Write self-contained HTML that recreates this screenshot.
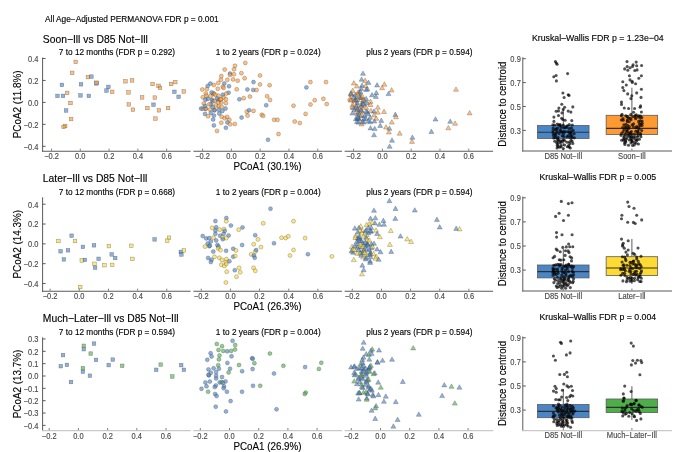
<!DOCTYPE html>
<html><head><meta charset="utf-8"><style>
html,body{margin:0;padding:0;background:#fff;}
svg{display:block;font-family:"Liberation Sans", sans-serif;will-change:transform;}
</style></head><body>
<svg width="685" height="452" viewBox="0 0 685 452">
<rect width="685" height="452" fill="#fff"/>
<text transform="translate(45.00,22.00)" font-size="8.300" text-anchor="start" fill="#000" stroke="#000" stroke-width="0.22" stroke-opacity="0.6">All Age−Adjusted PERMANOVA FDR p = 0.001</text>
<text transform="translate(42.80,43.20)" font-size="10.330" text-anchor="start" fill="#000" stroke="#000" stroke-width="0.22" stroke-opacity="0.6">Soon−Ill vs D85 Not−Ill</text>
<text transform="translate(116.95,55.00)" font-size="8.250" text-anchor="middle" fill="#000" stroke="#000" stroke-width="0.22" stroke-opacity="0.6">7 to 12 months (FDR p = 0.292)</text>
<text transform="translate(268.25,55.00)" font-size="8.250" text-anchor="middle" fill="#000" stroke="#000" stroke-width="0.22" stroke-opacity="0.6">1 to 2 years (FDR p = 0.024)</text>
<text transform="translate(419.45,55.00)" font-size="8.250" text-anchor="middle" fill="#000" stroke="#000" stroke-width="0.22" stroke-opacity="0.6">plus 2 years (FDR p = 0.594)</text>
<line x1="42.60" y1="57.50" x2="42.60" y2="151.70" stroke="#5a5a5a" stroke-width="1.0"/>
<line x1="42.60" y1="58.50" x2="45.60" y2="58.50" stroke="#5a5a5a" stroke-width="1.0"/>
<text transform="translate(38.40,61.90) scale(0.8696,1)" font-size="8.625" text-anchor="end" fill="#464646" stroke="#464646" stroke-width="0.22" stroke-opacity="0.6">0.4</text>
<line x1="42.60" y1="80.45" x2="45.60" y2="80.45" stroke="#5a5a5a" stroke-width="1.0"/>
<text transform="translate(38.40,83.85) scale(0.8696,1)" font-size="8.625" text-anchor="end" fill="#464646" stroke="#464646" stroke-width="0.22" stroke-opacity="0.6">0.2</text>
<line x1="42.60" y1="102.40" x2="45.60" y2="102.40" stroke="#5a5a5a" stroke-width="1.0"/>
<text transform="translate(38.40,105.80) scale(0.8696,1)" font-size="8.625" text-anchor="end" fill="#464646" stroke="#464646" stroke-width="0.22" stroke-opacity="0.6">0.0</text>
<line x1="42.60" y1="124.35" x2="45.60" y2="124.35" stroke="#5a5a5a" stroke-width="1.0"/>
<text transform="translate(38.40,127.75) scale(0.8696,1)" font-size="8.625" text-anchor="end" fill="#464646" stroke="#464646" stroke-width="0.22" stroke-opacity="0.6">−0.2</text>
<line x1="42.60" y1="146.30" x2="45.60" y2="146.30" stroke="#5a5a5a" stroke-width="1.0"/>
<text transform="translate(38.40,149.70) scale(0.8696,1)" font-size="8.625" text-anchor="end" fill="#464646" stroke="#464646" stroke-width="0.22" stroke-opacity="0.6">−0.4</text>
<line x1="42.10" y1="151.20" x2="190.60" y2="151.20" stroke="#5a5a5a" stroke-width="1.1"/>
<line x1="51.52" y1="150.70" x2="51.52" y2="148.70" stroke="#5a5a5a" stroke-width="0.8"/>
<text transform="translate(51.52,159.20) scale(0.8696,1)" font-size="8.625" text-anchor="middle" fill="#464646" stroke="#464646" stroke-width="0.22" stroke-opacity="0.6">−0.2</text>
<line x1="80.30" y1="150.70" x2="80.30" y2="148.70" stroke="#5a5a5a" stroke-width="0.8"/>
<text transform="translate(80.30,159.20) scale(0.8696,1)" font-size="8.625" text-anchor="middle" fill="#464646" stroke="#464646" stroke-width="0.22" stroke-opacity="0.6">0.0</text>
<line x1="109.08" y1="150.70" x2="109.08" y2="148.70" stroke="#5a5a5a" stroke-width="0.8"/>
<text transform="translate(109.08,159.20) scale(0.8696,1)" font-size="8.625" text-anchor="middle" fill="#464646" stroke="#464646" stroke-width="0.22" stroke-opacity="0.6">0.2</text>
<line x1="137.86" y1="150.70" x2="137.86" y2="148.70" stroke="#5a5a5a" stroke-width="0.8"/>
<text transform="translate(137.86,159.20) scale(0.8696,1)" font-size="8.625" text-anchor="middle" fill="#464646" stroke="#464646" stroke-width="0.22" stroke-opacity="0.6">0.4</text>
<line x1="166.64" y1="150.70" x2="166.64" y2="148.70" stroke="#5a5a5a" stroke-width="0.8"/>
<text transform="translate(166.64,159.20) scale(0.8696,1)" font-size="8.625" text-anchor="middle" fill="#464646" stroke="#464646" stroke-width="0.22" stroke-opacity="0.6">0.6</text>
<line x1="193.40" y1="151.20" x2="341.90" y2="151.20" stroke="#5a5a5a" stroke-width="1.1"/>
<line x1="202.62" y1="150.70" x2="202.62" y2="148.70" stroke="#5a5a5a" stroke-width="0.8"/>
<text transform="translate(202.62,159.20) scale(0.8696,1)" font-size="8.625" text-anchor="middle" fill="#464646" stroke="#464646" stroke-width="0.22" stroke-opacity="0.6">−0.2</text>
<line x1="231.40" y1="150.70" x2="231.40" y2="148.70" stroke="#5a5a5a" stroke-width="0.8"/>
<text transform="translate(231.40,159.20) scale(0.8696,1)" font-size="8.625" text-anchor="middle" fill="#464646" stroke="#464646" stroke-width="0.22" stroke-opacity="0.6">0.0</text>
<line x1="260.18" y1="150.70" x2="260.18" y2="148.70" stroke="#5a5a5a" stroke-width="0.8"/>
<text transform="translate(260.18,159.20) scale(0.8696,1)" font-size="8.625" text-anchor="middle" fill="#464646" stroke="#464646" stroke-width="0.22" stroke-opacity="0.6">0.2</text>
<line x1="288.96" y1="150.70" x2="288.96" y2="148.70" stroke="#5a5a5a" stroke-width="0.8"/>
<text transform="translate(288.96,159.20) scale(0.8696,1)" font-size="8.625" text-anchor="middle" fill="#464646" stroke="#464646" stroke-width="0.22" stroke-opacity="0.6">0.4</text>
<line x1="317.74" y1="150.70" x2="317.74" y2="148.70" stroke="#5a5a5a" stroke-width="0.8"/>
<text transform="translate(317.74,159.20) scale(0.8696,1)" font-size="8.625" text-anchor="middle" fill="#464646" stroke="#464646" stroke-width="0.22" stroke-opacity="0.6">0.6</text>
<line x1="344.60" y1="151.20" x2="493.10" y2="151.20" stroke="#5a5a5a" stroke-width="1.1"/>
<line x1="353.62" y1="150.70" x2="353.62" y2="148.70" stroke="#5a5a5a" stroke-width="0.8"/>
<text transform="translate(353.62,159.20) scale(0.8696,1)" font-size="8.625" text-anchor="middle" fill="#464646" stroke="#464646" stroke-width="0.22" stroke-opacity="0.6">−0.2</text>
<line x1="382.40" y1="150.70" x2="382.40" y2="148.70" stroke="#5a5a5a" stroke-width="0.8"/>
<text transform="translate(382.40,159.20) scale(0.8696,1)" font-size="8.625" text-anchor="middle" fill="#464646" stroke="#464646" stroke-width="0.22" stroke-opacity="0.6">0.0</text>
<line x1="411.18" y1="150.70" x2="411.18" y2="148.70" stroke="#5a5a5a" stroke-width="0.8"/>
<text transform="translate(411.18,159.20) scale(0.8696,1)" font-size="8.625" text-anchor="middle" fill="#464646" stroke="#464646" stroke-width="0.22" stroke-opacity="0.6">0.2</text>
<line x1="439.96" y1="150.70" x2="439.96" y2="148.70" stroke="#5a5a5a" stroke-width="0.8"/>
<text transform="translate(439.96,159.20) scale(0.8696,1)" font-size="8.625" text-anchor="middle" fill="#464646" stroke="#464646" stroke-width="0.22" stroke-opacity="0.6">0.4</text>
<line x1="468.74" y1="150.70" x2="468.74" y2="148.70" stroke="#5a5a5a" stroke-width="0.8"/>
<text transform="translate(468.74,159.20) scale(0.8696,1)" font-size="8.625" text-anchor="middle" fill="#464646" stroke="#464646" stroke-width="0.22" stroke-opacity="0.6">0.6</text>
<text transform="translate(267.50,170.40) scale(0.9091,1)" font-size="10.780" text-anchor="middle" fill="#000" stroke="#000" stroke-width="0.22" stroke-opacity="0.6">PCoA1 (30.1%)</text>
<text transform="translate(21.20,104.35) rotate(-90) scale(0.9091,1)" font-size="10.890" text-anchor="middle" fill="#000" stroke="#000" stroke-width="0.22" stroke-opacity="0.6">PCoA2 (11.8%)</text>
<rect x="73.90" y="60.10" width="3.6" height="3.6" fill="#ff9933" fill-opacity="0.62" stroke="#3a3a3a" stroke-width="0.5" stroke-opacity="0.55"/>
<rect x="70.40" y="71.10" width="3.6" height="3.6" fill="#ff9933" fill-opacity="0.62" stroke="#3a3a3a" stroke-width="0.5" stroke-opacity="0.55"/>
<rect x="86.10" y="75.30" width="3.6" height="3.6" fill="#ff9933" fill-opacity="0.62" stroke="#3a3a3a" stroke-width="0.5" stroke-opacity="0.55"/>
<rect x="89.60" y="74.80" width="3.6" height="3.6" fill="#4a83c4" fill-opacity="0.62" stroke="#3a3a3a" stroke-width="0.5" stroke-opacity="0.55"/>
<rect x="94.70" y="81.60" width="3.6" height="3.6" fill="#4a83c4" fill-opacity="0.62" stroke="#3a3a3a" stroke-width="0.5" stroke-opacity="0.55"/>
<rect x="94.70" y="80.90" width="3.6" height="3.6" fill="#ff9933" fill-opacity="0.62" stroke="#3a3a3a" stroke-width="0.5" stroke-opacity="0.55"/>
<rect x="60.10" y="83.10" width="3.6" height="3.6" fill="#4a83c4" fill-opacity="0.62" stroke="#3a3a3a" stroke-width="0.5" stroke-opacity="0.55"/>
<rect x="79.20" y="82.50" width="3.6" height="3.6" fill="#4a83c4" fill-opacity="0.62" stroke="#3a3a3a" stroke-width="0.5" stroke-opacity="0.55"/>
<rect x="106.60" y="85.10" width="3.6" height="3.6" fill="#4a83c4" fill-opacity="0.62" stroke="#3a3a3a" stroke-width="0.5" stroke-opacity="0.55"/>
<rect x="104.70" y="88.80" width="3.6" height="3.6" fill="#4a83c4" fill-opacity="0.62" stroke="#3a3a3a" stroke-width="0.5" stroke-opacity="0.55"/>
<rect x="110.40" y="90.00" width="3.6" height="3.6" fill="#ff9933" fill-opacity="0.62" stroke="#3a3a3a" stroke-width="0.5" stroke-opacity="0.55"/>
<rect x="65.40" y="91.10" width="3.6" height="3.6" fill="#ff9933" fill-opacity="0.62" stroke="#3a3a3a" stroke-width="0.5" stroke-opacity="0.55"/>
<rect x="55.70" y="94.10" width="3.6" height="3.6" fill="#4a83c4" fill-opacity="0.62" stroke="#3a3a3a" stroke-width="0.5" stroke-opacity="0.55"/>
<rect x="61.20" y="94.10" width="3.6" height="3.6" fill="#4a83c4" fill-opacity="0.62" stroke="#3a3a3a" stroke-width="0.5" stroke-opacity="0.55"/>
<rect x="78.70" y="93.60" width="3.6" height="3.6" fill="#4a83c4" fill-opacity="0.62" stroke="#3a3a3a" stroke-width="0.5" stroke-opacity="0.55"/>
<rect x="87.00" y="94.10" width="3.6" height="3.6" fill="#4a83c4" fill-opacity="0.62" stroke="#3a3a3a" stroke-width="0.5" stroke-opacity="0.55"/>
<rect x="68.70" y="101.20" width="3.6" height="3.6" fill="#ff9933" fill-opacity="0.62" stroke="#3a3a3a" stroke-width="0.5" stroke-opacity="0.55"/>
<rect x="64.30" y="108.70" width="3.6" height="3.6" fill="#4a83c4" fill-opacity="0.62" stroke="#3a3a3a" stroke-width="0.5" stroke-opacity="0.55"/>
<rect x="69.30" y="117.20" width="3.6" height="3.6" fill="#ff9933" fill-opacity="0.62" stroke="#3a3a3a" stroke-width="0.5" stroke-opacity="0.55"/>
<rect x="63.40" y="124.20" width="3.6" height="3.6" fill="#ff9933" fill-opacity="0.62" stroke="#3a3a3a" stroke-width="0.5" stroke-opacity="0.55"/>
<rect x="61.80" y="125.10" width="3.6" height="3.6" fill="#ff9933" fill-opacity="0.62" stroke="#3a3a3a" stroke-width="0.5" stroke-opacity="0.55"/>
<rect x="123.70" y="79.50" width="3.6" height="3.6" fill="#ff9933" fill-opacity="0.62" stroke="#3a3a3a" stroke-width="0.5" stroke-opacity="0.55"/>
<rect x="130.30" y="78.60" width="3.6" height="3.6" fill="#ff9933" fill-opacity="0.62" stroke="#3a3a3a" stroke-width="0.5" stroke-opacity="0.55"/>
<rect x="150.80" y="82.20" width="3.6" height="3.6" fill="#ff9933" fill-opacity="0.62" stroke="#3a3a3a" stroke-width="0.5" stroke-opacity="0.55"/>
<rect x="156.70" y="84.00" width="3.6" height="3.6" fill="#ff9933" fill-opacity="0.62" stroke="#3a3a3a" stroke-width="0.5" stroke-opacity="0.55"/>
<rect x="158.20" y="86.10" width="3.6" height="3.6" fill="#ff9933" fill-opacity="0.62" stroke="#3a3a3a" stroke-width="0.5" stroke-opacity="0.55"/>
<rect x="169.30" y="82.20" width="3.6" height="3.6" fill="#ff9933" fill-opacity="0.62" stroke="#3a3a3a" stroke-width="0.5" stroke-opacity="0.55"/>
<rect x="173.50" y="80.30" width="3.6" height="3.6" fill="#ff9933" fill-opacity="0.62" stroke="#3a3a3a" stroke-width="0.5" stroke-opacity="0.55"/>
<rect x="182.00" y="89.70" width="3.6" height="3.6" fill="#ff9933" fill-opacity="0.62" stroke="#3a3a3a" stroke-width="0.5" stroke-opacity="0.55"/>
<rect x="172.60" y="90.00" width="3.6" height="3.6" fill="#4a83c4" fill-opacity="0.62" stroke="#3a3a3a" stroke-width="0.5" stroke-opacity="0.55"/>
<rect x="176.80" y="95.00" width="3.6" height="3.6" fill="#4a83c4" fill-opacity="0.62" stroke="#3a3a3a" stroke-width="0.5" stroke-opacity="0.55"/>
<rect x="126.70" y="90.60" width="3.6" height="3.6" fill="#ff9933" fill-opacity="0.62" stroke="#3a3a3a" stroke-width="0.5" stroke-opacity="0.55"/>
<rect x="140.30" y="95.60" width="3.6" height="3.6" fill="#ff9933" fill-opacity="0.62" stroke="#3a3a3a" stroke-width="0.5" stroke-opacity="0.55"/>
<rect x="153.00" y="95.80" width="3.6" height="3.6" fill="#ff9933" fill-opacity="0.62" stroke="#3a3a3a" stroke-width="0.5" stroke-opacity="0.55"/>
<rect x="127.00" y="102.60" width="3.6" height="3.6" fill="#ff9933" fill-opacity="0.62" stroke="#3a3a3a" stroke-width="0.5" stroke-opacity="0.55"/>
<rect x="151.70" y="102.90" width="3.6" height="3.6" fill="#4a83c4" fill-opacity="0.62" stroke="#3a3a3a" stroke-width="0.5" stroke-opacity="0.55"/>
<rect x="131.10" y="107.90" width="3.6" height="3.6" fill="#ff9933" fill-opacity="0.62" stroke="#3a3a3a" stroke-width="0.5" stroke-opacity="0.55"/>
<rect x="145.60" y="106.20" width="3.6" height="3.6" fill="#ff9933" fill-opacity="0.62" stroke="#3a3a3a" stroke-width="0.5" stroke-opacity="0.55"/>
<rect x="157.10" y="108.50" width="3.6" height="3.6" fill="#ff9933" fill-opacity="0.62" stroke="#3a3a3a" stroke-width="0.5" stroke-opacity="0.55"/>
<rect x="166.30" y="106.20" width="3.6" height="3.6" fill="#ff9933" fill-opacity="0.62" stroke="#3a3a3a" stroke-width="0.5" stroke-opacity="0.55"/>
<rect x="153.60" y="116.80" width="3.6" height="3.6" fill="#ff9933" fill-opacity="0.62" stroke="#3a3a3a" stroke-width="0.5" stroke-opacity="0.55"/>
<circle cx="212.03" cy="99.70" r="2.0" fill="#4a83c4" fill-opacity="0.62" stroke="#3a3a3a" stroke-width="0.5" stroke-opacity="0.55"/>
<circle cx="213.50" cy="94.05" r="2.0" fill="#ff9933" fill-opacity="0.62" stroke="#3a3a3a" stroke-width="0.5" stroke-opacity="0.55"/>
<circle cx="221.39" cy="102.35" r="2.0" fill="#ff9933" fill-opacity="0.62" stroke="#3a3a3a" stroke-width="0.5" stroke-opacity="0.55"/>
<circle cx="214.66" cy="110.08" r="2.0" fill="#ff9933" fill-opacity="0.62" stroke="#3a3a3a" stroke-width="0.5" stroke-opacity="0.55"/>
<circle cx="210.91" cy="104.39" r="2.0" fill="#4a83c4" fill-opacity="0.62" stroke="#3a3a3a" stroke-width="0.5" stroke-opacity="0.55"/>
<circle cx="205.48" cy="109.04" r="2.0" fill="#4a83c4" fill-opacity="0.62" stroke="#3a3a3a" stroke-width="0.5" stroke-opacity="0.55"/>
<circle cx="218.65" cy="100.23" r="2.0" fill="#4a83c4" fill-opacity="0.62" stroke="#3a3a3a" stroke-width="0.5" stroke-opacity="0.55"/>
<circle cx="220.50" cy="99.39" r="2.0" fill="#ff9933" fill-opacity="0.62" stroke="#3a3a3a" stroke-width="0.5" stroke-opacity="0.55"/>
<circle cx="202.82" cy="97.21" r="2.0" fill="#ff9933" fill-opacity="0.62" stroke="#3a3a3a" stroke-width="0.5" stroke-opacity="0.55"/>
<circle cx="218.65" cy="106.17" r="2.0" fill="#ff9933" fill-opacity="0.62" stroke="#3a3a3a" stroke-width="0.5" stroke-opacity="0.55"/>
<circle cx="202.56" cy="108.75" r="2.0" fill="#ff9933" fill-opacity="0.62" stroke="#3a3a3a" stroke-width="0.5" stroke-opacity="0.55"/>
<circle cx="205.00" cy="113.98" r="2.0" fill="#4a83c4" fill-opacity="0.62" stroke="#3a3a3a" stroke-width="0.5" stroke-opacity="0.55"/>
<circle cx="205.87" cy="108.40" r="2.0" fill="#ff9933" fill-opacity="0.62" stroke="#3a3a3a" stroke-width="0.5" stroke-opacity="0.55"/>
<circle cx="213.63" cy="93.23" r="2.0" fill="#ff9933" fill-opacity="0.62" stroke="#3a3a3a" stroke-width="0.5" stroke-opacity="0.55"/>
<circle cx="235.00" cy="65.80" r="2.0" fill="#ff9933" fill-opacity="0.62" stroke="#3a3a3a" stroke-width="0.5" stroke-opacity="0.55"/>
<circle cx="234.00" cy="69.30" r="2.0" fill="#ff9933" fill-opacity="0.62" stroke="#3a3a3a" stroke-width="0.5" stroke-opacity="0.55"/>
<circle cx="224.70" cy="69.60" r="2.0" fill="#ff9933" fill-opacity="0.62" stroke="#3a3a3a" stroke-width="0.5" stroke-opacity="0.55"/>
<circle cx="241.40" cy="73.20" r="2.0" fill="#ff9933" fill-opacity="0.62" stroke="#3a3a3a" stroke-width="0.5" stroke-opacity="0.55"/>
<circle cx="230.00" cy="73.60" r="2.0" fill="#4a83c4" fill-opacity="0.62" stroke="#3a3a3a" stroke-width="0.5" stroke-opacity="0.55"/>
<circle cx="230.00" cy="75.00" r="2.0" fill="#ff9933" fill-opacity="0.62" stroke="#3a3a3a" stroke-width="0.5" stroke-opacity="0.55"/>
<circle cx="233.90" cy="74.30" r="2.0" fill="#ff9933" fill-opacity="0.62" stroke="#3a3a3a" stroke-width="0.5" stroke-opacity="0.55"/>
<circle cx="221.30" cy="76.10" r="2.0" fill="#ff9933" fill-opacity="0.62" stroke="#3a3a3a" stroke-width="0.5" stroke-opacity="0.55"/>
<circle cx="227.40" cy="79.80" r="2.0" fill="#ff9933" fill-opacity="0.62" stroke="#3a3a3a" stroke-width="0.5" stroke-opacity="0.55"/>
<circle cx="233.10" cy="79.40" r="2.0" fill="#ff9933" fill-opacity="0.62" stroke="#3a3a3a" stroke-width="0.5" stroke-opacity="0.55"/>
<circle cx="237.70" cy="80.70" r="2.0" fill="#ff9933" fill-opacity="0.62" stroke="#3a3a3a" stroke-width="0.5" stroke-opacity="0.55"/>
<circle cx="220.90" cy="79.80" r="2.0" fill="#ff9933" fill-opacity="0.62" stroke="#3a3a3a" stroke-width="0.5" stroke-opacity="0.55"/>
<circle cx="218.20" cy="82.90" r="2.0" fill="#ff9933" fill-opacity="0.62" stroke="#3a3a3a" stroke-width="0.5" stroke-opacity="0.55"/>
<circle cx="224.30" cy="83.50" r="2.0" fill="#4a83c4" fill-opacity="0.62" stroke="#3a3a3a" stroke-width="0.5" stroke-opacity="0.55"/>
<circle cx="229.00" cy="86.30" r="2.0" fill="#4a83c4" fill-opacity="0.62" stroke="#3a3a3a" stroke-width="0.5" stroke-opacity="0.55"/>
<circle cx="213.90" cy="85.00" r="2.0" fill="#ff9933" fill-opacity="0.62" stroke="#3a3a3a" stroke-width="0.5" stroke-opacity="0.55"/>
<circle cx="210.40" cy="83.60" r="2.0" fill="#4a83c4" fill-opacity="0.62" stroke="#3a3a3a" stroke-width="0.5" stroke-opacity="0.55"/>
<circle cx="207.70" cy="86.00" r="2.0" fill="#4a83c4" fill-opacity="0.62" stroke="#3a3a3a" stroke-width="0.5" stroke-opacity="0.55"/>
<circle cx="222.80" cy="86.70" r="2.0" fill="#ff9933" fill-opacity="0.62" stroke="#3a3a3a" stroke-width="0.5" stroke-opacity="0.55"/>
<circle cx="223.60" cy="87.90" r="2.0" fill="#ff9933" fill-opacity="0.62" stroke="#3a3a3a" stroke-width="0.5" stroke-opacity="0.55"/>
<circle cx="217.80" cy="88.70" r="2.0" fill="#ff9933" fill-opacity="0.62" stroke="#3a3a3a" stroke-width="0.5" stroke-opacity="0.55"/>
<circle cx="206.90" cy="89.10" r="2.0" fill="#ff9933" fill-opacity="0.62" stroke="#3a3a3a" stroke-width="0.5" stroke-opacity="0.55"/>
<circle cx="202.30" cy="89.50" r="2.0" fill="#ff9933" fill-opacity="0.62" stroke="#3a3a3a" stroke-width="0.5" stroke-opacity="0.55"/>
<circle cx="236.70" cy="89.30" r="2.0" fill="#ff9933" fill-opacity="0.62" stroke="#3a3a3a" stroke-width="0.5" stroke-opacity="0.55"/>
<circle cx="211.60" cy="92.40" r="2.0" fill="#4a83c4" fill-opacity="0.62" stroke="#3a3a3a" stroke-width="0.5" stroke-opacity="0.55"/>
<circle cx="205.80" cy="93.50" r="2.0" fill="#ff9933" fill-opacity="0.62" stroke="#3a3a3a" stroke-width="0.5" stroke-opacity="0.55"/>
<circle cx="215.40" cy="94.70" r="2.0" fill="#ff9933" fill-opacity="0.62" stroke="#3a3a3a" stroke-width="0.5" stroke-opacity="0.55"/>
<circle cx="222.80" cy="94.70" r="2.0" fill="#4a83c4" fill-opacity="0.62" stroke="#3a3a3a" stroke-width="0.5" stroke-opacity="0.55"/>
<circle cx="228.60" cy="92.70" r="2.0" fill="#4a83c4" fill-opacity="0.62" stroke="#3a3a3a" stroke-width="0.5" stroke-opacity="0.55"/>
<circle cx="226.30" cy="93.50" r="2.0" fill="#ff9933" fill-opacity="0.62" stroke="#3a3a3a" stroke-width="0.5" stroke-opacity="0.55"/>
<circle cx="206.50" cy="95.80" r="2.0" fill="#ff9933" fill-opacity="0.62" stroke="#3a3a3a" stroke-width="0.5" stroke-opacity="0.55"/>
<circle cx="210.40" cy="96.20" r="2.0" fill="#ff9933" fill-opacity="0.62" stroke="#3a3a3a" stroke-width="0.5" stroke-opacity="0.55"/>
<circle cx="218.50" cy="95.80" r="2.0" fill="#ff9933" fill-opacity="0.62" stroke="#3a3a3a" stroke-width="0.5" stroke-opacity="0.55"/>
<circle cx="223.60" cy="97.40" r="2.0" fill="#ff9933" fill-opacity="0.62" stroke="#3a3a3a" stroke-width="0.5" stroke-opacity="0.55"/>
<circle cx="207.70" cy="98.90" r="2.0" fill="#4a83c4" fill-opacity="0.62" stroke="#3a3a3a" stroke-width="0.5" stroke-opacity="0.55"/>
<circle cx="205.40" cy="99.70" r="2.0" fill="#4a83c4" fill-opacity="0.62" stroke="#3a3a3a" stroke-width="0.5" stroke-opacity="0.55"/>
<circle cx="217.00" cy="98.50" r="2.0" fill="#4a83c4" fill-opacity="0.62" stroke="#3a3a3a" stroke-width="0.5" stroke-opacity="0.55"/>
<circle cx="220.90" cy="99.30" r="2.0" fill="#ff9933" fill-opacity="0.62" stroke="#3a3a3a" stroke-width="0.5" stroke-opacity="0.55"/>
<circle cx="225.90" cy="99.30" r="2.0" fill="#ff9933" fill-opacity="0.62" stroke="#3a3a3a" stroke-width="0.5" stroke-opacity="0.55"/>
<circle cx="239.40" cy="99.30" r="2.0" fill="#4a83c4" fill-opacity="0.62" stroke="#3a3a3a" stroke-width="0.5" stroke-opacity="0.55"/>
<circle cx="212.70" cy="101.30" r="2.0" fill="#4a83c4" fill-opacity="0.62" stroke="#3a3a3a" stroke-width="0.5" stroke-opacity="0.55"/>
<circle cx="214.70" cy="100.90" r="2.0" fill="#ff9933" fill-opacity="0.62" stroke="#3a3a3a" stroke-width="0.5" stroke-opacity="0.55"/>
<circle cx="218.20" cy="102.40" r="2.0" fill="#ff9933" fill-opacity="0.62" stroke="#3a3a3a" stroke-width="0.5" stroke-opacity="0.55"/>
<circle cx="203.80" cy="103.60" r="2.0" fill="#ff9933" fill-opacity="0.62" stroke="#3a3a3a" stroke-width="0.5" stroke-opacity="0.55"/>
<circle cx="209.30" cy="104.30" r="2.0" fill="#ff9933" fill-opacity="0.62" stroke="#3a3a3a" stroke-width="0.5" stroke-opacity="0.55"/>
<circle cx="225.90" cy="103.20" r="2.0" fill="#ff9933" fill-opacity="0.62" stroke="#3a3a3a" stroke-width="0.5" stroke-opacity="0.55"/>
<circle cx="205.00" cy="105.90" r="2.0" fill="#4a83c4" fill-opacity="0.62" stroke="#3a3a3a" stroke-width="0.5" stroke-opacity="0.55"/>
<circle cx="215.80" cy="105.50" r="2.0" fill="#ff9933" fill-opacity="0.62" stroke="#3a3a3a" stroke-width="0.5" stroke-opacity="0.55"/>
<circle cx="221.60" cy="106.70" r="2.0" fill="#ff9933" fill-opacity="0.62" stroke="#3a3a3a" stroke-width="0.5" stroke-opacity="0.55"/>
<circle cx="212.70" cy="107.10" r="2.0" fill="#4a83c4" fill-opacity="0.62" stroke="#3a3a3a" stroke-width="0.5" stroke-opacity="0.55"/>
<circle cx="201.10" cy="108.60" r="2.0" fill="#4a83c4" fill-opacity="0.62" stroke="#3a3a3a" stroke-width="0.5" stroke-opacity="0.55"/>
<circle cx="210.00" cy="109.40" r="2.0" fill="#ff9933" fill-opacity="0.62" stroke="#3a3a3a" stroke-width="0.5" stroke-opacity="0.55"/>
<circle cx="214.30" cy="110.20" r="2.0" fill="#4a83c4" fill-opacity="0.62" stroke="#3a3a3a" stroke-width="0.5" stroke-opacity="0.55"/>
<circle cx="218.90" cy="109.80" r="2.0" fill="#4a83c4" fill-opacity="0.62" stroke="#3a3a3a" stroke-width="0.5" stroke-opacity="0.55"/>
<circle cx="225.50" cy="108.60" r="2.0" fill="#4a83c4" fill-opacity="0.62" stroke="#3a3a3a" stroke-width="0.5" stroke-opacity="0.55"/>
<circle cx="222.40" cy="110.90" r="2.0" fill="#4a83c4" fill-opacity="0.62" stroke="#3a3a3a" stroke-width="0.5" stroke-opacity="0.55"/>
<circle cx="210.80" cy="112.90" r="2.0" fill="#4a83c4" fill-opacity="0.62" stroke="#3a3a3a" stroke-width="0.5" stroke-opacity="0.55"/>
<circle cx="219.30" cy="113.60" r="2.0" fill="#4a83c4" fill-opacity="0.62" stroke="#3a3a3a" stroke-width="0.5" stroke-opacity="0.55"/>
<circle cx="208.10" cy="116.30" r="2.0" fill="#ff9933" fill-opacity="0.62" stroke="#3a3a3a" stroke-width="0.5" stroke-opacity="0.55"/>
<circle cx="213.90" cy="115.60" r="2.0" fill="#4a83c4" fill-opacity="0.62" stroke="#3a3a3a" stroke-width="0.5" stroke-opacity="0.55"/>
<circle cx="221.60" cy="116.70" r="2.0" fill="#ff9933" fill-opacity="0.62" stroke="#3a3a3a" stroke-width="0.5" stroke-opacity="0.55"/>
<circle cx="224.70" cy="118.30" r="2.0" fill="#ff9933" fill-opacity="0.62" stroke="#3a3a3a" stroke-width="0.5" stroke-opacity="0.55"/>
<circle cx="227.10" cy="116.90" r="2.0" fill="#ff9933" fill-opacity="0.62" stroke="#3a3a3a" stroke-width="0.5" stroke-opacity="0.55"/>
<circle cx="213.10" cy="119.50" r="2.0" fill="#4a83c4" fill-opacity="0.62" stroke="#3a3a3a" stroke-width="0.5" stroke-opacity="0.55"/>
<circle cx="241.60" cy="117.60" r="2.0" fill="#4a83c4" fill-opacity="0.62" stroke="#3a3a3a" stroke-width="0.5" stroke-opacity="0.55"/>
<circle cx="229.40" cy="119.80" r="2.0" fill="#ff9933" fill-opacity="0.62" stroke="#3a3a3a" stroke-width="0.5" stroke-opacity="0.55"/>
<circle cx="221.30" cy="122.70" r="2.0" fill="#ff9933" fill-opacity="0.62" stroke="#3a3a3a" stroke-width="0.5" stroke-opacity="0.55"/>
<circle cx="227.40" cy="122.40" r="2.0" fill="#4a83c4" fill-opacity="0.62" stroke="#3a3a3a" stroke-width="0.5" stroke-opacity="0.55"/>
<circle cx="230.20" cy="124.30" r="2.0" fill="#ff9933" fill-opacity="0.62" stroke="#3a3a3a" stroke-width="0.5" stroke-opacity="0.55"/>
<circle cx="234.80" cy="123.90" r="2.0" fill="#ff9933" fill-opacity="0.62" stroke="#3a3a3a" stroke-width="0.5" stroke-opacity="0.55"/>
<circle cx="213.90" cy="125.40" r="2.0" fill="#4a83c4" fill-opacity="0.62" stroke="#3a3a3a" stroke-width="0.5" stroke-opacity="0.55"/>
<circle cx="225.90" cy="127.80" r="2.0" fill="#4a83c4" fill-opacity="0.62" stroke="#3a3a3a" stroke-width="0.5" stroke-opacity="0.55"/>
<circle cx="217.00" cy="130.90" r="2.0" fill="#ff9933" fill-opacity="0.62" stroke="#3a3a3a" stroke-width="0.5" stroke-opacity="0.55"/>
<circle cx="245.30" cy="62.90" r="2.0" fill="#ff9933" fill-opacity="0.62" stroke="#3a3a3a" stroke-width="0.5" stroke-opacity="0.55"/>
<circle cx="244.60" cy="78.20" r="2.0" fill="#ff9933" fill-opacity="0.62" stroke="#3a3a3a" stroke-width="0.5" stroke-opacity="0.55"/>
<circle cx="260.00" cy="75.50" r="2.0" fill="#ff9933" fill-opacity="0.62" stroke="#3a3a3a" stroke-width="0.5" stroke-opacity="0.55"/>
<circle cx="253.50" cy="82.10" r="2.0" fill="#4a83c4" fill-opacity="0.62" stroke="#3a3a3a" stroke-width="0.5" stroke-opacity="0.55"/>
<circle cx="260.00" cy="84.40" r="2.0" fill="#ff9933" fill-opacity="0.62" stroke="#3a3a3a" stroke-width="0.5" stroke-opacity="0.55"/>
<circle cx="269.60" cy="85.20" r="2.0" fill="#ff9933" fill-opacity="0.62" stroke="#3a3a3a" stroke-width="0.5" stroke-opacity="0.55"/>
<circle cx="247.40" cy="89.40" r="2.0" fill="#4a83c4" fill-opacity="0.62" stroke="#3a3a3a" stroke-width="0.5" stroke-opacity="0.55"/>
<circle cx="253.20" cy="89.90" r="2.0" fill="#4a83c4" fill-opacity="0.62" stroke="#3a3a3a" stroke-width="0.5" stroke-opacity="0.55"/>
<circle cx="256.60" cy="90.00" r="2.0" fill="#ff9933" fill-opacity="0.62" stroke="#3a3a3a" stroke-width="0.5" stroke-opacity="0.55"/>
<circle cx="243.70" cy="98.20" r="2.0" fill="#ff9933" fill-opacity="0.62" stroke="#3a3a3a" stroke-width="0.5" stroke-opacity="0.55"/>
<circle cx="249.90" cy="96.60" r="2.0" fill="#ff9933" fill-opacity="0.62" stroke="#3a3a3a" stroke-width="0.5" stroke-opacity="0.55"/>
<circle cx="267.10" cy="96.20" r="2.0" fill="#ff9933" fill-opacity="0.62" stroke="#3a3a3a" stroke-width="0.5" stroke-opacity="0.55"/>
<circle cx="270.00" cy="99.90" r="2.0" fill="#ff9933" fill-opacity="0.62" stroke="#3a3a3a" stroke-width="0.5" stroke-opacity="0.55"/>
<circle cx="266.20" cy="105.30" r="2.0" fill="#4a83c4" fill-opacity="0.62" stroke="#3a3a3a" stroke-width="0.5" stroke-opacity="0.55"/>
<circle cx="246.80" cy="111.70" r="2.0" fill="#ff9933" fill-opacity="0.62" stroke="#3a3a3a" stroke-width="0.5" stroke-opacity="0.55"/>
<circle cx="249.10" cy="110.20" r="2.0" fill="#4a83c4" fill-opacity="0.62" stroke="#3a3a3a" stroke-width="0.5" stroke-opacity="0.55"/>
<circle cx="253.50" cy="110.90" r="2.0" fill="#ff9933" fill-opacity="0.62" stroke="#3a3a3a" stroke-width="0.5" stroke-opacity="0.55"/>
<circle cx="247.60" cy="115.60" r="2.0" fill="#ff9933" fill-opacity="0.62" stroke="#3a3a3a" stroke-width="0.5" stroke-opacity="0.55"/>
<circle cx="261.70" cy="114.80" r="2.0" fill="#ff9933" fill-opacity="0.62" stroke="#3a3a3a" stroke-width="0.5" stroke-opacity="0.55"/>
<circle cx="263.20" cy="115.80" r="2.0" fill="#ff9933" fill-opacity="0.62" stroke="#3a3a3a" stroke-width="0.5" stroke-opacity="0.55"/>
<circle cx="274.10" cy="119.80" r="2.0" fill="#ff9933" fill-opacity="0.62" stroke="#3a3a3a" stroke-width="0.5" stroke-opacity="0.55"/>
<circle cx="277.50" cy="119.80" r="2.0" fill="#ff9933" fill-opacity="0.62" stroke="#3a3a3a" stroke-width="0.5" stroke-opacity="0.55"/>
<circle cx="278.50" cy="134.00" r="2.0" fill="#ff9933" fill-opacity="0.62" stroke="#3a3a3a" stroke-width="0.5" stroke-opacity="0.55"/>
<circle cx="268.00" cy="139.80" r="2.0" fill="#4a83c4" fill-opacity="0.62" stroke="#3a3a3a" stroke-width="0.5" stroke-opacity="0.55"/>
<circle cx="310.40" cy="82.10" r="2.0" fill="#ff9933" fill-opacity="0.62" stroke="#3a3a3a" stroke-width="0.5" stroke-opacity="0.55"/>
<circle cx="326.00" cy="82.10" r="2.0" fill="#ff9933" fill-opacity="0.62" stroke="#3a3a3a" stroke-width="0.5" stroke-opacity="0.55"/>
<circle cx="306.40" cy="87.40" r="2.0" fill="#4a83c4" fill-opacity="0.62" stroke="#3a3a3a" stroke-width="0.5" stroke-opacity="0.55"/>
<circle cx="314.70" cy="100.20" r="2.0" fill="#ff9933" fill-opacity="0.62" stroke="#3a3a3a" stroke-width="0.5" stroke-opacity="0.55"/>
<circle cx="323.40" cy="98.80" r="2.0" fill="#ff9933" fill-opacity="0.62" stroke="#3a3a3a" stroke-width="0.5" stroke-opacity="0.55"/>
<circle cx="293.50" cy="105.70" r="2.0" fill="#ff9933" fill-opacity="0.62" stroke="#3a3a3a" stroke-width="0.5" stroke-opacity="0.55"/>
<circle cx="310.50" cy="104.50" r="2.0" fill="#ff9933" fill-opacity="0.62" stroke="#3a3a3a" stroke-width="0.5" stroke-opacity="0.55"/>
<circle cx="326.70" cy="104.10" r="2.0" fill="#ff9933" fill-opacity="0.62" stroke="#3a3a3a" stroke-width="0.5" stroke-opacity="0.55"/>
<circle cx="305.60" cy="113.90" r="2.0" fill="#ff9933" fill-opacity="0.62" stroke="#3a3a3a" stroke-width="0.5" stroke-opacity="0.55"/>
<circle cx="294.70" cy="121.50" r="2.0" fill="#ff9933" fill-opacity="0.62" stroke="#3a3a3a" stroke-width="0.5" stroke-opacity="0.55"/>
<circle cx="299.80" cy="123.00" r="2.0" fill="#ff9933" fill-opacity="0.62" stroke="#3a3a3a" stroke-width="0.5" stroke-opacity="0.55"/>
<path d="M357.51 111.26L360.01 115.66L355.01 115.66Z" fill="#4a83c4" fill-opacity="0.62" stroke="#3a3a3a" stroke-width="0.5" stroke-opacity="0.55"/>
<path d="M360.94 95.01L363.44 99.41L358.44 99.41Z" fill="#4a83c4" fill-opacity="0.62" stroke="#3a3a3a" stroke-width="0.5" stroke-opacity="0.55"/>
<path d="M358.56 109.90L361.06 114.30L356.06 114.30Z" fill="#4a83c4" fill-opacity="0.62" stroke="#3a3a3a" stroke-width="0.5" stroke-opacity="0.55"/>
<path d="M352.36 110.66L354.86 115.06L349.86 115.06Z" fill="#4a83c4" fill-opacity="0.62" stroke="#3a3a3a" stroke-width="0.5" stroke-opacity="0.55"/>
<path d="M350.97 97.41L353.47 101.81L348.47 101.81Z" fill="#ff9933" fill-opacity="0.62" stroke="#3a3a3a" stroke-width="0.5" stroke-opacity="0.55"/>
<path d="M357.16 102.13L359.66 106.53L354.66 106.53Z" fill="#ff9933" fill-opacity="0.62" stroke="#3a3a3a" stroke-width="0.5" stroke-opacity="0.55"/>
<path d="M351.49 91.93L353.99 96.33L348.99 96.33Z" fill="#ff9933" fill-opacity="0.62" stroke="#3a3a3a" stroke-width="0.5" stroke-opacity="0.55"/>
<path d="M355.46 96.75L357.96 101.15L352.96 101.15Z" fill="#4a83c4" fill-opacity="0.62" stroke="#3a3a3a" stroke-width="0.5" stroke-opacity="0.55"/>
<path d="M355.84 116.23L358.34 120.63L353.34 120.63Z" fill="#4a83c4" fill-opacity="0.62" stroke="#3a3a3a" stroke-width="0.5" stroke-opacity="0.55"/>
<path d="M361.58 102.22L364.08 106.62L359.08 106.62Z" fill="#4a83c4" fill-opacity="0.62" stroke="#3a3a3a" stroke-width="0.5" stroke-opacity="0.55"/>
<path d="M358.76 116.20L361.26 120.60L356.26 120.60Z" fill="#ff9933" fill-opacity="0.62" stroke="#3a3a3a" stroke-width="0.5" stroke-opacity="0.55"/>
<path d="M355.69 96.70L358.19 101.10L353.19 101.10Z" fill="#4a83c4" fill-opacity="0.62" stroke="#3a3a3a" stroke-width="0.5" stroke-opacity="0.55"/>
<path d="M365.58 115.96L368.08 120.36L363.08 120.36Z" fill="#4a83c4" fill-opacity="0.62" stroke="#3a3a3a" stroke-width="0.5" stroke-opacity="0.55"/>
<path d="M358.13 115.91L360.63 120.31L355.63 120.31Z" fill="#4a83c4" fill-opacity="0.62" stroke="#3a3a3a" stroke-width="0.5" stroke-opacity="0.55"/>
<path d="M353.32 105.27L355.82 109.67L350.82 109.67Z" fill="#4a83c4" fill-opacity="0.62" stroke="#3a3a3a" stroke-width="0.5" stroke-opacity="0.55"/>
<path d="M361.05 95.17L363.55 99.57L358.55 99.57Z" fill="#ff9933" fill-opacity="0.62" stroke="#3a3a3a" stroke-width="0.5" stroke-opacity="0.55"/>
<path d="M355.46 92.21L357.96 96.61L352.96 96.61Z" fill="#4a83c4" fill-opacity="0.62" stroke="#3a3a3a" stroke-width="0.5" stroke-opacity="0.55"/>
<path d="M361.42 107.86L363.92 112.26L358.92 112.26Z" fill="#ff9933" fill-opacity="0.62" stroke="#3a3a3a" stroke-width="0.5" stroke-opacity="0.55"/>
<path d="M367.37 109.67L369.87 114.07L364.87 114.07Z" fill="#4a83c4" fill-opacity="0.62" stroke="#3a3a3a" stroke-width="0.5" stroke-opacity="0.55"/>
<path d="M361.70 108.72L364.20 113.12L359.20 113.12Z" fill="#ff9933" fill-opacity="0.62" stroke="#3a3a3a" stroke-width="0.5" stroke-opacity="0.55"/>
<path d="M351.14 90.51L353.64 94.91L348.64 94.91Z" fill="#ff9933" fill-opacity="0.62" stroke="#3a3a3a" stroke-width="0.5" stroke-opacity="0.55"/>
<path d="M360.79 113.52L363.29 117.92L358.29 117.92Z" fill="#4a83c4" fill-opacity="0.62" stroke="#3a3a3a" stroke-width="0.5" stroke-opacity="0.55"/>
<path d="M357.93 115.52L360.43 119.92L355.43 119.92Z" fill="#4a83c4" fill-opacity="0.62" stroke="#3a3a3a" stroke-width="0.5" stroke-opacity="0.55"/>
<path d="M354.21 98.52L356.71 102.92L351.71 102.92Z" fill="#ff9933" fill-opacity="0.62" stroke="#3a3a3a" stroke-width="0.5" stroke-opacity="0.55"/>
<path d="M361.92 103.58L364.42 107.98L359.42 107.98Z" fill="#4a83c4" fill-opacity="0.62" stroke="#3a3a3a" stroke-width="0.5" stroke-opacity="0.55"/>
<path d="M357.32 106.49L359.82 110.89L354.82 110.89Z" fill="#4a83c4" fill-opacity="0.62" stroke="#3a3a3a" stroke-width="0.5" stroke-opacity="0.55"/>
<path d="M362.74 99.17L365.24 103.57L360.24 103.57Z" fill="#4a83c4" fill-opacity="0.62" stroke="#3a3a3a" stroke-width="0.5" stroke-opacity="0.55"/>
<path d="M359.23 90.32L361.73 94.72L356.73 94.72Z" fill="#4a83c4" fill-opacity="0.62" stroke="#3a3a3a" stroke-width="0.5" stroke-opacity="0.55"/>
<path d="M363.79 101.81L366.29 106.21L361.29 106.21Z" fill="#ff9933" fill-opacity="0.62" stroke="#3a3a3a" stroke-width="0.5" stroke-opacity="0.55"/>
<path d="M356.96 119.10L359.46 123.50L354.46 123.50Z" fill="#4a83c4" fill-opacity="0.62" stroke="#3a3a3a" stroke-width="0.5" stroke-opacity="0.55"/>
<path d="M350.01 95.90L352.51 100.30L347.51 100.30Z" fill="#ff9933" fill-opacity="0.62" stroke="#3a3a3a" stroke-width="0.5" stroke-opacity="0.55"/>
<path d="M358.46 119.79L360.96 124.19L355.96 124.19Z" fill="#4a83c4" fill-opacity="0.62" stroke="#3a3a3a" stroke-width="0.5" stroke-opacity="0.55"/>
<path d="M357.56 106.95L360.06 111.35L355.06 111.35Z" fill="#4a83c4" fill-opacity="0.62" stroke="#3a3a3a" stroke-width="0.5" stroke-opacity="0.55"/>
<path d="M364.01 97.76L366.51 102.16L361.51 102.16Z" fill="#4a83c4" fill-opacity="0.62" stroke="#3a3a3a" stroke-width="0.5" stroke-opacity="0.55"/>
<path d="M363.00 70.90L365.50 75.30L360.50 75.30Z" fill="#4a83c4" fill-opacity="0.62" stroke="#3a3a3a" stroke-width="0.5" stroke-opacity="0.55"/>
<path d="M361.60 76.90L364.10 81.30L359.10 81.30Z" fill="#4a83c4" fill-opacity="0.62" stroke="#3a3a3a" stroke-width="0.5" stroke-opacity="0.55"/>
<path d="M365.10 78.10L367.60 82.50L362.60 82.50Z" fill="#ff9933" fill-opacity="0.62" stroke="#3a3a3a" stroke-width="0.5" stroke-opacity="0.55"/>
<path d="M368.50 80.00L371.00 84.40L366.00 84.40Z" fill="#4a83c4" fill-opacity="0.62" stroke="#3a3a3a" stroke-width="0.5" stroke-opacity="0.55"/>
<path d="M353.80 80.60L356.30 85.00L351.30 85.00Z" fill="#ff9933" fill-opacity="0.62" stroke="#3a3a3a" stroke-width="0.5" stroke-opacity="0.55"/>
<path d="M356.90 83.70L359.40 88.10L354.40 88.10Z" fill="#ff9933" fill-opacity="0.62" stroke="#3a3a3a" stroke-width="0.5" stroke-opacity="0.55"/>
<path d="M362.00 82.90L364.50 87.30L359.50 87.30Z" fill="#4a83c4" fill-opacity="0.62" stroke="#3a3a3a" stroke-width="0.5" stroke-opacity="0.55"/>
<path d="M365.60 83.30L368.10 87.70L363.10 87.70Z" fill="#ff9933" fill-opacity="0.62" stroke="#3a3a3a" stroke-width="0.5" stroke-opacity="0.55"/>
<path d="M377.10 82.60L379.60 87.00L374.60 87.00Z" fill="#4a83c4" fill-opacity="0.62" stroke="#3a3a3a" stroke-width="0.5" stroke-opacity="0.55"/>
<path d="M384.40 81.80L386.90 86.20L381.90 86.20Z" fill="#ff9933" fill-opacity="0.62" stroke="#3a3a3a" stroke-width="0.5" stroke-opacity="0.55"/>
<path d="M382.10 85.30L384.60 89.70L379.60 89.70Z" fill="#ff9933" fill-opacity="0.62" stroke="#3a3a3a" stroke-width="0.5" stroke-opacity="0.55"/>
<path d="M367.40 86.40L369.90 90.80L364.90 90.80Z" fill="#4a83c4" fill-opacity="0.62" stroke="#3a3a3a" stroke-width="0.5" stroke-opacity="0.55"/>
<path d="M366.20 87.20L368.70 91.60L363.70 91.60Z" fill="#4a83c4" fill-opacity="0.62" stroke="#3a3a3a" stroke-width="0.5" stroke-opacity="0.55"/>
<path d="M361.20 86.00L363.70 90.40L358.70 90.40Z" fill="#4a83c4" fill-opacity="0.62" stroke="#3a3a3a" stroke-width="0.5" stroke-opacity="0.55"/>
<path d="M391.60 87.60L394.10 92.00L389.10 92.00Z" fill="#ff9933" fill-opacity="0.62" stroke="#3a3a3a" stroke-width="0.5" stroke-opacity="0.55"/>
<path d="M352.70 88.00L355.20 92.40L350.20 92.40Z" fill="#ff9933" fill-opacity="0.62" stroke="#3a3a3a" stroke-width="0.5" stroke-opacity="0.55"/>
<path d="M358.10 89.90L360.60 94.30L355.60 94.30Z" fill="#ff9933" fill-opacity="0.62" stroke="#3a3a3a" stroke-width="0.5" stroke-opacity="0.55"/>
<path d="M360.40 89.10L362.90 93.50L357.90 93.50Z" fill="#4a83c4" fill-opacity="0.62" stroke="#3a3a3a" stroke-width="0.5" stroke-opacity="0.55"/>
<path d="M376.30 90.30L378.80 94.70L373.80 94.70Z" fill="#4a83c4" fill-opacity="0.62" stroke="#3a3a3a" stroke-width="0.5" stroke-opacity="0.55"/>
<path d="M388.50 91.20L391.00 95.60L386.00 95.60Z" fill="#4a83c4" fill-opacity="0.62" stroke="#3a3a3a" stroke-width="0.5" stroke-opacity="0.55"/>
<path d="M350.70 91.40L353.20 95.80L348.20 95.80Z" fill="#4a83c4" fill-opacity="0.62" stroke="#3a3a3a" stroke-width="0.5" stroke-opacity="0.55"/>
<path d="M372.00 92.40L374.50 96.80L369.50 96.80Z" fill="#4a83c4" fill-opacity="0.62" stroke="#3a3a3a" stroke-width="0.5" stroke-opacity="0.55"/>
<path d="M375.90 94.00L378.40 98.40L373.40 98.40Z" fill="#4a83c4" fill-opacity="0.62" stroke="#3a3a3a" stroke-width="0.5" stroke-opacity="0.55"/>
<path d="M357.70 91.70L360.20 96.10L355.20 96.10Z" fill="#ff9933" fill-opacity="0.62" stroke="#3a3a3a" stroke-width="0.5" stroke-opacity="0.55"/>
<path d="M353.80 94.80L356.30 99.20L351.30 99.20Z" fill="#4a83c4" fill-opacity="0.62" stroke="#3a3a3a" stroke-width="0.5" stroke-opacity="0.55"/>
<path d="M362.30 93.60L364.80 98.00L359.80 98.00Z" fill="#ff9933" fill-opacity="0.62" stroke="#3a3a3a" stroke-width="0.5" stroke-opacity="0.55"/>
<path d="M359.30 94.80L361.80 99.20L356.80 99.20Z" fill="#4a83c4" fill-opacity="0.62" stroke="#3a3a3a" stroke-width="0.5" stroke-opacity="0.55"/>
<path d="M350.70 97.50L353.20 101.90L348.20 101.90Z" fill="#ff9933" fill-opacity="0.62" stroke="#3a3a3a" stroke-width="0.5" stroke-opacity="0.55"/>
<path d="M356.20 97.50L358.70 101.90L353.70 101.90Z" fill="#4a83c4" fill-opacity="0.62" stroke="#3a3a3a" stroke-width="0.5" stroke-opacity="0.55"/>
<path d="M357.70 97.10L360.20 101.50L355.20 101.50Z" fill="#ff9933" fill-opacity="0.62" stroke="#3a3a3a" stroke-width="0.5" stroke-opacity="0.55"/>
<path d="M366.20 96.30L368.70 100.70L363.70 100.70Z" fill="#4a83c4" fill-opacity="0.62" stroke="#3a3a3a" stroke-width="0.5" stroke-opacity="0.55"/>
<path d="M363.10 97.50L365.60 101.90L360.60 101.90Z" fill="#ff9933" fill-opacity="0.62" stroke="#3a3a3a" stroke-width="0.5" stroke-opacity="0.55"/>
<path d="M370.50 99.00L373.00 103.40L368.00 103.40Z" fill="#ff9933" fill-opacity="0.62" stroke="#3a3a3a" stroke-width="0.5" stroke-opacity="0.55"/>
<path d="M357.30 100.20L359.80 104.60L354.80 104.60Z" fill="#4a83c4" fill-opacity="0.62" stroke="#3a3a3a" stroke-width="0.5" stroke-opacity="0.55"/>
<path d="M352.70 102.10L355.20 106.50L350.20 106.50Z" fill="#ff9933" fill-opacity="0.62" stroke="#3a3a3a" stroke-width="0.5" stroke-opacity="0.55"/>
<path d="M363.10 101.30L365.60 105.70L360.60 105.70Z" fill="#4a83c4" fill-opacity="0.62" stroke="#3a3a3a" stroke-width="0.5" stroke-opacity="0.55"/>
<path d="M367.00 100.60L369.50 105.00L364.50 105.00Z" fill="#4a83c4" fill-opacity="0.62" stroke="#3a3a3a" stroke-width="0.5" stroke-opacity="0.55"/>
<path d="M370.50 102.10L373.00 106.50L368.00 106.50Z" fill="#ff9933" fill-opacity="0.62" stroke="#3a3a3a" stroke-width="0.5" stroke-opacity="0.55"/>
<path d="M352.30 104.40L354.80 108.80L349.80 108.80Z" fill="#ff9933" fill-opacity="0.62" stroke="#3a3a3a" stroke-width="0.5" stroke-opacity="0.55"/>
<path d="M356.50 103.70L359.00 108.10L354.00 108.10Z" fill="#4a83c4" fill-opacity="0.62" stroke="#3a3a3a" stroke-width="0.5" stroke-opacity="0.55"/>
<path d="M360.80 104.80L363.30 109.20L358.30 109.20Z" fill="#ff9933" fill-opacity="0.62" stroke="#3a3a3a" stroke-width="0.5" stroke-opacity="0.55"/>
<path d="M366.20 105.20L368.70 109.60L363.70 109.60Z" fill="#ff9933" fill-opacity="0.62" stroke="#3a3a3a" stroke-width="0.5" stroke-opacity="0.55"/>
<path d="M377.80 104.80L380.30 109.20L375.30 109.20Z" fill="#ff9933" fill-opacity="0.62" stroke="#3a3a3a" stroke-width="0.5" stroke-opacity="0.55"/>
<path d="M354.60 107.10L357.10 111.50L352.10 111.50Z" fill="#4a83c4" fill-opacity="0.62" stroke="#3a3a3a" stroke-width="0.5" stroke-opacity="0.55"/>
<path d="M356.50 109.10L359.00 113.50L354.00 113.50Z" fill="#ff9933" fill-opacity="0.62" stroke="#3a3a3a" stroke-width="0.5" stroke-opacity="0.55"/>
<path d="M360.80 107.50L363.30 111.90L358.30 111.90Z" fill="#4a83c4" fill-opacity="0.62" stroke="#3a3a3a" stroke-width="0.5" stroke-opacity="0.55"/>
<path d="M366.20 108.70L368.70 113.10L363.70 113.10Z" fill="#4a83c4" fill-opacity="0.62" stroke="#3a3a3a" stroke-width="0.5" stroke-opacity="0.55"/>
<path d="M370.90 108.30L373.40 112.70L368.40 112.70Z" fill="#ff9933" fill-opacity="0.62" stroke="#3a3a3a" stroke-width="0.5" stroke-opacity="0.55"/>
<path d="M374.00 108.70L376.50 113.10L371.50 113.10Z" fill="#4a83c4" fill-opacity="0.62" stroke="#3a3a3a" stroke-width="0.5" stroke-opacity="0.55"/>
<path d="M377.80 109.80L380.30 114.20L375.30 114.20Z" fill="#ff9933" fill-opacity="0.62" stroke="#3a3a3a" stroke-width="0.5" stroke-opacity="0.55"/>
<path d="M384.00 109.10L386.50 113.50L381.50 113.50Z" fill="#ff9933" fill-opacity="0.62" stroke="#3a3a3a" stroke-width="0.5" stroke-opacity="0.55"/>
<path d="M361.60 112.20L364.10 116.60L359.10 116.60Z" fill="#ff9933" fill-opacity="0.62" stroke="#3a3a3a" stroke-width="0.5" stroke-opacity="0.55"/>
<path d="M364.70 112.90L367.20 117.30L362.20 117.30Z" fill="#4a83c4" fill-opacity="0.62" stroke="#3a3a3a" stroke-width="0.5" stroke-opacity="0.55"/>
<path d="M368.20 111.40L370.70 115.80L365.70 115.80Z" fill="#4a83c4" fill-opacity="0.62" stroke="#3a3a3a" stroke-width="0.5" stroke-opacity="0.55"/>
<path d="M374.00 112.60L376.50 117.00L371.50 117.00Z" fill="#ff9933" fill-opacity="0.62" stroke="#3a3a3a" stroke-width="0.5" stroke-opacity="0.55"/>
<path d="M357.70 114.50L360.20 118.90L355.20 118.90Z" fill="#4a83c4" fill-opacity="0.62" stroke="#3a3a3a" stroke-width="0.5" stroke-opacity="0.55"/>
<path d="M370.10 114.90L372.60 119.30L367.60 119.30Z" fill="#4a83c4" fill-opacity="0.62" stroke="#3a3a3a" stroke-width="0.5" stroke-opacity="0.55"/>
<path d="M376.30 115.90L378.80 120.30L373.80 120.30Z" fill="#ff9933" fill-opacity="0.62" stroke="#3a3a3a" stroke-width="0.5" stroke-opacity="0.55"/>
<path d="M363.90 116.40L366.40 120.80L361.40 120.80Z" fill="#4a83c4" fill-opacity="0.62" stroke="#3a3a3a" stroke-width="0.5" stroke-opacity="0.55"/>
<path d="M381.30 118.00L383.80 122.40L378.80 122.40Z" fill="#4a83c4" fill-opacity="0.62" stroke="#3a3a3a" stroke-width="0.5" stroke-opacity="0.55"/>
<path d="M362.30 119.10L364.80 123.50L359.80 123.50Z" fill="#4a83c4" fill-opacity="0.62" stroke="#3a3a3a" stroke-width="0.5" stroke-opacity="0.55"/>
<path d="M368.50 118.40L371.00 122.80L366.00 122.80Z" fill="#4a83c4" fill-opacity="0.62" stroke="#3a3a3a" stroke-width="0.5" stroke-opacity="0.55"/>
<path d="M374.30 118.60L376.80 123.00L371.80 123.00Z" fill="#4a83c4" fill-opacity="0.62" stroke="#3a3a3a" stroke-width="0.5" stroke-opacity="0.55"/>
<path d="M361.60 121.50L364.10 125.90L359.10 125.90Z" fill="#ff9933" fill-opacity="0.62" stroke="#3a3a3a" stroke-width="0.5" stroke-opacity="0.55"/>
<path d="M391.80 119.70L394.30 124.10L389.30 124.10Z" fill="#ff9933" fill-opacity="0.62" stroke="#3a3a3a" stroke-width="0.5" stroke-opacity="0.55"/>
<path d="M363.90 119.70L366.40 124.10L361.40 124.10Z" fill="#4a83c4" fill-opacity="0.62" stroke="#3a3a3a" stroke-width="0.5" stroke-opacity="0.55"/>
<path d="M370.10 119.30L372.60 123.70L367.60 123.70Z" fill="#4a83c4" fill-opacity="0.62" stroke="#3a3a3a" stroke-width="0.5" stroke-opacity="0.55"/>
<path d="M380.20 123.10L382.70 127.50L377.70 127.50Z" fill="#4a83c4" fill-opacity="0.62" stroke="#3a3a3a" stroke-width="0.5" stroke-opacity="0.55"/>
<path d="M370.50 125.50L373.00 129.90L368.00 129.90Z" fill="#4a83c4" fill-opacity="0.62" stroke="#3a3a3a" stroke-width="0.5" stroke-opacity="0.55"/>
<path d="M374.70 126.20L377.20 130.60L372.20 130.60Z" fill="#4a83c4" fill-opacity="0.62" stroke="#3a3a3a" stroke-width="0.5" stroke-opacity="0.55"/>
<path d="M386.00 124.70L388.50 129.10L383.50 129.10Z" fill="#ff9933" fill-opacity="0.62" stroke="#3a3a3a" stroke-width="0.5" stroke-opacity="0.55"/>
<path d="M389.40 125.90L391.90 130.30L386.90 130.30Z" fill="#4a83c4" fill-opacity="0.62" stroke="#3a3a3a" stroke-width="0.5" stroke-opacity="0.55"/>
<path d="M388.90 129.60L391.40 134.00L386.40 134.00Z" fill="#ff9933" fill-opacity="0.62" stroke="#3a3a3a" stroke-width="0.5" stroke-opacity="0.55"/>
<path d="M374.00 132.40L376.50 136.80L371.50 136.80Z" fill="#4a83c4" fill-opacity="0.62" stroke="#3a3a3a" stroke-width="0.5" stroke-opacity="0.55"/>
<path d="M392.00 137.80L394.50 142.20L389.50 142.20Z" fill="#4a83c4" fill-opacity="0.62" stroke="#3a3a3a" stroke-width="0.5" stroke-opacity="0.55"/>
<path d="M389.60 143.90L392.10 148.30L387.10 148.30Z" fill="#4a83c4" fill-opacity="0.62" stroke="#3a3a3a" stroke-width="0.5" stroke-opacity="0.55"/>
<path d="M395.30 112.10L397.80 116.50L392.80 116.50Z" fill="#4a83c4" fill-opacity="0.62" stroke="#3a3a3a" stroke-width="0.5" stroke-opacity="0.55"/>
<path d="M396.00 114.40L398.50 118.80L393.50 118.80Z" fill="#ff9933" fill-opacity="0.62" stroke="#3a3a3a" stroke-width="0.5" stroke-opacity="0.55"/>
<path d="M399.70 130.80L402.20 135.20L397.20 135.20Z" fill="#ff9933" fill-opacity="0.62" stroke="#3a3a3a" stroke-width="0.5" stroke-opacity="0.55"/>
<path d="M412.40 134.90L414.90 139.30L409.90 139.30Z" fill="#4a83c4" fill-opacity="0.62" stroke="#3a3a3a" stroke-width="0.5" stroke-opacity="0.55"/>
<path d="M412.00 139.00L414.50 143.40L409.50 143.40Z" fill="#ff9933" fill-opacity="0.62" stroke="#3a3a3a" stroke-width="0.5" stroke-opacity="0.55"/>
<path d="M435.50 116.70L438.00 121.10L433.00 121.10Z" fill="#4a83c4" fill-opacity="0.62" stroke="#3a3a3a" stroke-width="0.5" stroke-opacity="0.55"/>
<path d="M431.40 129.10L433.90 133.50L428.90 133.50Z" fill="#4a83c4" fill-opacity="0.62" stroke="#3a3a3a" stroke-width="0.5" stroke-opacity="0.55"/>
<path d="M456.00 86.90L458.50 91.30L453.50 91.30Z" fill="#ff9933" fill-opacity="0.62" stroke="#3a3a3a" stroke-width="0.5" stroke-opacity="0.55"/>
<path d="M469.60 110.50L472.10 114.90L467.10 114.90Z" fill="#ff9933" fill-opacity="0.62" stroke="#3a3a3a" stroke-width="0.5" stroke-opacity="0.55"/>
<path d="M450.20 118.90L452.70 123.30L447.70 123.30Z" fill="#4a83c4" fill-opacity="0.62" stroke="#3a3a3a" stroke-width="0.5" stroke-opacity="0.55"/>
<path d="M455.10 120.90L457.60 125.30L452.60 125.30Z" fill="#ff9933" fill-opacity="0.62" stroke="#3a3a3a" stroke-width="0.5" stroke-opacity="0.55"/>
<path d="M448.30 125.40L450.80 129.80L445.80 129.80Z" fill="#ff9933" fill-opacity="0.62" stroke="#3a3a3a" stroke-width="0.5" stroke-opacity="0.55"/>
<text transform="translate(597.80,41.20)" font-size="8.770" text-anchor="middle" fill="#000" stroke="#000" stroke-width="0.22" stroke-opacity="0.6">Kruskal–Wallis FDR p = 1.23e−04</text>
<line x1="522.80" y1="57.20" x2="522.80" y2="151.50" stroke="#5a5a5a" stroke-width="1.0"/>
<line x1="522.30" y1="151.00" x2="672.00" y2="151.00" stroke="#5a5a5a" stroke-width="1.1"/>
<line x1="522.80" y1="58.70" x2="525.80" y2="58.70" stroke="#5a5a5a" stroke-width="1.0"/>
<text transform="translate(520.80,62.00) scale(0.8696,1)" font-size="8.625" text-anchor="end" fill="#464646" stroke="#464646" stroke-width="0.22" stroke-opacity="0.6">0.9</text>
<line x1="522.80" y1="82.60" x2="525.80" y2="82.60" stroke="#5a5a5a" stroke-width="1.0"/>
<text transform="translate(520.80,85.90) scale(0.8696,1)" font-size="8.625" text-anchor="end" fill="#464646" stroke="#464646" stroke-width="0.22" stroke-opacity="0.6">0.7</text>
<line x1="522.80" y1="106.50" x2="525.80" y2="106.50" stroke="#5a5a5a" stroke-width="1.0"/>
<text transform="translate(520.80,109.80) scale(0.8696,1)" font-size="8.625" text-anchor="end" fill="#464646" stroke="#464646" stroke-width="0.22" stroke-opacity="0.6">0.5</text>
<line x1="522.80" y1="130.40" x2="525.80" y2="130.40" stroke="#5a5a5a" stroke-width="1.0"/>
<text transform="translate(520.80,133.70) scale(0.8696,1)" font-size="8.625" text-anchor="end" fill="#464646" stroke="#464646" stroke-width="0.22" stroke-opacity="0.6">0.3</text>
<line x1="563.30" y1="150.50" x2="563.30" y2="148.50" stroke="#5a5a5a" stroke-width="0.8"/>
<line x1="631.90" y1="150.50" x2="631.90" y2="148.50" stroke="#5a5a5a" stroke-width="0.8"/>
<text transform="translate(563.30,158.80) scale(0.9091,1)" font-size="8.360" text-anchor="middle" fill="#464646" stroke="#464646" stroke-width="0.22" stroke-opacity="0.6">D85 Not−Ill</text>
<text transform="translate(631.90,158.80) scale(0.9091,1)" font-size="8.360" text-anchor="middle" fill="#464646" stroke="#464646" stroke-width="0.22" stroke-opacity="0.6">Soon−Ill</text>
<text transform="translate(506.10,104.10) rotate(-90) scale(0.9091,1)" font-size="10.615" text-anchor="middle" fill="#000" stroke="#000" stroke-width="0.22" stroke-opacity="0.6">Distance to centroid</text>
<line x1="563.30" y1="109.20" x2="563.30" y2="125.50" stroke="#333" stroke-width="0.8"/>
<line x1="563.30" y1="138.50" x2="563.30" y2="146.00" stroke="#333" stroke-width="0.8"/>
<rect x="537.55" y="125.50" width="51.5" height="13.00" fill="#4a86c6" stroke="#5a5a5a" stroke-width="0.8"/>
<line x1="537.55" y1="132.20" x2="589.05" y2="132.20" stroke="#303030" stroke-width="1.15"/>
<line x1="631.90" y1="87.70" x2="631.90" y2="115.30" stroke="#333" stroke-width="0.8"/>
<line x1="631.90" y1="134.50" x2="631.90" y2="143.00" stroke="#333" stroke-width="0.8"/>
<rect x="606.15" y="115.30" width="51.5" height="19.20" fill="#ff9a33" stroke="#5a5a5a" stroke-width="0.8"/>
<line x1="606.15" y1="128.30" x2="657.65" y2="128.30" stroke="#303030" stroke-width="1.15"/>
<circle cx="555.40" cy="61.60" r="1.55" fill="#000" fill-opacity="0.68"/>
<circle cx="556.30" cy="63.00" r="1.55" fill="#000" fill-opacity="0.68"/>
<circle cx="557.10" cy="64.30" r="1.55" fill="#000" fill-opacity="0.68"/>
<circle cx="567.60" cy="73.60" r="1.55" fill="#000" fill-opacity="0.68"/>
<circle cx="556.10" cy="75.50" r="1.55" fill="#000" fill-opacity="0.68"/>
<circle cx="553.80" cy="76.80" r="1.55" fill="#000" fill-opacity="0.68"/>
<circle cx="556.40" cy="80.90" r="1.55" fill="#000" fill-opacity="0.68"/>
<circle cx="562.90" cy="93.00" r="1.55" fill="#000" fill-opacity="0.68"/>
<circle cx="568.20" cy="94.80" r="1.55" fill="#000" fill-opacity="0.68"/>
<circle cx="569.00" cy="95.40" r="1.55" fill="#000" fill-opacity="0.68"/>
<circle cx="564.10" cy="97.50" r="1.55" fill="#000" fill-opacity="0.68"/>
<circle cx="561.80" cy="104.30" r="1.55" fill="#000" fill-opacity="0.68"/>
<circle cx="564.60" cy="107.20" r="1.55" fill="#000" fill-opacity="0.68"/>
<circle cx="572.80" cy="106.90" r="1.55" fill="#000" fill-opacity="0.68"/>
<circle cx="558.90" cy="108.00" r="1.55" fill="#000" fill-opacity="0.68"/>
<circle cx="563.20" cy="109.40" r="1.55" fill="#000" fill-opacity="0.68"/>
<circle cx="556.20" cy="111.30" r="1.55" fill="#000" fill-opacity="0.68"/>
<circle cx="558.50" cy="110.90" r="1.55" fill="#000" fill-opacity="0.68"/>
<circle cx="568.20" cy="111.10" r="1.55" fill="#000" fill-opacity="0.68"/>
<circle cx="570.90" cy="112.10" r="1.55" fill="#000" fill-opacity="0.68"/>
<circle cx="562.00" cy="112.90" r="1.55" fill="#000" fill-opacity="0.68"/>
<circle cx="558.50" cy="115.60" r="1.55" fill="#000" fill-opacity="0.68"/>
<circle cx="553.90" cy="117.10" r="1.55" fill="#000" fill-opacity="0.68"/>
<circle cx="561.60" cy="118.30" r="1.55" fill="#000" fill-opacity="0.68"/>
<circle cx="562.80" cy="119.50" r="1.55" fill="#000" fill-opacity="0.68"/>
<circle cx="565.10" cy="120.20" r="1.55" fill="#000" fill-opacity="0.68"/>
<circle cx="571.80" cy="120.60" r="1.55" fill="#000" fill-opacity="0.68"/>
<circle cx="553.90" cy="121.40" r="1.55" fill="#000" fill-opacity="0.68"/>
<circle cx="557.30" cy="124.10" r="1.55" fill="#000" fill-opacity="0.68"/>
<circle cx="560.10" cy="124.50" r="1.55" fill="#000" fill-opacity="0.68"/>
<circle cx="627.00" cy="61.60" r="1.55" fill="#000" fill-opacity="0.68"/>
<circle cx="636.20" cy="62.10" r="1.55" fill="#000" fill-opacity="0.68"/>
<circle cx="633.10" cy="64.70" r="1.55" fill="#000" fill-opacity="0.68"/>
<circle cx="636.70" cy="65.70" r="1.55" fill="#000" fill-opacity="0.68"/>
<circle cx="641.60" cy="65.50" r="1.55" fill="#000" fill-opacity="0.68"/>
<circle cx="627.20" cy="66.60" r="1.55" fill="#000" fill-opacity="0.68"/>
<circle cx="630.00" cy="67.80" r="1.55" fill="#000" fill-opacity="0.68"/>
<circle cx="632.50" cy="66.50" r="1.55" fill="#000" fill-opacity="0.68"/>
<circle cx="624.70" cy="68.90" r="1.55" fill="#000" fill-opacity="0.68"/>
<circle cx="627.80" cy="70.30" r="1.55" fill="#000" fill-opacity="0.68"/>
<circle cx="634.80" cy="70.50" r="1.55" fill="#000" fill-opacity="0.68"/>
<circle cx="637.10" cy="69.90" r="1.55" fill="#000" fill-opacity="0.68"/>
<circle cx="629.40" cy="75.80" r="1.55" fill="#000" fill-opacity="0.68"/>
<circle cx="641.40" cy="75.80" r="1.55" fill="#000" fill-opacity="0.68"/>
<circle cx="638.80" cy="78.20" r="1.55" fill="#000" fill-opacity="0.68"/>
<circle cx="630.00" cy="79.90" r="1.55" fill="#000" fill-opacity="0.68"/>
<circle cx="632.10" cy="81.20" r="1.55" fill="#000" fill-opacity="0.68"/>
<circle cx="632.30" cy="82.50" r="1.55" fill="#000" fill-opacity="0.68"/>
<circle cx="622.80" cy="81.70" r="1.55" fill="#000" fill-opacity="0.68"/>
<circle cx="635.60" cy="83.70" r="1.55" fill="#000" fill-opacity="0.68"/>
<circle cx="626.30" cy="85.00" r="1.55" fill="#000" fill-opacity="0.68"/>
<circle cx="622.80" cy="87.60" r="1.55" fill="#000" fill-opacity="0.68"/>
<circle cx="641.40" cy="89.20" r="1.55" fill="#000" fill-opacity="0.68"/>
<circle cx="623.90" cy="90.60" r="1.55" fill="#000" fill-opacity="0.68"/>
<circle cx="636.70" cy="92.90" r="1.55" fill="#000" fill-opacity="0.68"/>
<circle cx="627.70" cy="93.90" r="1.55" fill="#000" fill-opacity="0.68"/>
<circle cx="631.80" cy="95.80" r="1.55" fill="#000" fill-opacity="0.68"/>
<circle cx="630.90" cy="98.60" r="1.55" fill="#000" fill-opacity="0.68"/>
<circle cx="641.00" cy="97.40" r="1.55" fill="#000" fill-opacity="0.68"/>
<circle cx="621.50" cy="102.00" r="1.55" fill="#000" fill-opacity="0.68"/>
<circle cx="621.50" cy="104.40" r="1.55" fill="#000" fill-opacity="0.68"/>
<circle cx="640.60" cy="105.90" r="1.55" fill="#000" fill-opacity="0.68"/>
<circle cx="640.10" cy="107.30" r="1.55" fill="#000" fill-opacity="0.68"/>
<circle cx="624.30" cy="108.00" r="1.55" fill="#000" fill-opacity="0.68"/>
<circle cx="628.60" cy="108.50" r="1.55" fill="#000" fill-opacity="0.68"/>
<circle cx="634.60" cy="108.50" r="1.55" fill="#000" fill-opacity="0.68"/>
<circle cx="633.60" cy="112.30" r="1.55" fill="#000" fill-opacity="0.68"/>
<circle cx="641.40" cy="112.00" r="1.55" fill="#000" fill-opacity="0.68"/>
<circle cx="622.00" cy="114.30" r="1.55" fill="#000" fill-opacity="0.68"/>
<circle cx="630.90" cy="114.40" r="1.55" fill="#000" fill-opacity="0.68"/>
<circle cx="636.30" cy="114.80" r="1.55" fill="#000" fill-opacity="0.68"/>
<circle cx="635.20" cy="115.60" r="1.55" fill="#000" fill-opacity="0.68"/>
<circle cx="555.46" cy="137.64" r="1.55" fill="#000" fill-opacity="0.68"/>
<circle cx="569.30" cy="128.45" r="1.55" fill="#000" fill-opacity="0.68"/>
<circle cx="563.40" cy="131.47" r="1.55" fill="#000" fill-opacity="0.68"/>
<circle cx="566.84" cy="136.73" r="1.55" fill="#000" fill-opacity="0.68"/>
<circle cx="554.56" cy="124.94" r="1.55" fill="#000" fill-opacity="0.68"/>
<circle cx="570.89" cy="131.21" r="1.55" fill="#000" fill-opacity="0.68"/>
<circle cx="569.27" cy="124.53" r="1.55" fill="#000" fill-opacity="0.68"/>
<circle cx="562.30" cy="135.68" r="1.55" fill="#000" fill-opacity="0.68"/>
<circle cx="557.53" cy="139.15" r="1.55" fill="#000" fill-opacity="0.68"/>
<circle cx="572.33" cy="124.97" r="1.55" fill="#000" fill-opacity="0.68"/>
<circle cx="553.06" cy="132.89" r="1.55" fill="#000" fill-opacity="0.68"/>
<circle cx="573.16" cy="130.41" r="1.55" fill="#000" fill-opacity="0.68"/>
<circle cx="557.27" cy="131.04" r="1.55" fill="#000" fill-opacity="0.68"/>
<circle cx="553.14" cy="127.94" r="1.55" fill="#000" fill-opacity="0.68"/>
<circle cx="562.13" cy="132.19" r="1.55" fill="#000" fill-opacity="0.68"/>
<circle cx="557.63" cy="128.08" r="1.55" fill="#000" fill-opacity="0.68"/>
<circle cx="558.88" cy="124.83" r="1.55" fill="#000" fill-opacity="0.68"/>
<circle cx="570.93" cy="133.13" r="1.55" fill="#000" fill-opacity="0.68"/>
<circle cx="566.63" cy="127.38" r="1.55" fill="#000" fill-opacity="0.68"/>
<circle cx="574.34" cy="137.83" r="1.55" fill="#000" fill-opacity="0.68"/>
<circle cx="555.16" cy="129.66" r="1.55" fill="#000" fill-opacity="0.68"/>
<circle cx="568.37" cy="135.52" r="1.55" fill="#000" fill-opacity="0.68"/>
<circle cx="570.76" cy="134.89" r="1.55" fill="#000" fill-opacity="0.68"/>
<circle cx="559.17" cy="133.61" r="1.55" fill="#000" fill-opacity="0.68"/>
<circle cx="571.91" cy="137.62" r="1.55" fill="#000" fill-opacity="0.68"/>
<circle cx="563.62" cy="133.63" r="1.55" fill="#000" fill-opacity="0.68"/>
<circle cx="556.31" cy="133.01" r="1.55" fill="#000" fill-opacity="0.68"/>
<circle cx="560.74" cy="131.30" r="1.55" fill="#000" fill-opacity="0.68"/>
<circle cx="563.69" cy="136.57" r="1.55" fill="#000" fill-opacity="0.68"/>
<circle cx="563.27" cy="124.96" r="1.55" fill="#000" fill-opacity="0.68"/>
<circle cx="553.46" cy="135.40" r="1.55" fill="#000" fill-opacity="0.68"/>
<circle cx="574.13" cy="133.69" r="1.55" fill="#000" fill-opacity="0.68"/>
<circle cx="561.16" cy="127.14" r="1.55" fill="#000" fill-opacity="0.68"/>
<circle cx="563.55" cy="139.72" r="1.55" fill="#000" fill-opacity="0.68"/>
<circle cx="569.45" cy="132.86" r="1.55" fill="#000" fill-opacity="0.68"/>
<circle cx="571.43" cy="128.10" r="1.55" fill="#000" fill-opacity="0.68"/>
<circle cx="565.21" cy="131.62" r="1.55" fill="#000" fill-opacity="0.68"/>
<circle cx="569.74" cy="137.22" r="1.55" fill="#000" fill-opacity="0.68"/>
<circle cx="572.00" cy="135.98" r="1.55" fill="#000" fill-opacity="0.68"/>
<circle cx="553.73" cy="137.99" r="1.55" fill="#000" fill-opacity="0.68"/>
<circle cx="565.04" cy="127.60" r="1.55" fill="#000" fill-opacity="0.68"/>
<circle cx="560.35" cy="129.86" r="1.55" fill="#000" fill-opacity="0.68"/>
<circle cx="558.12" cy="137.55" r="1.55" fill="#000" fill-opacity="0.68"/>
<circle cx="567.31" cy="125.79" r="1.55" fill="#000" fill-opacity="0.68"/>
<circle cx="552.87" cy="124.73" r="1.55" fill="#000" fill-opacity="0.68"/>
<circle cx="554.91" cy="134.18" r="1.55" fill="#000" fill-opacity="0.68"/>
<circle cx="560.08" cy="125.58" r="1.55" fill="#000" fill-opacity="0.68"/>
<circle cx="556.20" cy="128.73" r="1.55" fill="#000" fill-opacity="0.68"/>
<circle cx="568.15" cy="131.55" r="1.55" fill="#000" fill-opacity="0.68"/>
<circle cx="553.02" cy="130.49" r="1.55" fill="#000" fill-opacity="0.68"/>
<circle cx="563.72" cy="127.74" r="1.55" fill="#000" fill-opacity="0.68"/>
<circle cx="555.72" cy="135.64" r="1.55" fill="#000" fill-opacity="0.68"/>
<circle cx="556.70" cy="142.82" r="1.55" fill="#000" fill-opacity="0.68"/>
<circle cx="567.06" cy="142.18" r="1.55" fill="#000" fill-opacity="0.68"/>
<circle cx="557.91" cy="143.90" r="1.55" fill="#000" fill-opacity="0.68"/>
<circle cx="569.46" cy="142.07" r="1.55" fill="#000" fill-opacity="0.68"/>
<circle cx="561.40" cy="142.30" r="1.55" fill="#000" fill-opacity="0.68"/>
<circle cx="559.92" cy="142.52" r="1.55" fill="#000" fill-opacity="0.68"/>
<circle cx="554.68" cy="141.19" r="1.55" fill="#000" fill-opacity="0.68"/>
<circle cx="572.86" cy="143.50" r="1.55" fill="#000" fill-opacity="0.68"/>
<circle cx="558.55" cy="140.03" r="1.55" fill="#000" fill-opacity="0.68"/>
<circle cx="571.07" cy="140.15" r="1.55" fill="#000" fill-opacity="0.68"/>
<circle cx="569.89" cy="143.85" r="1.55" fill="#000" fill-opacity="0.68"/>
<circle cx="564.91" cy="140.69" r="1.55" fill="#000" fill-opacity="0.68"/>
<circle cx="562.16" cy="140.78" r="1.55" fill="#000" fill-opacity="0.68"/>
<circle cx="557.52" cy="141.31" r="1.55" fill="#000" fill-opacity="0.68"/>
<circle cx="560.28" cy="140.85" r="1.55" fill="#000" fill-opacity="0.68"/>
<circle cx="572.14" cy="141.38" r="1.55" fill="#000" fill-opacity="0.68"/>
<circle cx="569.24" cy="147.09" r="1.55" fill="#000" fill-opacity="0.68"/>
<circle cx="563.27" cy="148.43" r="1.55" fill="#000" fill-opacity="0.68"/>
<circle cx="559.52" cy="147.26" r="1.55" fill="#000" fill-opacity="0.68"/>
<circle cx="567.39" cy="146.70" r="1.55" fill="#000" fill-opacity="0.68"/>
<circle cx="568.62" cy="145.66" r="1.55" fill="#000" fill-opacity="0.68"/>
<circle cx="561.10" cy="145.31" r="1.55" fill="#000" fill-opacity="0.68"/>
<circle cx="570.31" cy="147.99" r="1.55" fill="#000" fill-opacity="0.68"/>
<circle cx="558.03" cy="146.48" r="1.55" fill="#000" fill-opacity="0.68"/>
<circle cx="557.10" cy="147.90" r="1.55" fill="#000" fill-opacity="0.68"/>
<circle cx="561.11" cy="146.77" r="1.55" fill="#000" fill-opacity="0.68"/>
<circle cx="564.56" cy="145.01" r="1.55" fill="#000" fill-opacity="0.68"/>
<circle cx="557.23" cy="145.20" r="1.55" fill="#000" fill-opacity="0.68"/>
<circle cx="640.10" cy="125.94" r="1.55" fill="#000" fill-opacity="0.68"/>
<circle cx="640.85" cy="123.97" r="1.55" fill="#000" fill-opacity="0.68"/>
<circle cx="626.60" cy="130.06" r="1.55" fill="#000" fill-opacity="0.68"/>
<circle cx="638.71" cy="115.73" r="1.55" fill="#000" fill-opacity="0.68"/>
<circle cx="635.25" cy="117.20" r="1.55" fill="#000" fill-opacity="0.68"/>
<circle cx="623.03" cy="131.87" r="1.55" fill="#000" fill-opacity="0.68"/>
<circle cx="621.38" cy="119.93" r="1.55" fill="#000" fill-opacity="0.68"/>
<circle cx="642.24" cy="123.29" r="1.55" fill="#000" fill-opacity="0.68"/>
<circle cx="623.04" cy="118.60" r="1.55" fill="#000" fill-opacity="0.68"/>
<circle cx="628.82" cy="133.45" r="1.55" fill="#000" fill-opacity="0.68"/>
<circle cx="640.50" cy="120.94" r="1.55" fill="#000" fill-opacity="0.68"/>
<circle cx="626.08" cy="124.32" r="1.55" fill="#000" fill-opacity="0.68"/>
<circle cx="622.70" cy="127.56" r="1.55" fill="#000" fill-opacity="0.68"/>
<circle cx="621.37" cy="115.69" r="1.55" fill="#000" fill-opacity="0.68"/>
<circle cx="642.12" cy="120.97" r="1.55" fill="#000" fill-opacity="0.68"/>
<circle cx="633.62" cy="123.82" r="1.55" fill="#000" fill-opacity="0.68"/>
<circle cx="627.39" cy="116.66" r="1.55" fill="#000" fill-opacity="0.68"/>
<circle cx="640.59" cy="133.44" r="1.55" fill="#000" fill-opacity="0.68"/>
<circle cx="641.84" cy="117.56" r="1.55" fill="#000" fill-opacity="0.68"/>
<circle cx="625.23" cy="126.93" r="1.55" fill="#000" fill-opacity="0.68"/>
<circle cx="642.06" cy="125.54" r="1.55" fill="#000" fill-opacity="0.68"/>
<circle cx="635.64" cy="127.74" r="1.55" fill="#000" fill-opacity="0.68"/>
<circle cx="627.26" cy="120.06" r="1.55" fill="#000" fill-opacity="0.68"/>
<circle cx="627.25" cy="121.55" r="1.55" fill="#000" fill-opacity="0.68"/>
<circle cx="627.47" cy="131.17" r="1.55" fill="#000" fill-opacity="0.68"/>
<circle cx="627.86" cy="125.57" r="1.55" fill="#000" fill-opacity="0.68"/>
<circle cx="633.24" cy="126.53" r="1.55" fill="#000" fill-opacity="0.68"/>
<circle cx="625.89" cy="115.88" r="1.55" fill="#000" fill-opacity="0.68"/>
<circle cx="632.63" cy="116.81" r="1.55" fill="#000" fill-opacity="0.68"/>
<circle cx="631.35" cy="131.46" r="1.55" fill="#000" fill-opacity="0.68"/>
<circle cx="623.89" cy="124.78" r="1.55" fill="#000" fill-opacity="0.68"/>
<circle cx="637.99" cy="116.93" r="1.55" fill="#000" fill-opacity="0.68"/>
<circle cx="637.58" cy="133.72" r="1.55" fill="#000" fill-opacity="0.68"/>
<circle cx="638.57" cy="121.42" r="1.55" fill="#000" fill-opacity="0.68"/>
<circle cx="640.16" cy="118.12" r="1.55" fill="#000" fill-opacity="0.68"/>
<circle cx="640.53" cy="116.09" r="1.55" fill="#000" fill-opacity="0.68"/>
<circle cx="638.18" cy="132.28" r="1.55" fill="#000" fill-opacity="0.68"/>
<circle cx="639.00" cy="129.30" r="1.55" fill="#000" fill-opacity="0.68"/>
<circle cx="635.67" cy="118.80" r="1.55" fill="#000" fill-opacity="0.68"/>
<circle cx="630.02" cy="118.42" r="1.55" fill="#000" fill-opacity="0.68"/>
<circle cx="641.69" cy="130.45" r="1.55" fill="#000" fill-opacity="0.68"/>
<circle cx="639.23" cy="123.89" r="1.55" fill="#000" fill-opacity="0.68"/>
<circle cx="629.21" cy="121.77" r="1.55" fill="#000" fill-opacity="0.68"/>
<circle cx="628.31" cy="118.06" r="1.55" fill="#000" fill-opacity="0.68"/>
<circle cx="623.25" cy="120.29" r="1.55" fill="#000" fill-opacity="0.68"/>
<circle cx="629.32" cy="126.83" r="1.55" fill="#000" fill-opacity="0.68"/>
<circle cx="632.13" cy="124.77" r="1.55" fill="#000" fill-opacity="0.68"/>
<circle cx="631.03" cy="119.66" r="1.55" fill="#000" fill-opacity="0.68"/>
<circle cx="626.55" cy="127.46" r="1.55" fill="#000" fill-opacity="0.68"/>
<circle cx="624.01" cy="129.67" r="1.55" fill="#000" fill-opacity="0.68"/>
<circle cx="635.74" cy="131.21" r="1.55" fill="#000" fill-opacity="0.68"/>
<circle cx="628.68" cy="128.47" r="1.55" fill="#000" fill-opacity="0.68"/>
<circle cx="636.70" cy="126.50" r="1.55" fill="#000" fill-opacity="0.68"/>
<circle cx="621.40" cy="133.65" r="1.55" fill="#000" fill-opacity="0.68"/>
<circle cx="638.27" cy="127.13" r="1.55" fill="#000" fill-opacity="0.68"/>
<circle cx="626.39" cy="132.39" r="1.55" fill="#000" fill-opacity="0.68"/>
<circle cx="637.57" cy="131.08" r="1.55" fill="#000" fill-opacity="0.68"/>
<circle cx="630.29" cy="132.60" r="1.55" fill="#000" fill-opacity="0.68"/>
<circle cx="640.91" cy="136.68" r="1.55" fill="#000" fill-opacity="0.68"/>
<circle cx="637.46" cy="137.03" r="1.55" fill="#000" fill-opacity="0.68"/>
<circle cx="624.38" cy="136.28" r="1.55" fill="#000" fill-opacity="0.68"/>
<circle cx="623.59" cy="140.36" r="1.55" fill="#000" fill-opacity="0.68"/>
<circle cx="640.67" cy="134.83" r="1.55" fill="#000" fill-opacity="0.68"/>
<circle cx="633.31" cy="136.86" r="1.55" fill="#000" fill-opacity="0.68"/>
<circle cx="626.09" cy="139.25" r="1.55" fill="#000" fill-opacity="0.68"/>
<circle cx="621.08" cy="135.33" r="1.55" fill="#000" fill-opacity="0.68"/>
<circle cx="629.99" cy="134.15" r="1.55" fill="#000" fill-opacity="0.68"/>
<circle cx="633.86" cy="138.24" r="1.55" fill="#000" fill-opacity="0.68"/>
<circle cx="638.12" cy="135.45" r="1.55" fill="#000" fill-opacity="0.68"/>
<circle cx="626.84" cy="137.80" r="1.55" fill="#000" fill-opacity="0.68"/>
<circle cx="637.22" cy="139.66" r="1.55" fill="#000" fill-opacity="0.68"/>
<circle cx="631.06" cy="139.99" r="1.55" fill="#000" fill-opacity="0.68"/>
<circle cx="628.86" cy="135.99" r="1.55" fill="#000" fill-opacity="0.68"/>
<circle cx="632.18" cy="140.75" r="1.55" fill="#000" fill-opacity="0.68"/>
<circle cx="636.60" cy="140.81" r="1.55" fill="#000" fill-opacity="0.68"/>
<circle cx="623.80" cy="137.50" r="1.55" fill="#000" fill-opacity="0.68"/>
<circle cx="631.31" cy="136.50" r="1.55" fill="#000" fill-opacity="0.68"/>
<circle cx="631.83" cy="134.01" r="1.55" fill="#000" fill-opacity="0.68"/>
<circle cx="630.07" cy="137.15" r="1.55" fill="#000" fill-opacity="0.68"/>
<circle cx="631.09" cy="138.53" r="1.55" fill="#000" fill-opacity="0.68"/>
<circle cx="627.26" cy="135.19" r="1.55" fill="#000" fill-opacity="0.68"/>
<circle cx="629.31" cy="140.03" r="1.55" fill="#000" fill-opacity="0.68"/>
<circle cx="639.41" cy="139.24" r="1.55" fill="#000" fill-opacity="0.68"/>
<circle cx="634.47" cy="134.14" r="1.55" fill="#000" fill-opacity="0.68"/>
<circle cx="635.15" cy="136.81" r="1.55" fill="#000" fill-opacity="0.68"/>
<circle cx="635.63" cy="139.71" r="1.55" fill="#000" fill-opacity="0.68"/>
<circle cx="625.56" cy="140.75" r="1.55" fill="#000" fill-opacity="0.68"/>
<circle cx="621.63" cy="140.30" r="1.55" fill="#000" fill-opacity="0.68"/>
<circle cx="623.83" cy="139.01" r="1.55" fill="#000" fill-opacity="0.68"/>
<circle cx="624.83" cy="134.39" r="1.55" fill="#000" fill-opacity="0.68"/>
<circle cx="632.56" cy="145.44" r="1.55" fill="#000" fill-opacity="0.68"/>
<circle cx="634.26" cy="145.07" r="1.55" fill="#000" fill-opacity="0.68"/>
<circle cx="638.43" cy="144.07" r="1.55" fill="#000" fill-opacity="0.68"/>
<circle cx="628.48" cy="145.19" r="1.55" fill="#000" fill-opacity="0.68"/>
<circle cx="624.89" cy="144.46" r="1.55" fill="#000" fill-opacity="0.68"/>
<circle cx="624.52" cy="143.00" r="1.55" fill="#000" fill-opacity="0.68"/>
<circle cx="630.92" cy="142.89" r="1.55" fill="#000" fill-opacity="0.68"/>
<circle cx="625.70" cy="142.16" r="1.55" fill="#000" fill-opacity="0.68"/>
<circle cx="636.12" cy="143.31" r="1.55" fill="#000" fill-opacity="0.68"/>
<circle cx="632.28" cy="142.06" r="1.55" fill="#000" fill-opacity="0.68"/>
<circle cx="634.44" cy="142.65" r="1.55" fill="#000" fill-opacity="0.68"/>
<text transform="translate(42.80,182.20)" font-size="10.330" text-anchor="start" fill="#000" stroke="#000" stroke-width="0.22" stroke-opacity="0.6">Later−Ill vs D85 Not−Ill</text>
<text transform="translate(116.95,194.80)" font-size="8.250" text-anchor="middle" fill="#000" stroke="#000" stroke-width="0.22" stroke-opacity="0.6">7 to 12 months (FDR p = 0.668)</text>
<text transform="translate(268.25,194.80)" font-size="8.250" text-anchor="middle" fill="#000" stroke="#000" stroke-width="0.22" stroke-opacity="0.6">1 to 2 years (FDR p = 0.004)</text>
<text transform="translate(419.45,194.80)" font-size="8.250" text-anchor="middle" fill="#000" stroke="#000" stroke-width="0.22" stroke-opacity="0.6">plus 2 years (FDR p = 0.594)</text>
<line x1="42.60" y1="197.30" x2="42.60" y2="291.70" stroke="#5a5a5a" stroke-width="1.0"/>
<line x1="42.60" y1="204.21" x2="45.60" y2="204.21" stroke="#5a5a5a" stroke-width="1.0"/>
<text transform="translate(38.40,207.61) scale(0.8696,1)" font-size="8.625" text-anchor="end" fill="#464646" stroke="#464646" stroke-width="0.22" stroke-opacity="0.6">0.4</text>
<line x1="42.60" y1="224.03" x2="45.60" y2="224.03" stroke="#5a5a5a" stroke-width="1.0"/>
<text transform="translate(38.40,227.43) scale(0.8696,1)" font-size="8.625" text-anchor="end" fill="#464646" stroke="#464646" stroke-width="0.22" stroke-opacity="0.6">0.2</text>
<line x1="42.60" y1="243.85" x2="45.60" y2="243.85" stroke="#5a5a5a" stroke-width="1.0"/>
<text transform="translate(38.40,247.25) scale(0.8696,1)" font-size="8.625" text-anchor="end" fill="#464646" stroke="#464646" stroke-width="0.22" stroke-opacity="0.6">0.0</text>
<line x1="42.60" y1="263.67" x2="45.60" y2="263.67" stroke="#5a5a5a" stroke-width="1.0"/>
<text transform="translate(38.40,267.07) scale(0.8696,1)" font-size="8.625" text-anchor="end" fill="#464646" stroke="#464646" stroke-width="0.22" stroke-opacity="0.6">−0.2</text>
<line x1="42.60" y1="283.49" x2="45.60" y2="283.49" stroke="#5a5a5a" stroke-width="1.0"/>
<text transform="translate(38.40,286.89) scale(0.8696,1)" font-size="8.625" text-anchor="end" fill="#464646" stroke="#464646" stroke-width="0.22" stroke-opacity="0.6">−0.4</text>
<line x1="42.10" y1="291.20" x2="190.60" y2="291.20" stroke="#5a5a5a" stroke-width="1.1"/>
<line x1="50.14" y1="290.70" x2="50.14" y2="288.70" stroke="#5a5a5a" stroke-width="0.8"/>
<text transform="translate(50.14,299.20) scale(0.8696,1)" font-size="8.625" text-anchor="middle" fill="#464646" stroke="#464646" stroke-width="0.22" stroke-opacity="0.6">−0.2</text>
<line x1="79.30" y1="290.70" x2="79.30" y2="288.70" stroke="#5a5a5a" stroke-width="0.8"/>
<text transform="translate(79.30,299.20) scale(0.8696,1)" font-size="8.625" text-anchor="middle" fill="#464646" stroke="#464646" stroke-width="0.22" stroke-opacity="0.6">0.0</text>
<line x1="108.46" y1="290.70" x2="108.46" y2="288.70" stroke="#5a5a5a" stroke-width="0.8"/>
<text transform="translate(108.46,299.20) scale(0.8696,1)" font-size="8.625" text-anchor="middle" fill="#464646" stroke="#464646" stroke-width="0.22" stroke-opacity="0.6">0.2</text>
<line x1="137.62" y1="290.70" x2="137.62" y2="288.70" stroke="#5a5a5a" stroke-width="0.8"/>
<text transform="translate(137.62,299.20) scale(0.8696,1)" font-size="8.625" text-anchor="middle" fill="#464646" stroke="#464646" stroke-width="0.22" stroke-opacity="0.6">0.4</text>
<line x1="166.78" y1="290.70" x2="166.78" y2="288.70" stroke="#5a5a5a" stroke-width="0.8"/>
<text transform="translate(166.78,299.20) scale(0.8696,1)" font-size="8.625" text-anchor="middle" fill="#464646" stroke="#464646" stroke-width="0.22" stroke-opacity="0.6">0.6</text>
<line x1="193.40" y1="291.20" x2="341.90" y2="291.20" stroke="#5a5a5a" stroke-width="1.1"/>
<line x1="201.24" y1="290.70" x2="201.24" y2="288.70" stroke="#5a5a5a" stroke-width="0.8"/>
<text transform="translate(201.24,299.20) scale(0.8696,1)" font-size="8.625" text-anchor="middle" fill="#464646" stroke="#464646" stroke-width="0.22" stroke-opacity="0.6">−0.2</text>
<line x1="230.40" y1="290.70" x2="230.40" y2="288.70" stroke="#5a5a5a" stroke-width="0.8"/>
<text transform="translate(230.40,299.20) scale(0.8696,1)" font-size="8.625" text-anchor="middle" fill="#464646" stroke="#464646" stroke-width="0.22" stroke-opacity="0.6">0.0</text>
<line x1="259.56" y1="290.70" x2="259.56" y2="288.70" stroke="#5a5a5a" stroke-width="0.8"/>
<text transform="translate(259.56,299.20) scale(0.8696,1)" font-size="8.625" text-anchor="middle" fill="#464646" stroke="#464646" stroke-width="0.22" stroke-opacity="0.6">0.2</text>
<line x1="288.72" y1="290.70" x2="288.72" y2="288.70" stroke="#5a5a5a" stroke-width="0.8"/>
<text transform="translate(288.72,299.20) scale(0.8696,1)" font-size="8.625" text-anchor="middle" fill="#464646" stroke="#464646" stroke-width="0.22" stroke-opacity="0.6">0.4</text>
<line x1="317.88" y1="290.70" x2="317.88" y2="288.70" stroke="#5a5a5a" stroke-width="0.8"/>
<text transform="translate(317.88,299.20) scale(0.8696,1)" font-size="8.625" text-anchor="middle" fill="#464646" stroke="#464646" stroke-width="0.22" stroke-opacity="0.6">0.6</text>
<line x1="344.60" y1="291.20" x2="493.10" y2="291.20" stroke="#5a5a5a" stroke-width="1.1"/>
<line x1="352.24" y1="290.70" x2="352.24" y2="288.70" stroke="#5a5a5a" stroke-width="0.8"/>
<text transform="translate(352.24,299.20) scale(0.8696,1)" font-size="8.625" text-anchor="middle" fill="#464646" stroke="#464646" stroke-width="0.22" stroke-opacity="0.6">−0.2</text>
<line x1="381.40" y1="290.70" x2="381.40" y2="288.70" stroke="#5a5a5a" stroke-width="0.8"/>
<text transform="translate(381.40,299.20) scale(0.8696,1)" font-size="8.625" text-anchor="middle" fill="#464646" stroke="#464646" stroke-width="0.22" stroke-opacity="0.6">0.0</text>
<line x1="410.56" y1="290.70" x2="410.56" y2="288.70" stroke="#5a5a5a" stroke-width="0.8"/>
<text transform="translate(410.56,299.20) scale(0.8696,1)" font-size="8.625" text-anchor="middle" fill="#464646" stroke="#464646" stroke-width="0.22" stroke-opacity="0.6">0.2</text>
<line x1="439.72" y1="290.70" x2="439.72" y2="288.70" stroke="#5a5a5a" stroke-width="0.8"/>
<text transform="translate(439.72,299.20) scale(0.8696,1)" font-size="8.625" text-anchor="middle" fill="#464646" stroke="#464646" stroke-width="0.22" stroke-opacity="0.6">0.4</text>
<line x1="468.88" y1="290.70" x2="468.88" y2="288.70" stroke="#5a5a5a" stroke-width="0.8"/>
<text transform="translate(468.88,299.20) scale(0.8696,1)" font-size="8.625" text-anchor="middle" fill="#464646" stroke="#464646" stroke-width="0.22" stroke-opacity="0.6">0.6</text>
<text transform="translate(267.50,310.40) scale(0.9091,1)" font-size="10.780" text-anchor="middle" fill="#000" stroke="#000" stroke-width="0.22" stroke-opacity="0.6">PCoA1 (26.3%)</text>
<text transform="translate(21.20,244.25) rotate(-90) scale(0.9091,1)" font-size="10.890" text-anchor="middle" fill="#000" stroke="#000" stroke-width="0.22" stroke-opacity="0.6">PCoA2 (14.3%)</text>
<rect x="69.80" y="233.90" width="3.6" height="3.6" fill="#4a83c4" fill-opacity="0.62" stroke="#3a3a3a" stroke-width="0.5" stroke-opacity="0.55"/>
<rect x="56.60" y="239.20" width="3.6" height="3.6" fill="#ffd92f" fill-opacity="0.62" stroke="#3a3a3a" stroke-width="0.5" stroke-opacity="0.55"/>
<rect x="73.20" y="239.20" width="3.6" height="3.6" fill="#ffd92f" fill-opacity="0.62" stroke="#3a3a3a" stroke-width="0.5" stroke-opacity="0.55"/>
<rect x="81.10" y="245.10" width="3.6" height="3.6" fill="#4a83c4" fill-opacity="0.62" stroke="#3a3a3a" stroke-width="0.5" stroke-opacity="0.55"/>
<rect x="92.20" y="243.50" width="3.6" height="3.6" fill="#4a83c4" fill-opacity="0.62" stroke="#3a3a3a" stroke-width="0.5" stroke-opacity="0.55"/>
<rect x="107.10" y="244.30" width="3.6" height="3.6" fill="#ffd92f" fill-opacity="0.62" stroke="#3a3a3a" stroke-width="0.5" stroke-opacity="0.55"/>
<rect x="58.80" y="249.50" width="3.6" height="3.6" fill="#4a83c4" fill-opacity="0.62" stroke="#3a3a3a" stroke-width="0.5" stroke-opacity="0.55"/>
<rect x="66.20" y="248.50" width="3.6" height="3.6" fill="#4a83c4" fill-opacity="0.62" stroke="#3a3a3a" stroke-width="0.5" stroke-opacity="0.55"/>
<rect x="109.90" y="252.60" width="3.6" height="3.6" fill="#4a83c4" fill-opacity="0.62" stroke="#3a3a3a" stroke-width="0.5" stroke-opacity="0.55"/>
<rect x="113.40" y="256.20" width="3.6" height="3.6" fill="#4a83c4" fill-opacity="0.62" stroke="#3a3a3a" stroke-width="0.5" stroke-opacity="0.55"/>
<rect x="62.10" y="257.60" width="3.6" height="3.6" fill="#4a83c4" fill-opacity="0.62" stroke="#3a3a3a" stroke-width="0.5" stroke-opacity="0.55"/>
<rect x="80.00" y="258.70" width="3.6" height="3.6" fill="#ffd92f" fill-opacity="0.62" stroke="#3a3a3a" stroke-width="0.5" stroke-opacity="0.55"/>
<rect x="83.10" y="258.10" width="3.6" height="3.6" fill="#4a83c4" fill-opacity="0.62" stroke="#3a3a3a" stroke-width="0.5" stroke-opacity="0.55"/>
<rect x="96.80" y="257.00" width="3.6" height="3.6" fill="#4a83c4" fill-opacity="0.62" stroke="#3a3a3a" stroke-width="0.5" stroke-opacity="0.55"/>
<rect x="92.70" y="262.00" width="3.6" height="3.6" fill="#ffd92f" fill-opacity="0.62" stroke="#3a3a3a" stroke-width="0.5" stroke-opacity="0.55"/>
<rect x="93.30" y="265.90" width="3.6" height="3.6" fill="#4a83c4" fill-opacity="0.62" stroke="#3a3a3a" stroke-width="0.5" stroke-opacity="0.55"/>
<rect x="102.70" y="263.40" width="3.6" height="3.6" fill="#ffd92f" fill-opacity="0.62" stroke="#3a3a3a" stroke-width="0.5" stroke-opacity="0.55"/>
<rect x="110.40" y="263.10" width="3.6" height="3.6" fill="#ffd92f" fill-opacity="0.62" stroke="#3a3a3a" stroke-width="0.5" stroke-opacity="0.55"/>
<rect x="78.40" y="285.20" width="3.6" height="3.6" fill="#ffd92f" fill-opacity="0.62" stroke="#3a3a3a" stroke-width="0.5" stroke-opacity="0.55"/>
<rect x="129.50" y="244.00" width="3.6" height="3.6" fill="#ffd92f" fill-opacity="0.62" stroke="#3a3a3a" stroke-width="0.5" stroke-opacity="0.55"/>
<rect x="152.80" y="237.60" width="3.6" height="3.6" fill="#4a83c4" fill-opacity="0.62" stroke="#3a3a3a" stroke-width="0.5" stroke-opacity="0.55"/>
<rect x="167.20" y="235.90" width="3.6" height="3.6" fill="#ffd92f" fill-opacity="0.62" stroke="#3a3a3a" stroke-width="0.5" stroke-opacity="0.55"/>
<rect x="165.40" y="238.90" width="3.6" height="3.6" fill="#ffd92f" fill-opacity="0.62" stroke="#3a3a3a" stroke-width="0.5" stroke-opacity="0.55"/>
<rect x="179.00" y="250.10" width="3.6" height="3.6" fill="#4a83c4" fill-opacity="0.62" stroke="#3a3a3a" stroke-width="0.5" stroke-opacity="0.55"/>
<rect x="179.60" y="252.70" width="3.6" height="3.6" fill="#4a83c4" fill-opacity="0.62" stroke="#3a3a3a" stroke-width="0.5" stroke-opacity="0.55"/>
<rect x="182.10" y="248.60" width="3.6" height="3.6" fill="#ffd92f" fill-opacity="0.62" stroke="#3a3a3a" stroke-width="0.5" stroke-opacity="0.55"/>
<rect x="130.60" y="257.10" width="3.6" height="3.6" fill="#ffd92f" fill-opacity="0.62" stroke="#3a3a3a" stroke-width="0.5" stroke-opacity="0.55"/>
<circle cx="226.40" cy="218.00" r="2.0" fill="#4a83c4" fill-opacity="0.62" stroke="#3a3a3a" stroke-width="0.5" stroke-opacity="0.55"/>
<circle cx="226.30" cy="221.20" r="2.0" fill="#ffd92f" fill-opacity="0.62" stroke="#3a3a3a" stroke-width="0.5" stroke-opacity="0.55"/>
<circle cx="215.40" cy="221.10" r="2.0" fill="#4a83c4" fill-opacity="0.62" stroke="#3a3a3a" stroke-width="0.5" stroke-opacity="0.55"/>
<circle cx="230.90" cy="225.50" r="2.0" fill="#4a83c4" fill-opacity="0.62" stroke="#3a3a3a" stroke-width="0.5" stroke-opacity="0.55"/>
<circle cx="212.20" cy="227.80" r="2.0" fill="#ffd92f" fill-opacity="0.62" stroke="#3a3a3a" stroke-width="0.5" stroke-opacity="0.55"/>
<circle cx="216.20" cy="227.30" r="2.0" fill="#4a83c4" fill-opacity="0.62" stroke="#3a3a3a" stroke-width="0.5" stroke-opacity="0.55"/>
<circle cx="219.70" cy="229.70" r="2.0" fill="#ffd92f" fill-opacity="0.62" stroke="#3a3a3a" stroke-width="0.5" stroke-opacity="0.55"/>
<circle cx="224.00" cy="229.00" r="2.0" fill="#ffd92f" fill-opacity="0.62" stroke="#3a3a3a" stroke-width="0.5" stroke-opacity="0.55"/>
<circle cx="215.40" cy="230.50" r="2.0" fill="#4a83c4" fill-opacity="0.62" stroke="#3a3a3a" stroke-width="0.5" stroke-opacity="0.55"/>
<circle cx="224.70" cy="230.90" r="2.0" fill="#4a83c4" fill-opacity="0.62" stroke="#3a3a3a" stroke-width="0.5" stroke-opacity="0.55"/>
<circle cx="238.70" cy="229.70" r="2.0" fill="#ffd92f" fill-opacity="0.62" stroke="#3a3a3a" stroke-width="0.5" stroke-opacity="0.55"/>
<circle cx="242.50" cy="227.40" r="2.0" fill="#4a83c4" fill-opacity="0.62" stroke="#3a3a3a" stroke-width="0.5" stroke-opacity="0.55"/>
<circle cx="215.40" cy="233.80" r="2.0" fill="#4a83c4" fill-opacity="0.62" stroke="#3a3a3a" stroke-width="0.5" stroke-opacity="0.55"/>
<circle cx="220.10" cy="235.70" r="2.0" fill="#4a83c4" fill-opacity="0.62" stroke="#3a3a3a" stroke-width="0.5" stroke-opacity="0.55"/>
<circle cx="223.60" cy="233.80" r="2.0" fill="#4a83c4" fill-opacity="0.62" stroke="#3a3a3a" stroke-width="0.5" stroke-opacity="0.55"/>
<circle cx="228.60" cy="235.40" r="2.0" fill="#4a83c4" fill-opacity="0.62" stroke="#3a3a3a" stroke-width="0.5" stroke-opacity="0.55"/>
<circle cx="202.70" cy="236.10" r="2.0" fill="#4a83c4" fill-opacity="0.62" stroke="#3a3a3a" stroke-width="0.5" stroke-opacity="0.55"/>
<circle cx="206.20" cy="238.40" r="2.0" fill="#4a83c4" fill-opacity="0.62" stroke="#3a3a3a" stroke-width="0.5" stroke-opacity="0.55"/>
<circle cx="209.30" cy="238.10" r="2.0" fill="#4a83c4" fill-opacity="0.62" stroke="#3a3a3a" stroke-width="0.5" stroke-opacity="0.55"/>
<circle cx="213.50" cy="237.70" r="2.0" fill="#ffd92f" fill-opacity="0.62" stroke="#3a3a3a" stroke-width="0.5" stroke-opacity="0.55"/>
<circle cx="222.40" cy="237.30" r="2.0" fill="#ffd92f" fill-opacity="0.62" stroke="#3a3a3a" stroke-width="0.5" stroke-opacity="0.55"/>
<circle cx="226.30" cy="238.10" r="2.0" fill="#ffd92f" fill-opacity="0.62" stroke="#3a3a3a" stroke-width="0.5" stroke-opacity="0.55"/>
<circle cx="222.80" cy="239.20" r="2.0" fill="#4a83c4" fill-opacity="0.62" stroke="#3a3a3a" stroke-width="0.5" stroke-opacity="0.55"/>
<circle cx="216.20" cy="240.40" r="2.0" fill="#4a83c4" fill-opacity="0.62" stroke="#3a3a3a" stroke-width="0.5" stroke-opacity="0.55"/>
<circle cx="210.80" cy="241.50" r="2.0" fill="#4a83c4" fill-opacity="0.62" stroke="#3a3a3a" stroke-width="0.5" stroke-opacity="0.55"/>
<circle cx="207.70" cy="243.50" r="2.0" fill="#4a83c4" fill-opacity="0.62" stroke="#3a3a3a" stroke-width="0.5" stroke-opacity="0.55"/>
<circle cx="209.30" cy="246.20" r="2.0" fill="#4a83c4" fill-opacity="0.62" stroke="#3a3a3a" stroke-width="0.5" stroke-opacity="0.55"/>
<circle cx="209.80" cy="245.60" r="2.0" fill="#4a83c4" fill-opacity="0.62" stroke="#3a3a3a" stroke-width="0.5" stroke-opacity="0.55"/>
<circle cx="205.00" cy="246.60" r="2.0" fill="#ffd92f" fill-opacity="0.62" stroke="#3a3a3a" stroke-width="0.5" stroke-opacity="0.55"/>
<circle cx="217.40" cy="245.00" r="2.0" fill="#4a83c4" fill-opacity="0.62" stroke="#3a3a3a" stroke-width="0.5" stroke-opacity="0.55"/>
<circle cx="218.50" cy="246.60" r="2.0" fill="#4a83c4" fill-opacity="0.62" stroke="#3a3a3a" stroke-width="0.5" stroke-opacity="0.55"/>
<circle cx="218.20" cy="248.50" r="2.0" fill="#ffd92f" fill-opacity="0.62" stroke="#3a3a3a" stroke-width="0.5" stroke-opacity="0.55"/>
<circle cx="220.50" cy="250.10" r="2.0" fill="#ffd92f" fill-opacity="0.62" stroke="#3a3a3a" stroke-width="0.5" stroke-opacity="0.55"/>
<circle cx="242.10" cy="245.00" r="2.0" fill="#4a83c4" fill-opacity="0.62" stroke="#3a3a3a" stroke-width="0.5" stroke-opacity="0.55"/>
<circle cx="233.20" cy="248.70" r="2.0" fill="#4a83c4" fill-opacity="0.62" stroke="#3a3a3a" stroke-width="0.5" stroke-opacity="0.55"/>
<circle cx="236.00" cy="250.40" r="2.0" fill="#ffd92f" fill-opacity="0.62" stroke="#3a3a3a" stroke-width="0.5" stroke-opacity="0.55"/>
<circle cx="213.30" cy="251.60" r="2.0" fill="#4a83c4" fill-opacity="0.62" stroke="#3a3a3a" stroke-width="0.5" stroke-opacity="0.55"/>
<circle cx="226.10" cy="250.80" r="2.0" fill="#4a83c4" fill-opacity="0.62" stroke="#3a3a3a" stroke-width="0.5" stroke-opacity="0.55"/>
<circle cx="208.10" cy="258.00" r="2.0" fill="#4a83c4" fill-opacity="0.62" stroke="#3a3a3a" stroke-width="0.5" stroke-opacity="0.55"/>
<circle cx="214.50" cy="256.80" r="2.0" fill="#ffd92f" fill-opacity="0.62" stroke="#3a3a3a" stroke-width="0.5" stroke-opacity="0.55"/>
<circle cx="211.60" cy="259.70" r="2.0" fill="#4a83c4" fill-opacity="0.62" stroke="#3a3a3a" stroke-width="0.5" stroke-opacity="0.55"/>
<circle cx="210.80" cy="262.00" r="2.0" fill="#4a83c4" fill-opacity="0.62" stroke="#3a3a3a" stroke-width="0.5" stroke-opacity="0.55"/>
<circle cx="219.30" cy="257.80" r="2.0" fill="#ffd92f" fill-opacity="0.62" stroke="#3a3a3a" stroke-width="0.5" stroke-opacity="0.55"/>
<circle cx="222.00" cy="259.90" r="2.0" fill="#ffd92f" fill-opacity="0.62" stroke="#3a3a3a" stroke-width="0.5" stroke-opacity="0.55"/>
<circle cx="226.40" cy="259.10" r="2.0" fill="#ffd92f" fill-opacity="0.62" stroke="#3a3a3a" stroke-width="0.5" stroke-opacity="0.55"/>
<circle cx="229.40" cy="261.30" r="2.0" fill="#4a83c4" fill-opacity="0.62" stroke="#3a3a3a" stroke-width="0.5" stroke-opacity="0.55"/>
<circle cx="233.20" cy="256.80" r="2.0" fill="#4a83c4" fill-opacity="0.62" stroke="#3a3a3a" stroke-width="0.5" stroke-opacity="0.55"/>
<circle cx="235.20" cy="255.90" r="2.0" fill="#ffd92f" fill-opacity="0.62" stroke="#3a3a3a" stroke-width="0.5" stroke-opacity="0.55"/>
<circle cx="225.90" cy="262.10" r="2.0" fill="#ffd92f" fill-opacity="0.62" stroke="#3a3a3a" stroke-width="0.5" stroke-opacity="0.55"/>
<circle cx="221.30" cy="264.70" r="2.0" fill="#ffd92f" fill-opacity="0.62" stroke="#3a3a3a" stroke-width="0.5" stroke-opacity="0.55"/>
<circle cx="224.30" cy="265.90" r="2.0" fill="#ffd92f" fill-opacity="0.62" stroke="#3a3a3a" stroke-width="0.5" stroke-opacity="0.55"/>
<circle cx="226.30" cy="264.00" r="2.0" fill="#ffd92f" fill-opacity="0.62" stroke="#3a3a3a" stroke-width="0.5" stroke-opacity="0.55"/>
<circle cx="234.80" cy="270.20" r="2.0" fill="#4a83c4" fill-opacity="0.62" stroke="#3a3a3a" stroke-width="0.5" stroke-opacity="0.55"/>
<circle cx="239.10" cy="267.80" r="2.0" fill="#ffd92f" fill-opacity="0.62" stroke="#3a3a3a" stroke-width="0.5" stroke-opacity="0.55"/>
<circle cx="240.20" cy="272.30" r="2.0" fill="#ffd92f" fill-opacity="0.62" stroke="#3a3a3a" stroke-width="0.5" stroke-opacity="0.55"/>
<circle cx="226.70" cy="271.70" r="2.0" fill="#ffd92f" fill-opacity="0.62" stroke="#3a3a3a" stroke-width="0.5" stroke-opacity="0.55"/>
<circle cx="236.50" cy="276.70" r="2.0" fill="#ffd92f" fill-opacity="0.62" stroke="#3a3a3a" stroke-width="0.5" stroke-opacity="0.55"/>
<circle cx="225.90" cy="282.50" r="2.0" fill="#ffd92f" fill-opacity="0.62" stroke="#3a3a3a" stroke-width="0.5" stroke-opacity="0.55"/>
<circle cx="270.50" cy="208.70" r="2.0" fill="#4a83c4" fill-opacity="0.62" stroke="#3a3a3a" stroke-width="0.5" stroke-opacity="0.55"/>
<circle cx="263.20" cy="223.30" r="2.0" fill="#ffd92f" fill-opacity="0.62" stroke="#3a3a3a" stroke-width="0.5" stroke-opacity="0.55"/>
<circle cx="255.20" cy="235.20" r="2.0" fill="#4a83c4" fill-opacity="0.62" stroke="#3a3a3a" stroke-width="0.5" stroke-opacity="0.55"/>
<circle cx="258.00" cy="239.40" r="2.0" fill="#ffd92f" fill-opacity="0.62" stroke="#3a3a3a" stroke-width="0.5" stroke-opacity="0.55"/>
<circle cx="281.50" cy="237.70" r="2.0" fill="#ffd92f" fill-opacity="0.62" stroke="#3a3a3a" stroke-width="0.5" stroke-opacity="0.55"/>
<circle cx="285.60" cy="238.00" r="2.0" fill="#ffd92f" fill-opacity="0.62" stroke="#3a3a3a" stroke-width="0.5" stroke-opacity="0.55"/>
<circle cx="288.30" cy="236.30" r="2.0" fill="#ffd92f" fill-opacity="0.62" stroke="#3a3a3a" stroke-width="0.5" stroke-opacity="0.55"/>
<circle cx="253.70" cy="244.30" r="2.0" fill="#ffd92f" fill-opacity="0.62" stroke="#3a3a3a" stroke-width="0.5" stroke-opacity="0.55"/>
<circle cx="274.00" cy="243.30" r="2.0" fill="#4a83c4" fill-opacity="0.62" stroke="#3a3a3a" stroke-width="0.5" stroke-opacity="0.55"/>
<circle cx="261.00" cy="247.10" r="2.0" fill="#ffd92f" fill-opacity="0.62" stroke="#3a3a3a" stroke-width="0.5" stroke-opacity="0.55"/>
<circle cx="255.30" cy="251.50" r="2.0" fill="#ffd92f" fill-opacity="0.62" stroke="#3a3a3a" stroke-width="0.5" stroke-opacity="0.55"/>
<circle cx="256.20" cy="250.10" r="2.0" fill="#4a83c4" fill-opacity="0.62" stroke="#3a3a3a" stroke-width="0.5" stroke-opacity="0.55"/>
<circle cx="251.20" cy="254.40" r="2.0" fill="#ffd92f" fill-opacity="0.62" stroke="#3a3a3a" stroke-width="0.5" stroke-opacity="0.55"/>
<circle cx="253.90" cy="255.50" r="2.0" fill="#4a83c4" fill-opacity="0.62" stroke="#3a3a3a" stroke-width="0.5" stroke-opacity="0.55"/>
<circle cx="254.70" cy="257.80" r="2.0" fill="#4a83c4" fill-opacity="0.62" stroke="#3a3a3a" stroke-width="0.5" stroke-opacity="0.55"/>
<circle cx="253.50" cy="267.80" r="2.0" fill="#ffd92f" fill-opacity="0.62" stroke="#3a3a3a" stroke-width="0.5" stroke-opacity="0.55"/>
<circle cx="255.30" cy="270.80" r="2.0" fill="#ffd92f" fill-opacity="0.62" stroke="#3a3a3a" stroke-width="0.5" stroke-opacity="0.55"/>
<circle cx="293.50" cy="221.20" r="2.0" fill="#ffd92f" fill-opacity="0.62" stroke="#3a3a3a" stroke-width="0.5" stroke-opacity="0.55"/>
<circle cx="305.10" cy="238.10" r="2.0" fill="#ffd92f" fill-opacity="0.62" stroke="#3a3a3a" stroke-width="0.5" stroke-opacity="0.55"/>
<circle cx="293.50" cy="250.00" r="2.0" fill="#ffd92f" fill-opacity="0.62" stroke="#3a3a3a" stroke-width="0.5" stroke-opacity="0.55"/>
<circle cx="290.00" cy="255.50" r="2.0" fill="#ffd92f" fill-opacity="0.62" stroke="#3a3a3a" stroke-width="0.5" stroke-opacity="0.55"/>
<circle cx="307.90" cy="254.20" r="2.0" fill="#4a83c4" fill-opacity="0.62" stroke="#3a3a3a" stroke-width="0.5" stroke-opacity="0.55"/>
<circle cx="331.80" cy="256.40" r="2.0" fill="#ffd92f" fill-opacity="0.62" stroke="#3a3a3a" stroke-width="0.5" stroke-opacity="0.55"/>
<path d="M355.51 233.46L358.01 237.86L353.01 237.86Z" fill="#ffd92f" fill-opacity="0.62" stroke="#3a3a3a" stroke-width="0.5" stroke-opacity="0.55"/>
<path d="M360.18 250.29L362.68 254.69L357.68 254.69Z" fill="#4a83c4" fill-opacity="0.62" stroke="#3a3a3a" stroke-width="0.5" stroke-opacity="0.55"/>
<path d="M366.63 232.25L369.13 236.65L364.13 236.65Z" fill="#ffd92f" fill-opacity="0.62" stroke="#3a3a3a" stroke-width="0.5" stroke-opacity="0.55"/>
<path d="M366.58 251.93L369.08 256.33L364.08 256.33Z" fill="#ffd92f" fill-opacity="0.62" stroke="#3a3a3a" stroke-width="0.5" stroke-opacity="0.55"/>
<path d="M367.49 241.13L369.99 245.53L364.99 245.53Z" fill="#4a83c4" fill-opacity="0.62" stroke="#3a3a3a" stroke-width="0.5" stroke-opacity="0.55"/>
<path d="M357.23 244.90L359.73 249.30L354.73 249.30Z" fill="#4a83c4" fill-opacity="0.62" stroke="#3a3a3a" stroke-width="0.5" stroke-opacity="0.55"/>
<path d="M357.52 235.44L360.02 239.84L355.02 239.84Z" fill="#4a83c4" fill-opacity="0.62" stroke="#3a3a3a" stroke-width="0.5" stroke-opacity="0.55"/>
<path d="M366.48 246.72L368.98 251.12L363.98 251.12Z" fill="#4a83c4" fill-opacity="0.62" stroke="#3a3a3a" stroke-width="0.5" stroke-opacity="0.55"/>
<path d="M363.16 248.60L365.66 253.00L360.66 253.00Z" fill="#ffd92f" fill-opacity="0.62" stroke="#3a3a3a" stroke-width="0.5" stroke-opacity="0.55"/>
<path d="M366.92 241.85L369.42 246.25L364.42 246.25Z" fill="#4a83c4" fill-opacity="0.62" stroke="#3a3a3a" stroke-width="0.5" stroke-opacity="0.55"/>
<path d="M357.38 241.27L359.88 245.67L354.88 245.67Z" fill="#4a83c4" fill-opacity="0.62" stroke="#3a3a3a" stroke-width="0.5" stroke-opacity="0.55"/>
<path d="M354.85 225.73L357.35 230.13L352.35 230.13Z" fill="#4a83c4" fill-opacity="0.62" stroke="#3a3a3a" stroke-width="0.5" stroke-opacity="0.55"/>
<path d="M361.65 244.70L364.15 249.10L359.15 249.10Z" fill="#4a83c4" fill-opacity="0.62" stroke="#3a3a3a" stroke-width="0.5" stroke-opacity="0.55"/>
<path d="M365.81 243.44L368.31 247.84L363.31 247.84Z" fill="#4a83c4" fill-opacity="0.62" stroke="#3a3a3a" stroke-width="0.5" stroke-opacity="0.55"/>
<path d="M352.03 244.13L354.53 248.53L349.53 248.53Z" fill="#ffd92f" fill-opacity="0.62" stroke="#3a3a3a" stroke-width="0.5" stroke-opacity="0.55"/>
<path d="M359.35 235.59L361.85 239.99L356.85 239.99Z" fill="#4a83c4" fill-opacity="0.62" stroke="#3a3a3a" stroke-width="0.5" stroke-opacity="0.55"/>
<path d="M353.18 249.96L355.68 254.36L350.68 254.36Z" fill="#4a83c4" fill-opacity="0.62" stroke="#3a3a3a" stroke-width="0.5" stroke-opacity="0.55"/>
<path d="M362.27 249.98L364.77 254.38L359.77 254.38Z" fill="#4a83c4" fill-opacity="0.62" stroke="#3a3a3a" stroke-width="0.5" stroke-opacity="0.55"/>
<path d="M360.09 250.67L362.59 255.07L357.59 255.07Z" fill="#ffd92f" fill-opacity="0.62" stroke="#3a3a3a" stroke-width="0.5" stroke-opacity="0.55"/>
<path d="M370.38 249.99L372.88 254.39L367.88 254.39Z" fill="#4a83c4" fill-opacity="0.62" stroke="#3a3a3a" stroke-width="0.5" stroke-opacity="0.55"/>
<path d="M362.18 228.13L364.68 232.53L359.68 232.53Z" fill="#ffd92f" fill-opacity="0.62" stroke="#3a3a3a" stroke-width="0.5" stroke-opacity="0.55"/>
<path d="M370.93 228.78L373.43 233.18L368.43 233.18Z" fill="#4a83c4" fill-opacity="0.62" stroke="#3a3a3a" stroke-width="0.5" stroke-opacity="0.55"/>
<path d="M371.43 241.58L373.93 245.98L368.93 245.98Z" fill="#4a83c4" fill-opacity="0.62" stroke="#3a3a3a" stroke-width="0.5" stroke-opacity="0.55"/>
<path d="M363.16 254.68L365.66 259.08L360.66 259.08Z" fill="#ffd92f" fill-opacity="0.62" stroke="#3a3a3a" stroke-width="0.5" stroke-opacity="0.55"/>
<path d="M363.10 240.62L365.60 245.02L360.60 245.02Z" fill="#4a83c4" fill-opacity="0.62" stroke="#3a3a3a" stroke-width="0.5" stroke-opacity="0.55"/>
<path d="M360.01 237.97L362.51 242.37L357.51 242.37Z" fill="#4a83c4" fill-opacity="0.62" stroke="#3a3a3a" stroke-width="0.5" stroke-opacity="0.55"/>
<path d="M361.39 243.68L363.89 248.08L358.89 248.08Z" fill="#ffd92f" fill-opacity="0.62" stroke="#3a3a3a" stroke-width="0.5" stroke-opacity="0.55"/>
<path d="M352.61 247.19L355.11 251.59L350.11 251.59Z" fill="#ffd92f" fill-opacity="0.62" stroke="#3a3a3a" stroke-width="0.5" stroke-opacity="0.55"/>
<path d="M371.53 245.31L374.03 249.71L369.03 249.71Z" fill="#4a83c4" fill-opacity="0.62" stroke="#3a3a3a" stroke-width="0.5" stroke-opacity="0.55"/>
<path d="M370.82 251.38L373.32 255.78L368.32 255.78Z" fill="#4a83c4" fill-opacity="0.62" stroke="#3a3a3a" stroke-width="0.5" stroke-opacity="0.55"/>
<path d="M365.48 228.81L367.98 233.21L362.98 233.21Z" fill="#4a83c4" fill-opacity="0.62" stroke="#3a3a3a" stroke-width="0.5" stroke-opacity="0.55"/>
<path d="M358.70 236.54L361.20 240.94L356.20 240.94Z" fill="#4a83c4" fill-opacity="0.62" stroke="#3a3a3a" stroke-width="0.5" stroke-opacity="0.55"/>
<path d="M389.40 198.30L391.90 202.70L386.90 202.70Z" fill="#4a83c4" fill-opacity="0.62" stroke="#3a3a3a" stroke-width="0.5" stroke-opacity="0.55"/>
<path d="M374.00 207.90L376.50 212.30L371.50 212.30Z" fill="#4a83c4" fill-opacity="0.62" stroke="#3a3a3a" stroke-width="0.5" stroke-opacity="0.55"/>
<path d="M370.50 215.90L373.00 220.30L368.00 220.30Z" fill="#4a83c4" fill-opacity="0.62" stroke="#3a3a3a" stroke-width="0.5" stroke-opacity="0.55"/>
<path d="M375.40 215.40L377.90 219.80L372.90 219.80Z" fill="#4a83c4" fill-opacity="0.62" stroke="#3a3a3a" stroke-width="0.5" stroke-opacity="0.55"/>
<path d="M383.40 218.00L385.90 222.40L380.90 222.40Z" fill="#4a83c4" fill-opacity="0.62" stroke="#3a3a3a" stroke-width="0.5" stroke-opacity="0.55"/>
<path d="M379.40 221.90L381.90 226.30L376.90 226.30Z" fill="#4a83c4" fill-opacity="0.62" stroke="#3a3a3a" stroke-width="0.5" stroke-opacity="0.55"/>
<path d="M384.00 221.90L386.50 226.30L381.50 226.30Z" fill="#4a83c4" fill-opacity="0.62" stroke="#3a3a3a" stroke-width="0.5" stroke-opacity="0.55"/>
<path d="M374.90 220.60L377.40 225.00L372.40 225.00Z" fill="#4a83c4" fill-opacity="0.62" stroke="#3a3a3a" stroke-width="0.5" stroke-opacity="0.55"/>
<path d="M372.00 220.00L374.50 224.40L369.50 224.40Z" fill="#ffd92f" fill-opacity="0.62" stroke="#3a3a3a" stroke-width="0.5" stroke-opacity="0.55"/>
<path d="M369.30 221.30L371.80 225.70L366.80 225.70Z" fill="#ffd92f" fill-opacity="0.62" stroke="#3a3a3a" stroke-width="0.5" stroke-opacity="0.55"/>
<path d="M366.60 222.10L369.10 226.50L364.10 226.50Z" fill="#ffd92f" fill-opacity="0.62" stroke="#3a3a3a" stroke-width="0.5" stroke-opacity="0.55"/>
<path d="M360.80 223.70L363.30 228.10L358.30 228.10Z" fill="#ffd92f" fill-opacity="0.62" stroke="#3a3a3a" stroke-width="0.5" stroke-opacity="0.55"/>
<path d="M358.90 225.20L361.40 229.60L356.40 229.60Z" fill="#4a83c4" fill-opacity="0.62" stroke="#3a3a3a" stroke-width="0.5" stroke-opacity="0.55"/>
<path d="M368.50 225.20L371.00 229.60L366.00 229.60Z" fill="#4a83c4" fill-opacity="0.62" stroke="#3a3a3a" stroke-width="0.5" stroke-opacity="0.55"/>
<path d="M371.30 225.20L373.80 229.60L368.80 229.60Z" fill="#4a83c4" fill-opacity="0.62" stroke="#3a3a3a" stroke-width="0.5" stroke-opacity="0.55"/>
<path d="M360.00 228.00L362.50 232.40L357.50 232.40Z" fill="#ffd92f" fill-opacity="0.62" stroke="#3a3a3a" stroke-width="0.5" stroke-opacity="0.55"/>
<path d="M366.20 227.40L368.70 231.80L363.70 231.80Z" fill="#4a83c4" fill-opacity="0.62" stroke="#3a3a3a" stroke-width="0.5" stroke-opacity="0.55"/>
<path d="M376.00 227.80L378.50 232.20L373.50 232.20Z" fill="#ffd92f" fill-opacity="0.62" stroke="#3a3a3a" stroke-width="0.5" stroke-opacity="0.55"/>
<path d="M370.70 228.60L373.20 233.00L368.20 233.00Z" fill="#4a83c4" fill-opacity="0.62" stroke="#3a3a3a" stroke-width="0.5" stroke-opacity="0.55"/>
<path d="M390.80 228.20L393.30 232.60L388.30 232.60Z" fill="#ffd92f" fill-opacity="0.62" stroke="#3a3a3a" stroke-width="0.5" stroke-opacity="0.55"/>
<path d="M377.10 231.20L379.60 235.60L374.60 235.60Z" fill="#4a83c4" fill-opacity="0.62" stroke="#3a3a3a" stroke-width="0.5" stroke-opacity="0.55"/>
<path d="M379.80 234.30L382.30 238.70L377.30 238.70Z" fill="#ffd92f" fill-opacity="0.62" stroke="#3a3a3a" stroke-width="0.5" stroke-opacity="0.55"/>
<path d="M357.70 229.70L360.20 234.10L355.20 234.10Z" fill="#4a83c4" fill-opacity="0.62" stroke="#3a3a3a" stroke-width="0.5" stroke-opacity="0.55"/>
<path d="M362.00 230.80L364.50 235.20L359.50 235.20Z" fill="#ffd92f" fill-opacity="0.62" stroke="#3a3a3a" stroke-width="0.5" stroke-opacity="0.55"/>
<path d="M368.50 230.40L371.00 234.80L366.00 234.80Z" fill="#4a83c4" fill-opacity="0.62" stroke="#3a3a3a" stroke-width="0.5" stroke-opacity="0.55"/>
<path d="M355.40 235.10L357.90 239.50L352.90 239.50Z" fill="#ffd92f" fill-opacity="0.62" stroke="#3a3a3a" stroke-width="0.5" stroke-opacity="0.55"/>
<path d="M359.30 233.90L361.80 238.30L356.80 238.30Z" fill="#4a83c4" fill-opacity="0.62" stroke="#3a3a3a" stroke-width="0.5" stroke-opacity="0.55"/>
<path d="M363.50 233.90L366.00 238.30L361.00 238.30Z" fill="#ffd92f" fill-opacity="0.62" stroke="#3a3a3a" stroke-width="0.5" stroke-opacity="0.55"/>
<path d="M366.20 235.10L368.70 239.50L363.70 239.50Z" fill="#4a83c4" fill-opacity="0.62" stroke="#3a3a3a" stroke-width="0.5" stroke-opacity="0.55"/>
<path d="M367.00 237.00L369.50 241.40L364.50 241.40Z" fill="#ffd92f" fill-opacity="0.62" stroke="#3a3a3a" stroke-width="0.5" stroke-opacity="0.55"/>
<path d="M369.30 237.80L371.80 242.20L366.80 242.20Z" fill="#ffd92f" fill-opacity="0.62" stroke="#3a3a3a" stroke-width="0.5" stroke-opacity="0.55"/>
<path d="M356.90 238.90L359.40 243.30L354.40 243.30Z" fill="#4a83c4" fill-opacity="0.62" stroke="#3a3a3a" stroke-width="0.5" stroke-opacity="0.55"/>
<path d="M361.60 238.60L364.10 243.00L359.10 243.00Z" fill="#4a83c4" fill-opacity="0.62" stroke="#3a3a3a" stroke-width="0.5" stroke-opacity="0.55"/>
<path d="M365.40 240.10L367.90 244.50L362.90 244.50Z" fill="#4a83c4" fill-opacity="0.62" stroke="#3a3a3a" stroke-width="0.5" stroke-opacity="0.55"/>
<path d="M374.00 240.90L376.50 245.30L371.50 245.30Z" fill="#4a83c4" fill-opacity="0.62" stroke="#3a3a3a" stroke-width="0.5" stroke-opacity="0.55"/>
<path d="M354.60 243.20L357.10 247.60L352.10 247.60Z" fill="#4a83c4" fill-opacity="0.62" stroke="#3a3a3a" stroke-width="0.5" stroke-opacity="0.55"/>
<path d="M360.80 242.00L363.30 246.40L358.30 246.40Z" fill="#ffd92f" fill-opacity="0.62" stroke="#3a3a3a" stroke-width="0.5" stroke-opacity="0.55"/>
<path d="M362.70 244.40L365.20 248.80L360.20 248.80Z" fill="#ffd92f" fill-opacity="0.62" stroke="#3a3a3a" stroke-width="0.5" stroke-opacity="0.55"/>
<path d="M367.80 242.40L370.30 246.80L365.30 246.80Z" fill="#4a83c4" fill-opacity="0.62" stroke="#3a3a3a" stroke-width="0.5" stroke-opacity="0.55"/>
<path d="M372.40 244.00L374.90 248.40L369.90 248.40Z" fill="#ffd92f" fill-opacity="0.62" stroke="#3a3a3a" stroke-width="0.5" stroke-opacity="0.55"/>
<path d="M389.90 242.00L392.40 246.40L387.40 246.40Z" fill="#ffd92f" fill-opacity="0.62" stroke="#3a3a3a" stroke-width="0.5" stroke-opacity="0.55"/>
<path d="M351.50 248.60L354.00 253.00L349.00 253.00Z" fill="#4a83c4" fill-opacity="0.62" stroke="#3a3a3a" stroke-width="0.5" stroke-opacity="0.55"/>
<path d="M354.20 247.10L356.70 251.50L351.70 251.50Z" fill="#ffd92f" fill-opacity="0.62" stroke="#3a3a3a" stroke-width="0.5" stroke-opacity="0.55"/>
<path d="M358.50 247.10L361.00 251.50L356.00 251.50Z" fill="#4a83c4" fill-opacity="0.62" stroke="#3a3a3a" stroke-width="0.5" stroke-opacity="0.55"/>
<path d="M363.90 247.80L366.40 252.20L361.40 252.20Z" fill="#4a83c4" fill-opacity="0.62" stroke="#3a3a3a" stroke-width="0.5" stroke-opacity="0.55"/>
<path d="M369.30 247.10L371.80 251.50L366.80 251.50Z" fill="#4a83c4" fill-opacity="0.62" stroke="#3a3a3a" stroke-width="0.5" stroke-opacity="0.55"/>
<path d="M377.10 246.70L379.60 251.10L374.60 251.10Z" fill="#4a83c4" fill-opacity="0.62" stroke="#3a3a3a" stroke-width="0.5" stroke-opacity="0.55"/>
<path d="M380.50 249.40L383.00 253.80L378.00 253.80Z" fill="#4a83c4" fill-opacity="0.62" stroke="#3a3a3a" stroke-width="0.5" stroke-opacity="0.55"/>
<path d="M391.20 249.10L393.70 253.50L388.70 253.50Z" fill="#4a83c4" fill-opacity="0.62" stroke="#3a3a3a" stroke-width="0.5" stroke-opacity="0.55"/>
<path d="M357.30 250.90L359.80 255.30L354.80 255.30Z" fill="#ffd92f" fill-opacity="0.62" stroke="#3a3a3a" stroke-width="0.5" stroke-opacity="0.55"/>
<path d="M364.70 250.20L367.20 254.60L362.20 254.60Z" fill="#ffd92f" fill-opacity="0.62" stroke="#3a3a3a" stroke-width="0.5" stroke-opacity="0.55"/>
<path d="M361.20 252.90L363.70 257.30L358.70 257.30Z" fill="#4a83c4" fill-opacity="0.62" stroke="#3a3a3a" stroke-width="0.5" stroke-opacity="0.55"/>
<path d="M369.70 252.10L372.20 256.50L367.20 256.50Z" fill="#4a83c4" fill-opacity="0.62" stroke="#3a3a3a" stroke-width="0.5" stroke-opacity="0.55"/>
<path d="M373.60 251.30L376.10 255.70L371.10 255.70Z" fill="#ffd92f" fill-opacity="0.62" stroke="#3a3a3a" stroke-width="0.5" stroke-opacity="0.55"/>
<path d="M376.30 254.00L378.80 258.40L373.80 258.40Z" fill="#ffd92f" fill-opacity="0.62" stroke="#3a3a3a" stroke-width="0.5" stroke-opacity="0.55"/>
<path d="M366.20 255.20L368.70 259.60L363.70 259.60Z" fill="#4a83c4" fill-opacity="0.62" stroke="#3a3a3a" stroke-width="0.5" stroke-opacity="0.55"/>
<path d="M370.50 254.40L373.00 258.80L368.00 258.80Z" fill="#4a83c4" fill-opacity="0.62" stroke="#3a3a3a" stroke-width="0.5" stroke-opacity="0.55"/>
<path d="M353.80 257.20L356.30 261.60L351.30 261.60Z" fill="#ffd92f" fill-opacity="0.62" stroke="#3a3a3a" stroke-width="0.5" stroke-opacity="0.55"/>
<path d="M378.60 256.90L381.10 261.30L376.10 261.30Z" fill="#4a83c4" fill-opacity="0.62" stroke="#3a3a3a" stroke-width="0.5" stroke-opacity="0.55"/>
<path d="M370.10 258.70L372.60 263.10L367.60 263.10Z" fill="#4a83c4" fill-opacity="0.62" stroke="#3a3a3a" stroke-width="0.5" stroke-opacity="0.55"/>
<path d="M365.80 256.60L368.30 261.00L363.30 261.00Z" fill="#4a83c4" fill-opacity="0.62" stroke="#3a3a3a" stroke-width="0.5" stroke-opacity="0.55"/>
<path d="M375.50 255.80L378.00 260.20L373.00 260.20Z" fill="#ffd92f" fill-opacity="0.62" stroke="#3a3a3a" stroke-width="0.5" stroke-opacity="0.55"/>
<path d="M370.10 260.00L372.60 264.40L367.60 264.40Z" fill="#4a83c4" fill-opacity="0.62" stroke="#3a3a3a" stroke-width="0.5" stroke-opacity="0.55"/>
<path d="M362.30 262.80L364.80 267.20L359.80 267.20Z" fill="#4a83c4" fill-opacity="0.62" stroke="#3a3a3a" stroke-width="0.5" stroke-opacity="0.55"/>
<path d="M363.70 267.40L366.20 271.80L361.20 271.80Z" fill="#4a83c4" fill-opacity="0.62" stroke="#3a3a3a" stroke-width="0.5" stroke-opacity="0.55"/>
<path d="M362.00 271.50L364.50 275.90L359.50 275.90Z" fill="#ffd92f" fill-opacity="0.62" stroke="#3a3a3a" stroke-width="0.5" stroke-opacity="0.55"/>
<path d="M395.50 206.10L398.00 210.50L393.00 210.50Z" fill="#4a83c4" fill-opacity="0.62" stroke="#3a3a3a" stroke-width="0.5" stroke-opacity="0.55"/>
<path d="M414.80 207.70L417.30 212.10L412.30 212.10Z" fill="#4a83c4" fill-opacity="0.62" stroke="#3a3a3a" stroke-width="0.5" stroke-opacity="0.55"/>
<path d="M395.30 216.00L397.80 220.40L392.80 220.40Z" fill="#4a83c4" fill-opacity="0.62" stroke="#3a3a3a" stroke-width="0.5" stroke-opacity="0.55"/>
<path d="M436.90 217.00L439.40 221.40L434.40 221.40Z" fill="#4a83c4" fill-opacity="0.62" stroke="#3a3a3a" stroke-width="0.5" stroke-opacity="0.55"/>
<path d="M439.70 224.60L442.20 229.00L437.20 229.00Z" fill="#4a83c4" fill-opacity="0.62" stroke="#3a3a3a" stroke-width="0.5" stroke-opacity="0.55"/>
<path d="M400.50 233.70L403.00 238.10L398.00 238.10Z" fill="#4a83c4" fill-opacity="0.62" stroke="#3a3a3a" stroke-width="0.5" stroke-opacity="0.55"/>
<path d="M407.20 236.50L409.70 240.90L404.70 240.90Z" fill="#ffd92f" fill-opacity="0.62" stroke="#3a3a3a" stroke-width="0.5" stroke-opacity="0.55"/>
<path d="M411.10 239.10L413.60 243.50L408.60 243.50Z" fill="#ffd92f" fill-opacity="0.62" stroke="#3a3a3a" stroke-width="0.5" stroke-opacity="0.55"/>
<path d="M456.20 226.00L458.70 230.40L453.70 230.40Z" fill="#4a83c4" fill-opacity="0.62" stroke="#3a3a3a" stroke-width="0.5" stroke-opacity="0.55"/>
<path d="M459.50 226.50L462.00 230.90L457.00 230.90Z" fill="#ffd92f" fill-opacity="0.62" stroke="#3a3a3a" stroke-width="0.5" stroke-opacity="0.55"/>
<text transform="translate(597.80,180.20)" font-size="8.770" text-anchor="middle" fill="#000" stroke="#000" stroke-width="0.22" stroke-opacity="0.6">Kruskal–Wallis FDR p = 0.005</text>
<line x1="522.80" y1="196.50" x2="522.80" y2="291.50" stroke="#5a5a5a" stroke-width="1.0"/>
<line x1="522.30" y1="291.00" x2="672.00" y2="291.00" stroke="#5a5a5a" stroke-width="1.1"/>
<line x1="522.80" y1="197.80" x2="525.80" y2="197.80" stroke="#5a5a5a" stroke-width="1.0"/>
<text transform="translate(520.80,201.10) scale(0.8696,1)" font-size="8.625" text-anchor="end" fill="#464646" stroke="#464646" stroke-width="0.22" stroke-opacity="0.6">0.9</text>
<line x1="522.80" y1="221.90" x2="525.80" y2="221.90" stroke="#5a5a5a" stroke-width="1.0"/>
<text transform="translate(520.80,225.20) scale(0.8696,1)" font-size="8.625" text-anchor="end" fill="#464646" stroke="#464646" stroke-width="0.22" stroke-opacity="0.6">0.7</text>
<line x1="522.80" y1="246.00" x2="525.80" y2="246.00" stroke="#5a5a5a" stroke-width="1.0"/>
<text transform="translate(520.80,249.30) scale(0.8696,1)" font-size="8.625" text-anchor="end" fill="#464646" stroke="#464646" stroke-width="0.22" stroke-opacity="0.6">0.5</text>
<line x1="522.80" y1="270.10" x2="525.80" y2="270.10" stroke="#5a5a5a" stroke-width="1.0"/>
<text transform="translate(520.80,273.40) scale(0.8696,1)" font-size="8.625" text-anchor="end" fill="#464646" stroke="#464646" stroke-width="0.22" stroke-opacity="0.6">0.3</text>
<line x1="563.30" y1="290.50" x2="563.30" y2="288.50" stroke="#5a5a5a" stroke-width="0.8"/>
<line x1="631.90" y1="290.50" x2="631.90" y2="288.50" stroke="#5a5a5a" stroke-width="0.8"/>
<text transform="translate(563.30,298.80) scale(0.9091,1)" font-size="8.360" text-anchor="middle" fill="#464646" stroke="#464646" stroke-width="0.22" stroke-opacity="0.6">D85 Not−Ill</text>
<text transform="translate(631.90,298.80) scale(0.9091,1)" font-size="8.360" text-anchor="middle" fill="#464646" stroke="#464646" stroke-width="0.22" stroke-opacity="0.6">Later−Ill</text>
<text transform="translate(506.10,243.75) rotate(-90) scale(0.9091,1)" font-size="10.615" text-anchor="middle" fill="#000" stroke="#000" stroke-width="0.22" stroke-opacity="0.6">Distance to centroid</text>
<line x1="563.30" y1="249.00" x2="563.30" y2="265.00" stroke="#333" stroke-width="0.8"/>
<line x1="563.30" y1="277.90" x2="563.30" y2="286.00" stroke="#333" stroke-width="0.8"/>
<rect x="537.55" y="265.00" width="51.5" height="12.90" fill="#4a86c6" stroke="#5a5a5a" stroke-width="0.8"/>
<line x1="537.55" y1="271.60" x2="589.05" y2="271.60" stroke="#303030" stroke-width="1.15"/>
<line x1="631.90" y1="239.00" x2="631.90" y2="256.70" stroke="#333" stroke-width="0.8"/>
<line x1="631.90" y1="275.50" x2="631.90" y2="284.00" stroke="#333" stroke-width="0.8"/>
<rect x="606.15" y="256.70" width="51.5" height="18.80" fill="#ffda33" stroke="#5a5a5a" stroke-width="0.8"/>
<line x1="606.15" y1="268.00" x2="657.65" y2="268.00" stroke="#303030" stroke-width="1.15"/>
<circle cx="561.30" cy="201.40" r="1.55" fill="#000" fill-opacity="0.68"/>
<circle cx="568.40" cy="203.60" r="1.55" fill="#000" fill-opacity="0.68"/>
<circle cx="572.00" cy="202.80" r="1.55" fill="#000" fill-opacity="0.68"/>
<circle cx="559.10" cy="213.30" r="1.55" fill="#000" fill-opacity="0.68"/>
<circle cx="555.60" cy="216.40" r="1.55" fill="#000" fill-opacity="0.68"/>
<circle cx="568.40" cy="215.20" r="1.55" fill="#000" fill-opacity="0.68"/>
<circle cx="563.50" cy="220.50" r="1.55" fill="#000" fill-opacity="0.68"/>
<circle cx="556.50" cy="232.60" r="1.55" fill="#000" fill-opacity="0.68"/>
<circle cx="562.00" cy="234.80" r="1.55" fill="#000" fill-opacity="0.68"/>
<circle cx="572.10" cy="234.70" r="1.55" fill="#000" fill-opacity="0.68"/>
<circle cx="556.60" cy="237.10" r="1.55" fill="#000" fill-opacity="0.68"/>
<circle cx="568.60" cy="244.00" r="1.55" fill="#000" fill-opacity="0.68"/>
<circle cx="562.80" cy="247.40" r="1.55" fill="#000" fill-opacity="0.68"/>
<circle cx="566.30" cy="246.90" r="1.55" fill="#000" fill-opacity="0.68"/>
<circle cx="569.70" cy="246.70" r="1.55" fill="#000" fill-opacity="0.68"/>
<circle cx="572.80" cy="246.70" r="1.55" fill="#000" fill-opacity="0.68"/>
<circle cx="556.20" cy="249.00" r="1.55" fill="#000" fill-opacity="0.68"/>
<circle cx="557.30" cy="250.30" r="1.55" fill="#000" fill-opacity="0.68"/>
<circle cx="560.20" cy="251.70" r="1.55" fill="#000" fill-opacity="0.68"/>
<circle cx="565.50" cy="250.80" r="1.55" fill="#000" fill-opacity="0.68"/>
<circle cx="568.20" cy="250.90" r="1.55" fill="#000" fill-opacity="0.68"/>
<circle cx="569.00" cy="252.60" r="1.55" fill="#000" fill-opacity="0.68"/>
<circle cx="565.10" cy="255.40" r="1.55" fill="#000" fill-opacity="0.68"/>
<circle cx="554.60" cy="256.40" r="1.55" fill="#000" fill-opacity="0.68"/>
<circle cx="553.10" cy="257.80" r="1.55" fill="#000" fill-opacity="0.68"/>
<circle cx="570.10" cy="256.70" r="1.55" fill="#000" fill-opacity="0.68"/>
<circle cx="571.70" cy="257.90" r="1.55" fill="#000" fill-opacity="0.68"/>
<circle cx="559.30" cy="259.80" r="1.55" fill="#000" fill-opacity="0.68"/>
<circle cx="560.80" cy="260.10" r="1.55" fill="#000" fill-opacity="0.68"/>
<circle cx="563.80" cy="259.80" r="1.55" fill="#000" fill-opacity="0.68"/>
<circle cx="571.50" cy="260.90" r="1.55" fill="#000" fill-opacity="0.68"/>
<circle cx="559.30" cy="264.50" r="1.55" fill="#000" fill-opacity="0.68"/>
<circle cx="568.60" cy="264.10" r="1.55" fill="#000" fill-opacity="0.68"/>
<circle cx="627.70" cy="202.10" r="1.55" fill="#000" fill-opacity="0.68"/>
<circle cx="629.00" cy="206.50" r="1.55" fill="#000" fill-opacity="0.68"/>
<circle cx="634.00" cy="208.30" r="1.55" fill="#000" fill-opacity="0.68"/>
<circle cx="621.90" cy="215.20" r="1.55" fill="#000" fill-opacity="0.68"/>
<circle cx="621.50" cy="218.70" r="1.55" fill="#000" fill-opacity="0.68"/>
<circle cx="636.70" cy="215.20" r="1.55" fill="#000" fill-opacity="0.68"/>
<circle cx="641.70" cy="219.90" r="1.55" fill="#000" fill-opacity="0.68"/>
<circle cx="627.70" cy="222.20" r="1.55" fill="#000" fill-opacity="0.68"/>
<circle cx="633.40" cy="222.40" r="1.55" fill="#000" fill-opacity="0.68"/>
<circle cx="635.20" cy="223.50" r="1.55" fill="#000" fill-opacity="0.68"/>
<circle cx="621.50" cy="239.10" r="1.55" fill="#000" fill-opacity="0.68"/>
<circle cx="628.20" cy="240.70" r="1.55" fill="#000" fill-opacity="0.68"/>
<circle cx="623.30" cy="243.20" r="1.55" fill="#000" fill-opacity="0.68"/>
<circle cx="622.50" cy="244.90" r="1.55" fill="#000" fill-opacity="0.68"/>
<circle cx="622.80" cy="246.30" r="1.55" fill="#000" fill-opacity="0.68"/>
<circle cx="624.30" cy="248.20" r="1.55" fill="#000" fill-opacity="0.68"/>
<circle cx="628.20" cy="250.00" r="1.55" fill="#000" fill-opacity="0.68"/>
<circle cx="625.90" cy="252.10" r="1.55" fill="#000" fill-opacity="0.68"/>
<circle cx="638.00" cy="248.00" r="1.55" fill="#000" fill-opacity="0.68"/>
<circle cx="633.20" cy="253.20" r="1.55" fill="#000" fill-opacity="0.68"/>
<circle cx="634.60" cy="254.40" r="1.55" fill="#000" fill-opacity="0.68"/>
<circle cx="627.40" cy="254.90" r="1.55" fill="#000" fill-opacity="0.68"/>
<circle cx="622.40" cy="256.70" r="1.55" fill="#000" fill-opacity="0.68"/>
<circle cx="624.70" cy="257.10" r="1.55" fill="#000" fill-opacity="0.68"/>
<circle cx="625.50" cy="259.00" r="1.55" fill="#000" fill-opacity="0.68"/>
<circle cx="625.90" cy="260.60" r="1.55" fill="#000" fill-opacity="0.68"/>
<circle cx="636.70" cy="257.10" r="1.55" fill="#000" fill-opacity="0.68"/>
<circle cx="636.70" cy="259.00" r="1.55" fill="#000" fill-opacity="0.68"/>
<circle cx="641.00" cy="256.20" r="1.55" fill="#000" fill-opacity="0.68"/>
<circle cx="633.20" cy="261.40" r="1.55" fill="#000" fill-opacity="0.68"/>
<circle cx="638.30" cy="261.40" r="1.55" fill="#000" fill-opacity="0.68"/>
<circle cx="623.80" cy="264.70" r="1.55" fill="#000" fill-opacity="0.68"/>
<circle cx="634.60" cy="264.10" r="1.55" fill="#000" fill-opacity="0.68"/>
<circle cx="640.20" cy="264.70" r="1.55" fill="#000" fill-opacity="0.68"/>
<circle cx="623.10" cy="265.20" r="1.55" fill="#000" fill-opacity="0.68"/>
<circle cx="633.70" cy="261.10" r="1.55" fill="#000" fill-opacity="0.68"/>
<circle cx="641.10" cy="281.60" r="1.55" fill="#000" fill-opacity="0.68"/>
<circle cx="573.53" cy="278.69" r="1.55" fill="#000" fill-opacity="0.68"/>
<circle cx="553.74" cy="265.32" r="1.55" fill="#000" fill-opacity="0.68"/>
<circle cx="570.88" cy="275.41" r="1.55" fill="#000" fill-opacity="0.68"/>
<circle cx="567.23" cy="268.78" r="1.55" fill="#000" fill-opacity="0.68"/>
<circle cx="565.83" cy="273.41" r="1.55" fill="#000" fill-opacity="0.68"/>
<circle cx="565.29" cy="266.45" r="1.55" fill="#000" fill-opacity="0.68"/>
<circle cx="561.97" cy="270.10" r="1.55" fill="#000" fill-opacity="0.68"/>
<circle cx="568.41" cy="279.42" r="1.55" fill="#000" fill-opacity="0.68"/>
<circle cx="573.39" cy="272.43" r="1.55" fill="#000" fill-opacity="0.68"/>
<circle cx="562.29" cy="268.16" r="1.55" fill="#000" fill-opacity="0.68"/>
<circle cx="560.86" cy="277.82" r="1.55" fill="#000" fill-opacity="0.68"/>
<circle cx="564.07" cy="272.69" r="1.55" fill="#000" fill-opacity="0.68"/>
<circle cx="557.69" cy="264.37" r="1.55" fill="#000" fill-opacity="0.68"/>
<circle cx="559.65" cy="266.12" r="1.55" fill="#000" fill-opacity="0.68"/>
<circle cx="563.72" cy="279.48" r="1.55" fill="#000" fill-opacity="0.68"/>
<circle cx="567.34" cy="266.82" r="1.55" fill="#000" fill-opacity="0.68"/>
<circle cx="572.16" cy="276.35" r="1.55" fill="#000" fill-opacity="0.68"/>
<circle cx="568.66" cy="278.05" r="1.55" fill="#000" fill-opacity="0.68"/>
<circle cx="569.28" cy="276.24" r="1.55" fill="#000" fill-opacity="0.68"/>
<circle cx="560.28" cy="279.21" r="1.55" fill="#000" fill-opacity="0.68"/>
<circle cx="573.66" cy="266.50" r="1.55" fill="#000" fill-opacity="0.68"/>
<circle cx="562.65" cy="272.22" r="1.55" fill="#000" fill-opacity="0.68"/>
<circle cx="563.52" cy="276.89" r="1.55" fill="#000" fill-opacity="0.68"/>
<circle cx="572.29" cy="271.15" r="1.55" fill="#000" fill-opacity="0.68"/>
<circle cx="564.99" cy="278.27" r="1.55" fill="#000" fill-opacity="0.68"/>
<circle cx="568.42" cy="271.54" r="1.55" fill="#000" fill-opacity="0.68"/>
<circle cx="557.38" cy="269.03" r="1.55" fill="#000" fill-opacity="0.68"/>
<circle cx="572.47" cy="268.16" r="1.55" fill="#000" fill-opacity="0.68"/>
<circle cx="573.56" cy="274.95" r="1.55" fill="#000" fill-opacity="0.68"/>
<circle cx="566.21" cy="265.17" r="1.55" fill="#000" fill-opacity="0.68"/>
<circle cx="568.89" cy="264.91" r="1.55" fill="#000" fill-opacity="0.68"/>
<circle cx="557.49" cy="277.57" r="1.55" fill="#000" fill-opacity="0.68"/>
<circle cx="554.84" cy="272.10" r="1.55" fill="#000" fill-opacity="0.68"/>
<circle cx="561.80" cy="275.11" r="1.55" fill="#000" fill-opacity="0.68"/>
<circle cx="553.20" cy="269.62" r="1.55" fill="#000" fill-opacity="0.68"/>
<circle cx="556.28" cy="274.43" r="1.55" fill="#000" fill-opacity="0.68"/>
<circle cx="554.32" cy="278.80" r="1.55" fill="#000" fill-opacity="0.68"/>
<circle cx="553.06" cy="275.31" r="1.55" fill="#000" fill-opacity="0.68"/>
<circle cx="552.97" cy="267.96" r="1.55" fill="#000" fill-opacity="0.68"/>
<circle cx="570.39" cy="266.44" r="1.55" fill="#000" fill-opacity="0.68"/>
<circle cx="560.98" cy="264.67" r="1.55" fill="#000" fill-opacity="0.68"/>
<circle cx="566.04" cy="275.51" r="1.55" fill="#000" fill-opacity="0.68"/>
<circle cx="554.99" cy="269.23" r="1.55" fill="#000" fill-opacity="0.68"/>
<circle cx="553.18" cy="270.95" r="1.55" fill="#000" fill-opacity="0.68"/>
<circle cx="571.74" cy="265.98" r="1.55" fill="#000" fill-opacity="0.68"/>
<circle cx="565.37" cy="270.09" r="1.55" fill="#000" fill-opacity="0.68"/>
<circle cx="563.83" cy="266.23" r="1.55" fill="#000" fill-opacity="0.68"/>
<circle cx="552.90" cy="272.65" r="1.55" fill="#000" fill-opacity="0.68"/>
<circle cx="555.59" cy="264.88" r="1.55" fill="#000" fill-opacity="0.68"/>
<circle cx="554.61" cy="273.84" r="1.55" fill="#000" fill-opacity="0.68"/>
<circle cx="557.61" cy="270.89" r="1.55" fill="#000" fill-opacity="0.68"/>
<circle cx="558.02" cy="273.16" r="1.55" fill="#000" fill-opacity="0.68"/>
<circle cx="565.98" cy="283.10" r="1.55" fill="#000" fill-opacity="0.68"/>
<circle cx="567.69" cy="280.65" r="1.55" fill="#000" fill-opacity="0.68"/>
<circle cx="561.96" cy="281.87" r="1.55" fill="#000" fill-opacity="0.68"/>
<circle cx="561.67" cy="280.00" r="1.55" fill="#000" fill-opacity="0.68"/>
<circle cx="555.50" cy="280.32" r="1.55" fill="#000" fill-opacity="0.68"/>
<circle cx="558.13" cy="280.48" r="1.55" fill="#000" fill-opacity="0.68"/>
<circle cx="563.91" cy="281.59" r="1.55" fill="#000" fill-opacity="0.68"/>
<circle cx="559.69" cy="282.39" r="1.55" fill="#000" fill-opacity="0.68"/>
<circle cx="557.75" cy="283.58" r="1.55" fill="#000" fill-opacity="0.68"/>
<circle cx="572.76" cy="282.78" r="1.55" fill="#000" fill-opacity="0.68"/>
<circle cx="565.12" cy="279.73" r="1.55" fill="#000" fill-opacity="0.68"/>
<circle cx="569.55" cy="281.15" r="1.55" fill="#000" fill-opacity="0.68"/>
<circle cx="563.88" cy="283.65" r="1.55" fill="#000" fill-opacity="0.68"/>
<circle cx="573.17" cy="281.18" r="1.55" fill="#000" fill-opacity="0.68"/>
<circle cx="553.88" cy="282.58" r="1.55" fill="#000" fill-opacity="0.68"/>
<circle cx="570.31" cy="282.53" r="1.55" fill="#000" fill-opacity="0.68"/>
<circle cx="556.24" cy="286.03" r="1.55" fill="#000" fill-opacity="0.68"/>
<circle cx="562.16" cy="286.19" r="1.55" fill="#000" fill-opacity="0.68"/>
<circle cx="559.12" cy="286.65" r="1.55" fill="#000" fill-opacity="0.68"/>
<circle cx="561.59" cy="288.21" r="1.55" fill="#000" fill-opacity="0.68"/>
<circle cx="557.15" cy="287.40" r="1.55" fill="#000" fill-opacity="0.68"/>
<circle cx="567.30" cy="285.78" r="1.55" fill="#000" fill-opacity="0.68"/>
<circle cx="565.61" cy="288.32" r="1.55" fill="#000" fill-opacity="0.68"/>
<circle cx="563.89" cy="286.15" r="1.55" fill="#000" fill-opacity="0.68"/>
<circle cx="570.32" cy="287.62" r="1.55" fill="#000" fill-opacity="0.68"/>
<circle cx="560.45" cy="285.04" r="1.55" fill="#000" fill-opacity="0.68"/>
<circle cx="568.27" cy="284.43" r="1.55" fill="#000" fill-opacity="0.68"/>
<circle cx="565.72" cy="284.58" r="1.55" fill="#000" fill-opacity="0.68"/>
<circle cx="626.87" cy="265.24" r="1.55" fill="#000" fill-opacity="0.68"/>
<circle cx="634.92" cy="271.54" r="1.55" fill="#000" fill-opacity="0.68"/>
<circle cx="629.94" cy="269.34" r="1.55" fill="#000" fill-opacity="0.68"/>
<circle cx="622.91" cy="269.57" r="1.55" fill="#000" fill-opacity="0.68"/>
<circle cx="640.92" cy="272.58" r="1.55" fill="#000" fill-opacity="0.68"/>
<circle cx="635.88" cy="265.60" r="1.55" fill="#000" fill-opacity="0.68"/>
<circle cx="639.74" cy="268.45" r="1.55" fill="#000" fill-opacity="0.68"/>
<circle cx="635.62" cy="267.66" r="1.55" fill="#000" fill-opacity="0.68"/>
<circle cx="632.83" cy="264.03" r="1.55" fill="#000" fill-opacity="0.68"/>
<circle cx="629.99" cy="262.41" r="1.55" fill="#000" fill-opacity="0.68"/>
<circle cx="633.30" cy="274.35" r="1.55" fill="#000" fill-opacity="0.68"/>
<circle cx="624.38" cy="269.14" r="1.55" fill="#000" fill-opacity="0.68"/>
<circle cx="630.87" cy="267.67" r="1.55" fill="#000" fill-opacity="0.68"/>
<circle cx="635.77" cy="275.11" r="1.55" fill="#000" fill-opacity="0.68"/>
<circle cx="641.18" cy="266.63" r="1.55" fill="#000" fill-opacity="0.68"/>
<circle cx="636.53" cy="271.22" r="1.55" fill="#000" fill-opacity="0.68"/>
<circle cx="636.87" cy="273.93" r="1.55" fill="#000" fill-opacity="0.68"/>
<circle cx="625.34" cy="270.70" r="1.55" fill="#000" fill-opacity="0.68"/>
<circle cx="629.16" cy="271.34" r="1.55" fill="#000" fill-opacity="0.68"/>
<circle cx="641.51" cy="270.89" r="1.55" fill="#000" fill-opacity="0.68"/>
<circle cx="620.75" cy="268.50" r="1.55" fill="#000" fill-opacity="0.68"/>
<circle cx="634.48" cy="273.42" r="1.55" fill="#000" fill-opacity="0.68"/>
<circle cx="620.87" cy="275.21" r="1.55" fill="#000" fill-opacity="0.68"/>
<circle cx="639.96" cy="274.39" r="1.55" fill="#000" fill-opacity="0.68"/>
<circle cx="622.66" cy="273.42" r="1.55" fill="#000" fill-opacity="0.68"/>
<circle cx="636.99" cy="264.79" r="1.55" fill="#000" fill-opacity="0.68"/>
<circle cx="624.62" cy="273.26" r="1.55" fill="#000" fill-opacity="0.68"/>
<circle cx="629.84" cy="265.55" r="1.55" fill="#000" fill-opacity="0.68"/>
<circle cx="632.67" cy="268.54" r="1.55" fill="#000" fill-opacity="0.68"/>
<circle cx="624.91" cy="275.53" r="1.55" fill="#000" fill-opacity="0.68"/>
<circle cx="622.07" cy="262.04" r="1.55" fill="#000" fill-opacity="0.68"/>
<circle cx="630.94" cy="273.72" r="1.55" fill="#000" fill-opacity="0.68"/>
<circle cx="630.93" cy="271.45" r="1.55" fill="#000" fill-opacity="0.68"/>
<circle cx="631.31" cy="262.39" r="1.55" fill="#000" fill-opacity="0.68"/>
<circle cx="637.36" cy="267.66" r="1.55" fill="#000" fill-opacity="0.68"/>
<circle cx="639.08" cy="263.89" r="1.55" fill="#000" fill-opacity="0.68"/>
<circle cx="624.00" cy="267.34" r="1.55" fill="#000" fill-opacity="0.68"/>
<circle cx="620.72" cy="269.80" r="1.55" fill="#000" fill-opacity="0.68"/>
<circle cx="641.29" cy="278.20" r="1.55" fill="#000" fill-opacity="0.68"/>
<circle cx="632.07" cy="278.29" r="1.55" fill="#000" fill-opacity="0.68"/>
<circle cx="630.02" cy="281.22" r="1.55" fill="#000" fill-opacity="0.68"/>
<circle cx="627.13" cy="279.89" r="1.55" fill="#000" fill-opacity="0.68"/>
<circle cx="630.90" cy="279.23" r="1.55" fill="#000" fill-opacity="0.68"/>
<circle cx="640.17" cy="276.46" r="1.55" fill="#000" fill-opacity="0.68"/>
<circle cx="638.22" cy="277.83" r="1.55" fill="#000" fill-opacity="0.68"/>
<circle cx="634.40" cy="280.78" r="1.55" fill="#000" fill-opacity="0.68"/>
<circle cx="634.55" cy="278.36" r="1.55" fill="#000" fill-opacity="0.68"/>
<circle cx="638.58" cy="276.56" r="1.55" fill="#000" fill-opacity="0.68"/>
<circle cx="631.91" cy="281.11" r="1.55" fill="#000" fill-opacity="0.68"/>
<circle cx="637.65" cy="279.77" r="1.55" fill="#000" fill-opacity="0.68"/>
<circle cx="627.12" cy="277.40" r="1.55" fill="#000" fill-opacity="0.68"/>
<circle cx="630.34" cy="277.39" r="1.55" fill="#000" fill-opacity="0.68"/>
<circle cx="626.47" cy="281.75" r="1.55" fill="#000" fill-opacity="0.68"/>
<circle cx="622.91" cy="280.91" r="1.55" fill="#000" fill-opacity="0.68"/>
<circle cx="628.65" cy="278.19" r="1.55" fill="#000" fill-opacity="0.68"/>
<circle cx="639.73" cy="281.53" r="1.55" fill="#000" fill-opacity="0.68"/>
<text transform="translate(42.80,322.20)" font-size="10.330" text-anchor="start" fill="#000" stroke="#000" stroke-width="0.22" stroke-opacity="0.6">Much−Later−Ill vs D85 Not−Ill</text>
<text transform="translate(116.95,334.80)" font-size="8.250" text-anchor="middle" fill="#000" stroke="#000" stroke-width="0.22" stroke-opacity="0.6">7 to 12 months (FDR p = 0.594)</text>
<text transform="translate(268.25,334.80)" font-size="8.250" text-anchor="middle" fill="#000" stroke="#000" stroke-width="0.22" stroke-opacity="0.6">1 to 2 years (FDR p = 0.004)</text>
<text transform="translate(419.45,334.80)" font-size="8.250" text-anchor="middle" fill="#000" stroke="#000" stroke-width="0.22" stroke-opacity="0.6">plus 2 years (FDR p = 0.594)</text>
<line x1="42.60" y1="337.30" x2="42.60" y2="431.10" stroke="#5a5a5a" stroke-width="1.0"/>
<line x1="42.60" y1="338.98" x2="45.60" y2="338.98" stroke="#5a5a5a" stroke-width="1.0"/>
<text transform="translate(38.40,342.38) scale(0.8696,1)" font-size="8.625" text-anchor="end" fill="#464646" stroke="#464646" stroke-width="0.22" stroke-opacity="0.6">0.3</text>
<line x1="42.60" y1="351.32" x2="45.60" y2="351.32" stroke="#5a5a5a" stroke-width="1.0"/>
<text transform="translate(38.40,354.72) scale(0.8696,1)" font-size="8.625" text-anchor="end" fill="#464646" stroke="#464646" stroke-width="0.22" stroke-opacity="0.6">0.2</text>
<line x1="42.60" y1="363.66" x2="45.60" y2="363.66" stroke="#5a5a5a" stroke-width="1.0"/>
<text transform="translate(38.40,367.06) scale(0.8696,1)" font-size="8.625" text-anchor="end" fill="#464646" stroke="#464646" stroke-width="0.22" stroke-opacity="0.6">0.1</text>
<line x1="42.60" y1="376.00" x2="45.60" y2="376.00" stroke="#5a5a5a" stroke-width="1.0"/>
<text transform="translate(38.40,379.40) scale(0.8696,1)" font-size="8.625" text-anchor="end" fill="#464646" stroke="#464646" stroke-width="0.22" stroke-opacity="0.6">0.0</text>
<line x1="42.60" y1="388.34" x2="45.60" y2="388.34" stroke="#5a5a5a" stroke-width="1.0"/>
<text transform="translate(38.40,391.74) scale(0.8696,1)" font-size="8.625" text-anchor="end" fill="#464646" stroke="#464646" stroke-width="0.22" stroke-opacity="0.6">−0.1</text>
<line x1="42.60" y1="400.68" x2="45.60" y2="400.68" stroke="#5a5a5a" stroke-width="1.0"/>
<text transform="translate(38.40,404.08) scale(0.8696,1)" font-size="8.625" text-anchor="end" fill="#464646" stroke="#464646" stroke-width="0.22" stroke-opacity="0.6">−0.2</text>
<line x1="42.60" y1="413.02" x2="45.60" y2="413.02" stroke="#5a5a5a" stroke-width="1.0"/>
<text transform="translate(38.40,416.42) scale(0.8696,1)" font-size="8.625" text-anchor="end" fill="#464646" stroke="#464646" stroke-width="0.22" stroke-opacity="0.6">−0.3</text>
<line x1="42.60" y1="425.36" x2="45.60" y2="425.36" stroke="#5a5a5a" stroke-width="1.0"/>
<text transform="translate(38.40,428.76) scale(0.8696,1)" font-size="8.625" text-anchor="end" fill="#464646" stroke="#464646" stroke-width="0.22" stroke-opacity="0.6">−0.4</text>
<line x1="42.10" y1="430.60" x2="190.60" y2="430.60" stroke="#c9c9c9" stroke-width="1.1"/>
<line x1="49.20" y1="430.10" x2="49.20" y2="428.10" stroke="#5a5a5a" stroke-width="0.8"/>
<text transform="translate(49.20,438.60) scale(0.8696,1)" font-size="8.625" text-anchor="middle" fill="#464646" stroke="#464646" stroke-width="0.22" stroke-opacity="0.6">−0.2</text>
<line x1="78.40" y1="430.10" x2="78.40" y2="428.10" stroke="#5a5a5a" stroke-width="0.8"/>
<text transform="translate(78.40,438.60) scale(0.8696,1)" font-size="8.625" text-anchor="middle" fill="#464646" stroke="#464646" stroke-width="0.22" stroke-opacity="0.6">0.0</text>
<line x1="107.60" y1="430.10" x2="107.60" y2="428.10" stroke="#5a5a5a" stroke-width="0.8"/>
<text transform="translate(107.60,438.60) scale(0.8696,1)" font-size="8.625" text-anchor="middle" fill="#464646" stroke="#464646" stroke-width="0.22" stroke-opacity="0.6">0.2</text>
<line x1="136.80" y1="430.10" x2="136.80" y2="428.10" stroke="#5a5a5a" stroke-width="0.8"/>
<text transform="translate(136.80,438.60) scale(0.8696,1)" font-size="8.625" text-anchor="middle" fill="#464646" stroke="#464646" stroke-width="0.22" stroke-opacity="0.6">0.4</text>
<line x1="166.00" y1="430.10" x2="166.00" y2="428.10" stroke="#5a5a5a" stroke-width="0.8"/>
<text transform="translate(166.00,438.60) scale(0.8696,1)" font-size="8.625" text-anchor="middle" fill="#464646" stroke="#464646" stroke-width="0.22" stroke-opacity="0.6">0.6</text>
<line x1="193.40" y1="430.60" x2="341.90" y2="430.60" stroke="#c9c9c9" stroke-width="1.1"/>
<line x1="200.30" y1="430.10" x2="200.30" y2="428.10" stroke="#5a5a5a" stroke-width="0.8"/>
<text transform="translate(200.30,438.60) scale(0.8696,1)" font-size="8.625" text-anchor="middle" fill="#464646" stroke="#464646" stroke-width="0.22" stroke-opacity="0.6">−0.2</text>
<line x1="229.50" y1="430.10" x2="229.50" y2="428.10" stroke="#5a5a5a" stroke-width="0.8"/>
<text transform="translate(229.50,438.60) scale(0.8696,1)" font-size="8.625" text-anchor="middle" fill="#464646" stroke="#464646" stroke-width="0.22" stroke-opacity="0.6">0.0</text>
<line x1="258.70" y1="430.10" x2="258.70" y2="428.10" stroke="#5a5a5a" stroke-width="0.8"/>
<text transform="translate(258.70,438.60) scale(0.8696,1)" font-size="8.625" text-anchor="middle" fill="#464646" stroke="#464646" stroke-width="0.22" stroke-opacity="0.6">0.2</text>
<line x1="287.90" y1="430.10" x2="287.90" y2="428.10" stroke="#5a5a5a" stroke-width="0.8"/>
<text transform="translate(287.90,438.60) scale(0.8696,1)" font-size="8.625" text-anchor="middle" fill="#464646" stroke="#464646" stroke-width="0.22" stroke-opacity="0.6">0.4</text>
<line x1="317.10" y1="430.10" x2="317.10" y2="428.10" stroke="#5a5a5a" stroke-width="0.8"/>
<text transform="translate(317.10,438.60) scale(0.8696,1)" font-size="8.625" text-anchor="middle" fill="#464646" stroke="#464646" stroke-width="0.22" stroke-opacity="0.6">0.6</text>
<line x1="344.60" y1="430.60" x2="493.10" y2="430.60" stroke="#c9c9c9" stroke-width="1.1"/>
<line x1="351.30" y1="430.10" x2="351.30" y2="428.10" stroke="#5a5a5a" stroke-width="0.8"/>
<text transform="translate(351.30,438.60) scale(0.8696,1)" font-size="8.625" text-anchor="middle" fill="#464646" stroke="#464646" stroke-width="0.22" stroke-opacity="0.6">−0.2</text>
<line x1="380.50" y1="430.10" x2="380.50" y2="428.10" stroke="#5a5a5a" stroke-width="0.8"/>
<text transform="translate(380.50,438.60) scale(0.8696,1)" font-size="8.625" text-anchor="middle" fill="#464646" stroke="#464646" stroke-width="0.22" stroke-opacity="0.6">0.0</text>
<line x1="409.70" y1="430.10" x2="409.70" y2="428.10" stroke="#5a5a5a" stroke-width="0.8"/>
<text transform="translate(409.70,438.60) scale(0.8696,1)" font-size="8.625" text-anchor="middle" fill="#464646" stroke="#464646" stroke-width="0.22" stroke-opacity="0.6">0.2</text>
<line x1="438.90" y1="430.10" x2="438.90" y2="428.10" stroke="#5a5a5a" stroke-width="0.8"/>
<text transform="translate(438.90,438.60) scale(0.8696,1)" font-size="8.625" text-anchor="middle" fill="#464646" stroke="#464646" stroke-width="0.22" stroke-opacity="0.6">0.4</text>
<line x1="468.10" y1="430.10" x2="468.10" y2="428.10" stroke="#5a5a5a" stroke-width="0.8"/>
<text transform="translate(468.10,438.60) scale(0.8696,1)" font-size="8.625" text-anchor="middle" fill="#464646" stroke="#464646" stroke-width="0.22" stroke-opacity="0.6">0.6</text>
<text transform="translate(267.50,449.80) scale(0.9091,1)" font-size="10.780" text-anchor="middle" fill="#000" stroke="#000" stroke-width="0.22" stroke-opacity="0.6">PCoA1 (26.9%)</text>
<text transform="translate(21.20,383.95) rotate(-90) scale(0.9091,1)" font-size="10.890" text-anchor="middle" fill="#000" stroke="#000" stroke-width="0.22" stroke-opacity="0.6">PCoA2 (13.7%)</text>
<rect x="92.20" y="341.80" width="3.6" height="3.6" fill="#4a83c4" fill-opacity="0.62" stroke="#3a3a3a" stroke-width="0.5" stroke-opacity="0.55"/>
<rect x="82.00" y="347.40" width="3.6" height="3.6" fill="#4a83c4" fill-opacity="0.62" stroke="#3a3a3a" stroke-width="0.5" stroke-opacity="0.55"/>
<rect x="82.00" y="344.00" width="3.6" height="3.6" fill="#4dae4a" fill-opacity="0.62" stroke="#3a3a3a" stroke-width="0.5" stroke-opacity="0.55"/>
<rect x="88.90" y="351.80" width="3.6" height="3.6" fill="#4dae4a" fill-opacity="0.62" stroke="#3a3a3a" stroke-width="0.5" stroke-opacity="0.55"/>
<rect x="61.20" y="353.30" width="3.6" height="3.6" fill="#4a83c4" fill-opacity="0.62" stroke="#3a3a3a" stroke-width="0.5" stroke-opacity="0.55"/>
<rect x="94.20" y="358.10" width="3.6" height="3.6" fill="#4a83c4" fill-opacity="0.62" stroke="#3a3a3a" stroke-width="0.5" stroke-opacity="0.55"/>
<rect x="111.00" y="357.80" width="3.6" height="3.6" fill="#4a83c4" fill-opacity="0.62" stroke="#3a3a3a" stroke-width="0.5" stroke-opacity="0.55"/>
<rect x="65.10" y="363.10" width="3.6" height="3.6" fill="#4a83c4" fill-opacity="0.62" stroke="#3a3a3a" stroke-width="0.5" stroke-opacity="0.55"/>
<rect x="59.00" y="364.40" width="3.6" height="3.6" fill="#4a83c4" fill-opacity="0.62" stroke="#3a3a3a" stroke-width="0.5" stroke-opacity="0.55"/>
<rect x="106.90" y="363.30" width="3.6" height="3.6" fill="#4a83c4" fill-opacity="0.62" stroke="#3a3a3a" stroke-width="0.5" stroke-opacity="0.55"/>
<rect x="81.10" y="369.90" width="3.6" height="3.6" fill="#4a83c4" fill-opacity="0.62" stroke="#3a3a3a" stroke-width="0.5" stroke-opacity="0.55"/>
<rect x="81.10" y="366.40" width="3.6" height="3.6" fill="#4dae4a" fill-opacity="0.62" stroke="#3a3a3a" stroke-width="0.5" stroke-opacity="0.55"/>
<rect x="88.10" y="373.90" width="3.6" height="3.6" fill="#4a83c4" fill-opacity="0.62" stroke="#3a3a3a" stroke-width="0.5" stroke-opacity="0.55"/>
<rect x="69.20" y="380.20" width="3.6" height="3.6" fill="#4a83c4" fill-opacity="0.62" stroke="#3a3a3a" stroke-width="0.5" stroke-opacity="0.55"/>
<rect x="120.40" y="364.00" width="3.6" height="3.6" fill="#4dae4a" fill-opacity="0.62" stroke="#3a3a3a" stroke-width="0.5" stroke-opacity="0.55"/>
<rect x="158.90" y="362.80" width="3.6" height="3.6" fill="#4dae4a" fill-opacity="0.62" stroke="#3a3a3a" stroke-width="0.5" stroke-opacity="0.55"/>
<rect x="154.40" y="368.00" width="3.6" height="3.6" fill="#4a83c4" fill-opacity="0.62" stroke="#3a3a3a" stroke-width="0.5" stroke-opacity="0.55"/>
<rect x="179.40" y="363.30" width="3.6" height="3.6" fill="#4a83c4" fill-opacity="0.62" stroke="#3a3a3a" stroke-width="0.5" stroke-opacity="0.55"/>
<rect x="182.10" y="368.00" width="3.6" height="3.6" fill="#4a83c4" fill-opacity="0.62" stroke="#3a3a3a" stroke-width="0.5" stroke-opacity="0.55"/>
<rect x="170.50" y="374.70" width="3.6" height="3.6" fill="#4dae4a" fill-opacity="0.62" stroke="#3a3a3a" stroke-width="0.5" stroke-opacity="0.55"/>
<circle cx="232.60" cy="340.80" r="2.0" fill="#4a83c4" fill-opacity="0.62" stroke="#3a3a3a" stroke-width="0.5" stroke-opacity="0.55"/>
<circle cx="216.80" cy="343.90" r="2.0" fill="#4dae4a" fill-opacity="0.62" stroke="#3a3a3a" stroke-width="0.5" stroke-opacity="0.55"/>
<circle cx="222.00" cy="346.20" r="2.0" fill="#4dae4a" fill-opacity="0.62" stroke="#3a3a3a" stroke-width="0.5" stroke-opacity="0.55"/>
<circle cx="235.20" cy="345.10" r="2.0" fill="#4dae4a" fill-opacity="0.62" stroke="#3a3a3a" stroke-width="0.5" stroke-opacity="0.55"/>
<circle cx="218.50" cy="349.90" r="2.0" fill="#4dae4a" fill-opacity="0.62" stroke="#3a3a3a" stroke-width="0.5" stroke-opacity="0.55"/>
<circle cx="223.20" cy="350.90" r="2.0" fill="#4dae4a" fill-opacity="0.62" stroke="#3a3a3a" stroke-width="0.5" stroke-opacity="0.55"/>
<circle cx="227.20" cy="351.30" r="2.0" fill="#4a83c4" fill-opacity="0.62" stroke="#3a3a3a" stroke-width="0.5" stroke-opacity="0.55"/>
<circle cx="231.10" cy="350.90" r="2.0" fill="#4dae4a" fill-opacity="0.62" stroke="#3a3a3a" stroke-width="0.5" stroke-opacity="0.55"/>
<circle cx="235.00" cy="349.60" r="2.0" fill="#4dae4a" fill-opacity="0.62" stroke="#3a3a3a" stroke-width="0.5" stroke-opacity="0.55"/>
<circle cx="210.60" cy="353.20" r="2.0" fill="#4a83c4" fill-opacity="0.62" stroke="#3a3a3a" stroke-width="0.5" stroke-opacity="0.55"/>
<circle cx="211.60" cy="356.50" r="2.0" fill="#4a83c4" fill-opacity="0.62" stroke="#3a3a3a" stroke-width="0.5" stroke-opacity="0.55"/>
<circle cx="219.50" cy="355.50" r="2.0" fill="#4dae4a" fill-opacity="0.62" stroke="#3a3a3a" stroke-width="0.5" stroke-opacity="0.55"/>
<circle cx="231.50" cy="356.30" r="2.0" fill="#4a83c4" fill-opacity="0.62" stroke="#3a3a3a" stroke-width="0.5" stroke-opacity="0.55"/>
<circle cx="207.30" cy="359.80" r="2.0" fill="#4a83c4" fill-opacity="0.62" stroke="#3a3a3a" stroke-width="0.5" stroke-opacity="0.55"/>
<circle cx="218.90" cy="359.40" r="2.0" fill="#4dae4a" fill-opacity="0.62" stroke="#3a3a3a" stroke-width="0.5" stroke-opacity="0.55"/>
<circle cx="227.40" cy="362.90" r="2.0" fill="#4a83c4" fill-opacity="0.62" stroke="#3a3a3a" stroke-width="0.5" stroke-opacity="0.55"/>
<circle cx="218.20" cy="365.20" r="2.0" fill="#4dae4a" fill-opacity="0.62" stroke="#3a3a3a" stroke-width="0.5" stroke-opacity="0.55"/>
<circle cx="239.00" cy="365.00" r="2.0" fill="#4dae4a" fill-opacity="0.62" stroke="#3a3a3a" stroke-width="0.5" stroke-opacity="0.55"/>
<circle cx="208.50" cy="369.40" r="2.0" fill="#4a83c4" fill-opacity="0.62" stroke="#3a3a3a" stroke-width="0.5" stroke-opacity="0.55"/>
<circle cx="213.60" cy="368.30" r="2.0" fill="#4a83c4" fill-opacity="0.62" stroke="#3a3a3a" stroke-width="0.5" stroke-opacity="0.55"/>
<circle cx="218.90" cy="368.70" r="2.0" fill="#4a83c4" fill-opacity="0.62" stroke="#3a3a3a" stroke-width="0.5" stroke-opacity="0.55"/>
<circle cx="230.00" cy="368.70" r="2.0" fill="#4a83c4" fill-opacity="0.62" stroke="#3a3a3a" stroke-width="0.5" stroke-opacity="0.55"/>
<circle cx="228.60" cy="372.40" r="2.0" fill="#4dae4a" fill-opacity="0.62" stroke="#3a3a3a" stroke-width="0.5" stroke-opacity="0.55"/>
<circle cx="216.10" cy="372.10" r="2.0" fill="#4a83c4" fill-opacity="0.62" stroke="#3a3a3a" stroke-width="0.5" stroke-opacity="0.55"/>
<circle cx="210.80" cy="372.70" r="2.0" fill="#4a83c4" fill-opacity="0.62" stroke="#3a3a3a" stroke-width="0.5" stroke-opacity="0.55"/>
<circle cx="208.90" cy="375.40" r="2.0" fill="#4a83c4" fill-opacity="0.62" stroke="#3a3a3a" stroke-width="0.5" stroke-opacity="0.55"/>
<circle cx="208.50" cy="374.70" r="2.0" fill="#4a83c4" fill-opacity="0.62" stroke="#3a3a3a" stroke-width="0.5" stroke-opacity="0.55"/>
<circle cx="216.10" cy="375.80" r="2.0" fill="#4a83c4" fill-opacity="0.62" stroke="#3a3a3a" stroke-width="0.5" stroke-opacity="0.55"/>
<circle cx="216.10" cy="378.50" r="2.0" fill="#4a83c4" fill-opacity="0.62" stroke="#3a3a3a" stroke-width="0.5" stroke-opacity="0.55"/>
<circle cx="222.00" cy="377.00" r="2.0" fill="#4a83c4" fill-opacity="0.62" stroke="#3a3a3a" stroke-width="0.5" stroke-opacity="0.55"/>
<circle cx="242.10" cy="371.20" r="2.0" fill="#4a83c4" fill-opacity="0.62" stroke="#3a3a3a" stroke-width="0.5" stroke-opacity="0.55"/>
<circle cx="205.40" cy="382.40" r="2.0" fill="#4a83c4" fill-opacity="0.62" stroke="#3a3a3a" stroke-width="0.5" stroke-opacity="0.55"/>
<circle cx="209.90" cy="381.60" r="2.0" fill="#4a83c4" fill-opacity="0.62" stroke="#3a3a3a" stroke-width="0.5" stroke-opacity="0.55"/>
<circle cx="219.70" cy="382.40" r="2.0" fill="#4a83c4" fill-opacity="0.62" stroke="#3a3a3a" stroke-width="0.5" stroke-opacity="0.55"/>
<circle cx="221.50" cy="382.00" r="2.0" fill="#4dae4a" fill-opacity="0.62" stroke="#3a3a3a" stroke-width="0.5" stroke-opacity="0.55"/>
<circle cx="225.50" cy="381.40" r="2.0" fill="#4a83c4" fill-opacity="0.62" stroke="#3a3a3a" stroke-width="0.5" stroke-opacity="0.55"/>
<circle cx="222.80" cy="382.80" r="2.0" fill="#4a83c4" fill-opacity="0.62" stroke="#3a3a3a" stroke-width="0.5" stroke-opacity="0.55"/>
<circle cx="215.80" cy="385.50" r="2.0" fill="#4a83c4" fill-opacity="0.62" stroke="#3a3a3a" stroke-width="0.5" stroke-opacity="0.55"/>
<circle cx="214.70" cy="387.10" r="2.0" fill="#4a83c4" fill-opacity="0.62" stroke="#3a3a3a" stroke-width="0.5" stroke-opacity="0.55"/>
<circle cx="206.50" cy="386.30" r="2.0" fill="#4a83c4" fill-opacity="0.62" stroke="#3a3a3a" stroke-width="0.5" stroke-opacity="0.55"/>
<circle cx="224.00" cy="386.30" r="2.0" fill="#4a83c4" fill-opacity="0.62" stroke="#3a3a3a" stroke-width="0.5" stroke-opacity="0.55"/>
<circle cx="223.60" cy="388.20" r="2.0" fill="#4a83c4" fill-opacity="0.62" stroke="#3a3a3a" stroke-width="0.5" stroke-opacity="0.55"/>
<circle cx="201.50" cy="388.80" r="2.0" fill="#4a83c4" fill-opacity="0.62" stroke="#3a3a3a" stroke-width="0.5" stroke-opacity="0.55"/>
<circle cx="208.10" cy="391.70" r="2.0" fill="#4dae4a" fill-opacity="0.62" stroke="#3a3a3a" stroke-width="0.5" stroke-opacity="0.55"/>
<circle cx="226.90" cy="391.70" r="2.0" fill="#4a83c4" fill-opacity="0.62" stroke="#3a3a3a" stroke-width="0.5" stroke-opacity="0.55"/>
<circle cx="242.00" cy="391.80" r="2.0" fill="#4a83c4" fill-opacity="0.62" stroke="#3a3a3a" stroke-width="0.5" stroke-opacity="0.55"/>
<circle cx="215.10" cy="394.00" r="2.0" fill="#4a83c4" fill-opacity="0.62" stroke="#3a3a3a" stroke-width="0.5" stroke-opacity="0.55"/>
<circle cx="216.60" cy="396.00" r="2.0" fill="#4a83c4" fill-opacity="0.62" stroke="#3a3a3a" stroke-width="0.5" stroke-opacity="0.55"/>
<circle cx="230.60" cy="401.10" r="2.0" fill="#4a83c4" fill-opacity="0.62" stroke="#3a3a3a" stroke-width="0.5" stroke-opacity="0.55"/>
<circle cx="215.70" cy="406.70" r="2.0" fill="#4a83c4" fill-opacity="0.62" stroke="#3a3a3a" stroke-width="0.5" stroke-opacity="0.55"/>
<circle cx="226.00" cy="411.40" r="2.0" fill="#4a83c4" fill-opacity="0.62" stroke="#3a3a3a" stroke-width="0.5" stroke-opacity="0.55"/>
<circle cx="269.90" cy="353.60" r="2.0" fill="#4dae4a" fill-opacity="0.62" stroke="#3a3a3a" stroke-width="0.5" stroke-opacity="0.55"/>
<circle cx="252.20" cy="358.20" r="2.0" fill="#4a83c4" fill-opacity="0.62" stroke="#3a3a3a" stroke-width="0.5" stroke-opacity="0.55"/>
<circle cx="252.70" cy="358.80" r="2.0" fill="#4a83c4" fill-opacity="0.62" stroke="#3a3a3a" stroke-width="0.5" stroke-opacity="0.55"/>
<circle cx="254.40" cy="363.20" r="2.0" fill="#4dae4a" fill-opacity="0.62" stroke="#3a3a3a" stroke-width="0.5" stroke-opacity="0.55"/>
<circle cx="283.40" cy="365.80" r="2.0" fill="#4dae4a" fill-opacity="0.62" stroke="#3a3a3a" stroke-width="0.5" stroke-opacity="0.55"/>
<circle cx="252.60" cy="369.10" r="2.0" fill="#4a83c4" fill-opacity="0.62" stroke="#3a3a3a" stroke-width="0.5" stroke-opacity="0.55"/>
<circle cx="274.00" cy="373.50" r="2.0" fill="#4a83c4" fill-opacity="0.62" stroke="#3a3a3a" stroke-width="0.5" stroke-opacity="0.55"/>
<circle cx="253.00" cy="385.80" r="2.0" fill="#4a83c4" fill-opacity="0.62" stroke="#3a3a3a" stroke-width="0.5" stroke-opacity="0.55"/>
<circle cx="260.20" cy="385.80" r="2.0" fill="#4dae4a" fill-opacity="0.62" stroke="#3a3a3a" stroke-width="0.5" stroke-opacity="0.55"/>
<circle cx="276.50" cy="409.30" r="2.0" fill="#4a83c4" fill-opacity="0.62" stroke="#3a3a3a" stroke-width="0.5" stroke-opacity="0.55"/>
<circle cx="305.10" cy="367.10" r="2.0" fill="#4a83c4" fill-opacity="0.62" stroke="#3a3a3a" stroke-width="0.5" stroke-opacity="0.55"/>
<circle cx="321.30" cy="362.80" r="2.0" fill="#4dae4a" fill-opacity="0.62" stroke="#3a3a3a" stroke-width="0.5" stroke-opacity="0.55"/>
<circle cx="318.90" cy="368.90" r="2.0" fill="#4dae4a" fill-opacity="0.62" stroke="#3a3a3a" stroke-width="0.5" stroke-opacity="0.55"/>
<circle cx="305.70" cy="392.60" r="2.0" fill="#4dae4a" fill-opacity="0.62" stroke="#3a3a3a" stroke-width="0.5" stroke-opacity="0.55"/>
<circle cx="304.70" cy="394.00" r="2.0" fill="#4dae4a" fill-opacity="0.62" stroke="#3a3a3a" stroke-width="0.5" stroke-opacity="0.55"/>
<path d="M368.90 365.88L371.40 370.28L366.40 370.28Z" fill="#4a83c4" fill-opacity="0.62" stroke="#3a3a3a" stroke-width="0.5" stroke-opacity="0.55"/>
<path d="M368.50 376.78L371.00 381.18L366.00 381.18Z" fill="#4dae4a" fill-opacity="0.62" stroke="#3a3a3a" stroke-width="0.5" stroke-opacity="0.55"/>
<path d="M355.58 371.47L358.08 375.87L353.08 375.87Z" fill="#4dae4a" fill-opacity="0.62" stroke="#3a3a3a" stroke-width="0.5" stroke-opacity="0.55"/>
<path d="M367.65 377.61L370.15 382.01L365.15 382.01Z" fill="#4dae4a" fill-opacity="0.62" stroke="#3a3a3a" stroke-width="0.5" stroke-opacity="0.55"/>
<path d="M360.56 361.42L363.06 365.82L358.06 365.82Z" fill="#4dae4a" fill-opacity="0.62" stroke="#3a3a3a" stroke-width="0.5" stroke-opacity="0.55"/>
<path d="M362.87 376.45L365.37 380.85L360.37 380.85Z" fill="#4a83c4" fill-opacity="0.62" stroke="#3a3a3a" stroke-width="0.5" stroke-opacity="0.55"/>
<path d="M367.55 390.96L370.05 395.36L365.05 395.36Z" fill="#4a83c4" fill-opacity="0.62" stroke="#3a3a3a" stroke-width="0.5" stroke-opacity="0.55"/>
<path d="M361.69 371.76L364.19 376.16L359.19 376.16Z" fill="#4a83c4" fill-opacity="0.62" stroke="#3a3a3a" stroke-width="0.5" stroke-opacity="0.55"/>
<path d="M369.67 364.87L372.17 369.27L367.17 369.27Z" fill="#4a83c4" fill-opacity="0.62" stroke="#3a3a3a" stroke-width="0.5" stroke-opacity="0.55"/>
<path d="M361.58 374.77L364.08 379.17L359.08 379.17Z" fill="#4a83c4" fill-opacity="0.62" stroke="#3a3a3a" stroke-width="0.5" stroke-opacity="0.55"/>
<path d="M363.33 368.43L365.83 372.83L360.83 372.83Z" fill="#4a83c4" fill-opacity="0.62" stroke="#3a3a3a" stroke-width="0.5" stroke-opacity="0.55"/>
<path d="M359.65 390.19L362.15 394.59L357.15 394.59Z" fill="#4dae4a" fill-opacity="0.62" stroke="#3a3a3a" stroke-width="0.5" stroke-opacity="0.55"/>
<path d="M359.23 390.32L361.73 394.72L356.73 394.72Z" fill="#4a83c4" fill-opacity="0.62" stroke="#3a3a3a" stroke-width="0.5" stroke-opacity="0.55"/>
<path d="M365.74 382.05L368.24 386.45L363.24 386.45Z" fill="#4a83c4" fill-opacity="0.62" stroke="#3a3a3a" stroke-width="0.5" stroke-opacity="0.55"/>
<path d="M365.54 365.77L368.04 370.17L363.04 370.17Z" fill="#4a83c4" fill-opacity="0.62" stroke="#3a3a3a" stroke-width="0.5" stroke-opacity="0.55"/>
<path d="M363.56 366.67L366.06 371.07L361.06 371.07Z" fill="#4a83c4" fill-opacity="0.62" stroke="#3a3a3a" stroke-width="0.5" stroke-opacity="0.55"/>
<path d="M354.54 363.69L357.04 368.09L352.04 368.09Z" fill="#4a83c4" fill-opacity="0.62" stroke="#3a3a3a" stroke-width="0.5" stroke-opacity="0.55"/>
<path d="M371.87 387.77L374.37 392.17L369.37 392.17Z" fill="#4a83c4" fill-opacity="0.62" stroke="#3a3a3a" stroke-width="0.5" stroke-opacity="0.55"/>
<path d="M369.68 386.93L372.18 391.33L367.18 391.33Z" fill="#4a83c4" fill-opacity="0.62" stroke="#3a3a3a" stroke-width="0.5" stroke-opacity="0.55"/>
<path d="M368.87 384.72L371.37 389.12L366.37 389.12Z" fill="#4a83c4" fill-opacity="0.62" stroke="#3a3a3a" stroke-width="0.5" stroke-opacity="0.55"/>
<path d="M368.29 368.13L370.79 372.53L365.79 372.53Z" fill="#4a83c4" fill-opacity="0.62" stroke="#3a3a3a" stroke-width="0.5" stroke-opacity="0.55"/>
<path d="M362.76 385.07L365.26 389.47L360.26 389.47Z" fill="#4a83c4" fill-opacity="0.62" stroke="#3a3a3a" stroke-width="0.5" stroke-opacity="0.55"/>
<path d="M366.07 389.61L368.57 394.01L363.57 394.01Z" fill="#4dae4a" fill-opacity="0.62" stroke="#3a3a3a" stroke-width="0.5" stroke-opacity="0.55"/>
<path d="M365.79 371.16L368.29 375.56L363.29 375.56Z" fill="#4a83c4" fill-opacity="0.62" stroke="#3a3a3a" stroke-width="0.5" stroke-opacity="0.55"/>
<path d="M366.44 378.24L368.94 382.64L363.94 382.64Z" fill="#4a83c4" fill-opacity="0.62" stroke="#3a3a3a" stroke-width="0.5" stroke-opacity="0.55"/>
<path d="M361.93 384.18L364.43 388.58L359.43 388.58Z" fill="#4a83c4" fill-opacity="0.62" stroke="#3a3a3a" stroke-width="0.5" stroke-opacity="0.55"/>
<path d="M359.28 365.50L361.78 369.90L356.78 369.90Z" fill="#4a83c4" fill-opacity="0.62" stroke="#3a3a3a" stroke-width="0.5" stroke-opacity="0.55"/>
<path d="M358.56 375.02L361.06 379.42L356.06 379.42Z" fill="#4a83c4" fill-opacity="0.62" stroke="#3a3a3a" stroke-width="0.5" stroke-opacity="0.55"/>
<path d="M363.70 339.90L366.20 344.30L361.20 344.30Z" fill="#4a83c4" fill-opacity="0.62" stroke="#3a3a3a" stroke-width="0.5" stroke-opacity="0.55"/>
<path d="M362.70 345.90L365.20 350.30L360.20 350.30Z" fill="#4a83c4" fill-opacity="0.62" stroke="#3a3a3a" stroke-width="0.5" stroke-opacity="0.55"/>
<path d="M372.30 346.70L374.80 351.10L369.80 351.10Z" fill="#4dae4a" fill-opacity="0.62" stroke="#3a3a3a" stroke-width="0.5" stroke-opacity="0.55"/>
<path d="M371.00 347.90L373.50 352.30L368.50 352.30Z" fill="#4a83c4" fill-opacity="0.62" stroke="#3a3a3a" stroke-width="0.5" stroke-opacity="0.55"/>
<path d="M379.00 347.70L381.50 352.10L376.50 352.10Z" fill="#4a83c4" fill-opacity="0.62" stroke="#3a3a3a" stroke-width="0.5" stroke-opacity="0.55"/>
<path d="M366.20 351.40L368.70 355.80L363.70 355.80Z" fill="#4a83c4" fill-opacity="0.62" stroke="#3a3a3a" stroke-width="0.5" stroke-opacity="0.55"/>
<path d="M368.90 352.10L371.40 356.50L366.40 356.50Z" fill="#4dae4a" fill-opacity="0.62" stroke="#3a3a3a" stroke-width="0.5" stroke-opacity="0.55"/>
<path d="M371.60 351.00L374.10 355.40L369.10 355.40Z" fill="#4a83c4" fill-opacity="0.62" stroke="#3a3a3a" stroke-width="0.5" stroke-opacity="0.55"/>
<path d="M363.50 354.80L366.00 359.20L361.00 359.20Z" fill="#4a83c4" fill-opacity="0.62" stroke="#3a3a3a" stroke-width="0.5" stroke-opacity="0.55"/>
<path d="M362.30 357.20L364.80 361.60L359.80 361.60Z" fill="#4a83c4" fill-opacity="0.62" stroke="#3a3a3a" stroke-width="0.5" stroke-opacity="0.55"/>
<path d="M369.30 356.80L371.80 361.20L366.80 361.20Z" fill="#4a83c4" fill-opacity="0.62" stroke="#3a3a3a" stroke-width="0.5" stroke-opacity="0.55"/>
<path d="M377.40 359.50L379.90 363.90L374.90 363.90Z" fill="#4a83c4" fill-opacity="0.62" stroke="#3a3a3a" stroke-width="0.5" stroke-opacity="0.55"/>
<path d="M377.60 359.80L380.10 364.20L375.10 364.20Z" fill="#4a83c4" fill-opacity="0.62" stroke="#3a3a3a" stroke-width="0.5" stroke-opacity="0.55"/>
<path d="M382.50 357.90L385.00 362.30L380.00 362.30Z" fill="#4a83c4" fill-opacity="0.62" stroke="#3a3a3a" stroke-width="0.5" stroke-opacity="0.55"/>
<path d="M392.00 356.90L394.50 361.30L389.50 361.30Z" fill="#4a83c4" fill-opacity="0.62" stroke="#3a3a3a" stroke-width="0.5" stroke-opacity="0.55"/>
<path d="M362.70 360.30L365.20 364.70L360.20 364.70Z" fill="#4a83c4" fill-opacity="0.62" stroke="#3a3a3a" stroke-width="0.5" stroke-opacity="0.55"/>
<path d="M363.10 363.00L365.60 367.40L360.60 367.40Z" fill="#4a83c4" fill-opacity="0.62" stroke="#3a3a3a" stroke-width="0.5" stroke-opacity="0.55"/>
<path d="M370.90 363.00L373.40 367.40L368.40 367.40Z" fill="#4dae4a" fill-opacity="0.62" stroke="#3a3a3a" stroke-width="0.5" stroke-opacity="0.55"/>
<path d="M369.70 364.10L372.20 368.50L367.20 368.50Z" fill="#4a83c4" fill-opacity="0.62" stroke="#3a3a3a" stroke-width="0.5" stroke-opacity="0.55"/>
<path d="M351.10 364.60L353.60 369.00L348.60 369.00Z" fill="#4a83c4" fill-opacity="0.62" stroke="#3a3a3a" stroke-width="0.5" stroke-opacity="0.55"/>
<path d="M354.00 364.20L356.50 368.60L351.50 368.60Z" fill="#4a83c4" fill-opacity="0.62" stroke="#3a3a3a" stroke-width="0.5" stroke-opacity="0.55"/>
<path d="M356.90 366.00L359.40 370.40L354.40 370.40Z" fill="#4a83c4" fill-opacity="0.62" stroke="#3a3a3a" stroke-width="0.5" stroke-opacity="0.55"/>
<path d="M361.60 365.30L364.10 369.70L359.10 369.70Z" fill="#4a83c4" fill-opacity="0.62" stroke="#3a3a3a" stroke-width="0.5" stroke-opacity="0.55"/>
<path d="M354.20 370.10L356.70 374.50L351.70 374.50Z" fill="#4a83c4" fill-opacity="0.62" stroke="#3a3a3a" stroke-width="0.5" stroke-opacity="0.55"/>
<path d="M354.60 372.50L357.10 376.90L352.10 376.90Z" fill="#4a83c4" fill-opacity="0.62" stroke="#3a3a3a" stroke-width="0.5" stroke-opacity="0.55"/>
<path d="M361.60 369.00L364.10 373.40L359.10 373.40Z" fill="#4a83c4" fill-opacity="0.62" stroke="#3a3a3a" stroke-width="0.5" stroke-opacity="0.55"/>
<path d="M366.60 369.80L369.10 374.20L364.10 374.20Z" fill="#4a83c4" fill-opacity="0.62" stroke="#3a3a3a" stroke-width="0.5" stroke-opacity="0.55"/>
<path d="M369.70 369.00L372.20 373.40L367.20 373.40Z" fill="#4dae4a" fill-opacity="0.62" stroke="#3a3a3a" stroke-width="0.5" stroke-opacity="0.55"/>
<path d="M374.70 370.50L377.20 374.90L372.20 374.90Z" fill="#4a83c4" fill-opacity="0.62" stroke="#3a3a3a" stroke-width="0.5" stroke-opacity="0.55"/>
<path d="M373.60 371.30L376.10 375.70L371.10 375.70Z" fill="#4dae4a" fill-opacity="0.62" stroke="#3a3a3a" stroke-width="0.5" stroke-opacity="0.55"/>
<path d="M361.20 372.80L363.70 377.20L358.70 377.20Z" fill="#4dae4a" fill-opacity="0.62" stroke="#3a3a3a" stroke-width="0.5" stroke-opacity="0.55"/>
<path d="M366.20 373.20L368.70 377.60L363.70 377.60Z" fill="#4a83c4" fill-opacity="0.62" stroke="#3a3a3a" stroke-width="0.5" stroke-opacity="0.55"/>
<path d="M358.50 376.70L361.00 381.10L356.00 381.10Z" fill="#4a83c4" fill-opacity="0.62" stroke="#3a3a3a" stroke-width="0.5" stroke-opacity="0.55"/>
<path d="M354.20 378.70L356.70 383.10L351.70 383.10Z" fill="#4dae4a" fill-opacity="0.62" stroke="#3a3a3a" stroke-width="0.5" stroke-opacity="0.55"/>
<path d="M356.90 381.40L359.40 385.80L354.40 385.80Z" fill="#4a83c4" fill-opacity="0.62" stroke="#3a3a3a" stroke-width="0.5" stroke-opacity="0.55"/>
<path d="M359.60 379.40L362.10 383.80L357.10 383.80Z" fill="#4a83c4" fill-opacity="0.62" stroke="#3a3a3a" stroke-width="0.5" stroke-opacity="0.55"/>
<path d="M361.60 381.70L364.10 386.10L359.10 386.10Z" fill="#4dae4a" fill-opacity="0.62" stroke="#3a3a3a" stroke-width="0.5" stroke-opacity="0.55"/>
<path d="M366.20 379.40L368.70 383.80L363.70 383.80Z" fill="#4a83c4" fill-opacity="0.62" stroke="#3a3a3a" stroke-width="0.5" stroke-opacity="0.55"/>
<path d="M368.50 383.30L371.00 387.70L366.00 387.70Z" fill="#4a83c4" fill-opacity="0.62" stroke="#3a3a3a" stroke-width="0.5" stroke-opacity="0.55"/>
<path d="M378.20 379.80L380.70 384.20L375.70 384.20Z" fill="#4a83c4" fill-opacity="0.62" stroke="#3a3a3a" stroke-width="0.5" stroke-opacity="0.55"/>
<path d="M380.80 384.80L383.30 389.20L378.30 389.20Z" fill="#4dae4a" fill-opacity="0.62" stroke="#3a3a3a" stroke-width="0.5" stroke-opacity="0.55"/>
<path d="M370.90 386.00L373.40 390.40L368.40 390.40Z" fill="#4a83c4" fill-opacity="0.62" stroke="#3a3a3a" stroke-width="0.5" stroke-opacity="0.55"/>
<path d="M358.10 390.70L360.60 395.10L355.60 395.10Z" fill="#4a83c4" fill-opacity="0.62" stroke="#3a3a3a" stroke-width="0.5" stroke-opacity="0.55"/>
<path d="M363.50 389.90L366.00 394.30L361.00 394.30Z" fill="#4dae4a" fill-opacity="0.62" stroke="#3a3a3a" stroke-width="0.5" stroke-opacity="0.55"/>
<path d="M367.80 391.40L370.30 395.80L365.30 395.80Z" fill="#4a83c4" fill-opacity="0.62" stroke="#3a3a3a" stroke-width="0.5" stroke-opacity="0.55"/>
<path d="M372.80 392.20L375.30 396.60L370.30 396.60Z" fill="#4a83c4" fill-opacity="0.62" stroke="#3a3a3a" stroke-width="0.5" stroke-opacity="0.55"/>
<path d="M378.40 392.30L380.90 396.70L375.90 396.70Z" fill="#4a83c4" fill-opacity="0.62" stroke="#3a3a3a" stroke-width="0.5" stroke-opacity="0.55"/>
<path d="M385.80 393.80L388.30 398.20L383.30 398.20Z" fill="#4a83c4" fill-opacity="0.62" stroke="#3a3a3a" stroke-width="0.5" stroke-opacity="0.55"/>
<path d="M358.70 396.70L361.20 401.10L356.20 401.10Z" fill="#4a83c4" fill-opacity="0.62" stroke="#3a3a3a" stroke-width="0.5" stroke-opacity="0.55"/>
<path d="M366.80 395.70L369.30 400.10L364.30 400.10Z" fill="#4a83c4" fill-opacity="0.62" stroke="#3a3a3a" stroke-width="0.5" stroke-opacity="0.55"/>
<path d="M366.70 396.90L369.20 401.30L364.20 401.30Z" fill="#4dae4a" fill-opacity="0.62" stroke="#3a3a3a" stroke-width="0.5" stroke-opacity="0.55"/>
<path d="M373.30 393.60L375.80 398.00L370.80 398.00Z" fill="#4a83c4" fill-opacity="0.62" stroke="#3a3a3a" stroke-width="0.5" stroke-opacity="0.55"/>
<path d="M383.90 398.90L386.40 403.30L381.40 403.30Z" fill="#4a83c4" fill-opacity="0.62" stroke="#3a3a3a" stroke-width="0.5" stroke-opacity="0.55"/>
<path d="M376.10 403.40L378.60 407.80L373.60 407.80Z" fill="#4a83c4" fill-opacity="0.62" stroke="#3a3a3a" stroke-width="0.5" stroke-opacity="0.55"/>
<path d="M375.30 405.50L377.80 409.90L372.80 409.90Z" fill="#4dae4a" fill-opacity="0.62" stroke="#3a3a3a" stroke-width="0.5" stroke-opacity="0.55"/>
<path d="M371.60 407.90L374.10 412.30L369.10 412.30Z" fill="#4a83c4" fill-opacity="0.62" stroke="#3a3a3a" stroke-width="0.5" stroke-opacity="0.55"/>
<path d="M375.20 416.10L377.70 420.50L372.70 420.50Z" fill="#4a83c4" fill-opacity="0.62" stroke="#3a3a3a" stroke-width="0.5" stroke-opacity="0.55"/>
<path d="M413.20 345.50L415.70 349.90L410.70 349.90Z" fill="#4dae4a" fill-opacity="0.62" stroke="#3a3a3a" stroke-width="0.5" stroke-opacity="0.55"/>
<path d="M402.80 379.10L405.30 383.50L400.30 383.50Z" fill="#4a83c4" fill-opacity="0.62" stroke="#3a3a3a" stroke-width="0.5" stroke-opacity="0.55"/>
<path d="M395.80 399.30L398.30 403.70L393.30 403.70Z" fill="#4a83c4" fill-opacity="0.62" stroke="#3a3a3a" stroke-width="0.5" stroke-opacity="0.55"/>
<path d="M418.80 411.90L421.30 416.30L416.30 416.30Z" fill="#4a83c4" fill-opacity="0.62" stroke="#3a3a3a" stroke-width="0.5" stroke-opacity="0.55"/>
<path d="M397.60 417.10L400.10 421.50L395.10 421.50Z" fill="#4a83c4" fill-opacity="0.62" stroke="#3a3a3a" stroke-width="0.5" stroke-opacity="0.55"/>
<path d="M393.40 423.80L395.90 428.20L390.90 428.20Z" fill="#4a83c4" fill-opacity="0.62" stroke="#3a3a3a" stroke-width="0.5" stroke-opacity="0.55"/>
<path d="M444.30 382.50L446.80 386.90L441.80 386.90Z" fill="#4a83c4" fill-opacity="0.62" stroke="#3a3a3a" stroke-width="0.5" stroke-opacity="0.55"/>
<path d="M451.50 383.90L454.00 388.30L449.00 388.30Z" fill="#4dae4a" fill-opacity="0.62" stroke="#3a3a3a" stroke-width="0.5" stroke-opacity="0.55"/>
<path d="M459.40 384.80L461.90 389.20L456.90 389.20Z" fill="#4a83c4" fill-opacity="0.62" stroke="#3a3a3a" stroke-width="0.5" stroke-opacity="0.55"/>
<path d="M442.10 393.20L444.60 397.60L439.60 397.60Z" fill="#4a83c4" fill-opacity="0.62" stroke="#3a3a3a" stroke-width="0.5" stroke-opacity="0.55"/>
<path d="M454.80 400.70L457.30 405.10L452.30 405.10Z" fill="#4dae4a" fill-opacity="0.62" stroke="#3a3a3a" stroke-width="0.5" stroke-opacity="0.55"/>
<text transform="translate(597.80,320.20)" font-size="8.770" text-anchor="middle" fill="#000" stroke="#000" stroke-width="0.22" stroke-opacity="0.6">Kruskal–Wallis FDR p = 0.004</text>
<line x1="522.80" y1="336.50" x2="522.80" y2="431.10" stroke="#5a5a5a" stroke-width="1.0"/>
<line x1="522.30" y1="430.60" x2="672.00" y2="430.60" stroke="#c9c9c9" stroke-width="1.1"/>
<line x1="522.80" y1="337.80" x2="525.80" y2="337.80" stroke="#5a5a5a" stroke-width="1.0"/>
<text transform="translate(520.80,341.10) scale(0.8696,1)" font-size="8.625" text-anchor="end" fill="#464646" stroke="#464646" stroke-width="0.22" stroke-opacity="0.6">0.9</text>
<line x1="522.80" y1="361.90" x2="525.80" y2="361.90" stroke="#5a5a5a" stroke-width="1.0"/>
<text transform="translate(520.80,365.20) scale(0.8696,1)" font-size="8.625" text-anchor="end" fill="#464646" stroke="#464646" stroke-width="0.22" stroke-opacity="0.6">0.7</text>
<line x1="522.80" y1="386.00" x2="525.80" y2="386.00" stroke="#5a5a5a" stroke-width="1.0"/>
<text transform="translate(520.80,389.30) scale(0.8696,1)" font-size="8.625" text-anchor="end" fill="#464646" stroke="#464646" stroke-width="0.22" stroke-opacity="0.6">0.5</text>
<line x1="522.80" y1="410.10" x2="525.80" y2="410.10" stroke="#5a5a5a" stroke-width="1.0"/>
<text transform="translate(520.80,413.40) scale(0.8696,1)" font-size="8.625" text-anchor="end" fill="#464646" stroke="#464646" stroke-width="0.22" stroke-opacity="0.6">0.3</text>
<line x1="563.30" y1="430.10" x2="563.30" y2="428.10" stroke="#5a5a5a" stroke-width="0.8"/>
<line x1="631.90" y1="430.10" x2="631.90" y2="428.10" stroke="#5a5a5a" stroke-width="0.8"/>
<text transform="translate(563.30,438.40) scale(0.9091,1)" font-size="8.360" text-anchor="middle" fill="#464646" stroke="#464646" stroke-width="0.22" stroke-opacity="0.6">D85 Not−Ill</text>
<text transform="translate(631.90,438.40) scale(0.9091,1)" font-size="8.360" text-anchor="middle" fill="#464646" stroke="#464646" stroke-width="0.22" stroke-opacity="0.6">Much−Later−Ill</text>
<text transform="translate(506.10,383.55) rotate(-90) scale(0.9091,1)" font-size="10.615" text-anchor="middle" fill="#000" stroke="#000" stroke-width="0.22" stroke-opacity="0.6">Distance to centroid</text>
<line x1="563.30" y1="389.00" x2="563.30" y2="404.50" stroke="#333" stroke-width="0.8"/>
<line x1="563.30" y1="417.70" x2="563.30" y2="426.00" stroke="#333" stroke-width="0.8"/>
<rect x="537.55" y="404.50" width="51.5" height="13.20" fill="#4a86c6" stroke="#5a5a5a" stroke-width="0.8"/>
<line x1="537.55" y1="411.40" x2="589.05" y2="411.40" stroke="#303030" stroke-width="1.15"/>
<line x1="631.90" y1="386.20" x2="631.90" y2="399.00" stroke="#333" stroke-width="0.8"/>
<line x1="631.90" y1="412.50" x2="631.90" y2="420.00" stroke="#333" stroke-width="0.8"/>
<rect x="606.15" y="399.00" width="51.5" height="13.50" fill="#4dae4a" stroke="#5a5a5a" stroke-width="0.8"/>
<line x1="606.15" y1="407.40" x2="657.65" y2="407.40" stroke="#303030" stroke-width="1.15"/>
<circle cx="560.50" cy="342.30" r="1.55" fill="#000" fill-opacity="0.68"/>
<circle cx="561.40" cy="343.40" r="1.55" fill="#000" fill-opacity="0.68"/>
<circle cx="570.70" cy="341.00" r="1.55" fill="#000" fill-opacity="0.68"/>
<circle cx="570.10" cy="352.90" r="1.55" fill="#000" fill-opacity="0.68"/>
<circle cx="566.40" cy="354.90" r="1.55" fill="#000" fill-opacity="0.68"/>
<circle cx="553.40" cy="356.00" r="1.55" fill="#000" fill-opacity="0.68"/>
<circle cx="555.40" cy="360.20" r="1.55" fill="#000" fill-opacity="0.68"/>
<circle cx="566.80" cy="372.20" r="1.55" fill="#000" fill-opacity="0.68"/>
<circle cx="564.40" cy="374.40" r="1.55" fill="#000" fill-opacity="0.68"/>
<circle cx="559.80" cy="374.50" r="1.55" fill="#000" fill-opacity="0.68"/>
<circle cx="567.40" cy="376.80" r="1.55" fill="#000" fill-opacity="0.68"/>
<circle cx="563.80" cy="384.00" r="1.55" fill="#000" fill-opacity="0.68"/>
<circle cx="555.00" cy="386.30" r="1.55" fill="#000" fill-opacity="0.68"/>
<circle cx="556.20" cy="388.60" r="1.55" fill="#000" fill-opacity="0.68"/>
<circle cx="567.00" cy="385.90" r="1.55" fill="#000" fill-opacity="0.68"/>
<circle cx="568.60" cy="387.10" r="1.55" fill="#000" fill-opacity="0.68"/>
<circle cx="571.30" cy="386.30" r="1.55" fill="#000" fill-opacity="0.68"/>
<circle cx="562.40" cy="390.30" r="1.55" fill="#000" fill-opacity="0.68"/>
<circle cx="553.50" cy="391.10" r="1.55" fill="#000" fill-opacity="0.68"/>
<circle cx="556.20" cy="392.30" r="1.55" fill="#000" fill-opacity="0.68"/>
<circle cx="572.50" cy="390.50" r="1.55" fill="#000" fill-opacity="0.68"/>
<circle cx="570.90" cy="395.20" r="1.55" fill="#000" fill-opacity="0.68"/>
<circle cx="572.80" cy="396.00" r="1.55" fill="#000" fill-opacity="0.68"/>
<circle cx="569.70" cy="396.70" r="1.55" fill="#000" fill-opacity="0.68"/>
<circle cx="561.60" cy="397.10" r="1.55" fill="#000" fill-opacity="0.68"/>
<circle cx="566.60" cy="397.50" r="1.55" fill="#000" fill-opacity="0.68"/>
<circle cx="567.80" cy="400.60" r="1.55" fill="#000" fill-opacity="0.68"/>
<circle cx="555.80" cy="399.50" r="1.55" fill="#000" fill-opacity="0.68"/>
<circle cx="558.50" cy="399.80" r="1.55" fill="#000" fill-opacity="0.68"/>
<circle cx="560.10" cy="399.80" r="1.55" fill="#000" fill-opacity="0.68"/>
<circle cx="558.50" cy="404.10" r="1.55" fill="#000" fill-opacity="0.68"/>
<circle cx="567.00" cy="404.10" r="1.55" fill="#000" fill-opacity="0.68"/>
<circle cx="631.20" cy="343.10" r="1.55" fill="#000" fill-opacity="0.68"/>
<circle cx="633.40" cy="346.10" r="1.55" fill="#000" fill-opacity="0.68"/>
<circle cx="632.80" cy="360.50" r="1.55" fill="#000" fill-opacity="0.68"/>
<circle cx="637.40" cy="360.20" r="1.55" fill="#000" fill-opacity="0.68"/>
<circle cx="640.90" cy="360.50" r="1.55" fill="#000" fill-opacity="0.68"/>
<circle cx="641.70" cy="362.60" r="1.55" fill="#000" fill-opacity="0.68"/>
<circle cx="635.50" cy="363.10" r="1.55" fill="#000" fill-opacity="0.68"/>
<circle cx="631.40" cy="364.90" r="1.55" fill="#000" fill-opacity="0.68"/>
<circle cx="639.90" cy="374.70" r="1.55" fill="#000" fill-opacity="0.68"/>
<circle cx="624.70" cy="386.10" r="1.55" fill="#000" fill-opacity="0.68"/>
<circle cx="631.10" cy="391.50" r="1.55" fill="#000" fill-opacity="0.68"/>
<circle cx="623.30" cy="393.90" r="1.55" fill="#000" fill-opacity="0.68"/>
<circle cx="624.00" cy="398.00" r="1.55" fill="#000" fill-opacity="0.68"/>
<circle cx="623.60" cy="401.00" r="1.55" fill="#000" fill-opacity="0.68"/>
<circle cx="636.20" cy="400.40" r="1.55" fill="#000" fill-opacity="0.68"/>
<circle cx="630.90" cy="404.10" r="1.55" fill="#000" fill-opacity="0.68"/>
<circle cx="634.00" cy="403.70" r="1.55" fill="#000" fill-opacity="0.68"/>
<circle cx="639.00" cy="404.70" r="1.55" fill="#000" fill-opacity="0.68"/>
<circle cx="623.90" cy="398.30" r="1.55" fill="#000" fill-opacity="0.68"/>
<circle cx="623.10" cy="401.10" r="1.55" fill="#000" fill-opacity="0.68"/>
<circle cx="636.00" cy="400.60" r="1.55" fill="#000" fill-opacity="0.68"/>
<circle cx="630.50" cy="404.40" r="1.55" fill="#000" fill-opacity="0.68"/>
<circle cx="631.90" cy="404.80" r="1.55" fill="#000" fill-opacity="0.68"/>
<circle cx="634.10" cy="403.60" r="1.55" fill="#000" fill-opacity="0.68"/>
<circle cx="627.20" cy="405.60" r="1.55" fill="#000" fill-opacity="0.68"/>
<circle cx="639.10" cy="405.20" r="1.55" fill="#000" fill-opacity="0.68"/>
<circle cx="641.10" cy="406.50" r="1.55" fill="#000" fill-opacity="0.68"/>
<circle cx="642.30" cy="407.30" r="1.55" fill="#000" fill-opacity="0.68"/>
<circle cx="622.30" cy="408.10" r="1.55" fill="#000" fill-opacity="0.68"/>
<circle cx="625.10" cy="408.50" r="1.55" fill="#000" fill-opacity="0.68"/>
<circle cx="626.40" cy="407.30" r="1.55" fill="#000" fill-opacity="0.68"/>
<circle cx="631.70" cy="408.90" r="1.55" fill="#000" fill-opacity="0.68"/>
<circle cx="637.00" cy="409.70" r="1.55" fill="#000" fill-opacity="0.68"/>
<circle cx="638.60" cy="408.90" r="1.55" fill="#000" fill-opacity="0.68"/>
<circle cx="621.90" cy="411.40" r="1.55" fill="#000" fill-opacity="0.68"/>
<circle cx="624.70" cy="410.50" r="1.55" fill="#000" fill-opacity="0.68"/>
<circle cx="633.70" cy="410.50" r="1.55" fill="#000" fill-opacity="0.68"/>
<circle cx="636.20" cy="411.00" r="1.55" fill="#000" fill-opacity="0.68"/>
<circle cx="623.10" cy="412.60" r="1.55" fill="#000" fill-opacity="0.68"/>
<circle cx="626.40" cy="413.40" r="1.55" fill="#000" fill-opacity="0.68"/>
<circle cx="629.60" cy="412.60" r="1.55" fill="#000" fill-opacity="0.68"/>
<circle cx="632.10" cy="413.80" r="1.55" fill="#000" fill-opacity="0.68"/>
<circle cx="640.30" cy="413.40" r="1.55" fill="#000" fill-opacity="0.68"/>
<circle cx="622.70" cy="415.90" r="1.55" fill="#000" fill-opacity="0.68"/>
<circle cx="625.10" cy="414.20" r="1.55" fill="#000" fill-opacity="0.68"/>
<circle cx="628.80" cy="416.30" r="1.55" fill="#000" fill-opacity="0.68"/>
<circle cx="634.10" cy="415.90" r="1.55" fill="#000" fill-opacity="0.68"/>
<circle cx="634.50" cy="416.70" r="1.55" fill="#000" fill-opacity="0.68"/>
<circle cx="636.60" cy="420.40" r="1.55" fill="#000" fill-opacity="0.68"/>
<circle cx="640.90" cy="418.90" r="1.55" fill="#000" fill-opacity="0.68"/>
<circle cx="639.10" cy="411.40" r="1.55" fill="#000" fill-opacity="0.68"/>
<circle cx="558.24" cy="412.07" r="1.55" fill="#000" fill-opacity="0.68"/>
<circle cx="561.14" cy="412.85" r="1.55" fill="#000" fill-opacity="0.68"/>
<circle cx="566.77" cy="405.85" r="1.55" fill="#000" fill-opacity="0.68"/>
<circle cx="553.29" cy="415.89" r="1.55" fill="#000" fill-opacity="0.68"/>
<circle cx="558.71" cy="408.05" r="1.55" fill="#000" fill-opacity="0.68"/>
<circle cx="574.90" cy="411.11" r="1.55" fill="#000" fill-opacity="0.68"/>
<circle cx="571.40" cy="411.19" r="1.55" fill="#000" fill-opacity="0.68"/>
<circle cx="566.97" cy="416.28" r="1.55" fill="#000" fill-opacity="0.68"/>
<circle cx="564.51" cy="414.64" r="1.55" fill="#000" fill-opacity="0.68"/>
<circle cx="569.68" cy="412.68" r="1.55" fill="#000" fill-opacity="0.68"/>
<circle cx="559.63" cy="405.40" r="1.55" fill="#000" fill-opacity="0.68"/>
<circle cx="568.81" cy="416.42" r="1.55" fill="#000" fill-opacity="0.68"/>
<circle cx="561.69" cy="415.41" r="1.55" fill="#000" fill-opacity="0.68"/>
<circle cx="562.78" cy="417.16" r="1.55" fill="#000" fill-opacity="0.68"/>
<circle cx="572.34" cy="406.27" r="1.55" fill="#000" fill-opacity="0.68"/>
<circle cx="555.99" cy="407.82" r="1.55" fill="#000" fill-opacity="0.68"/>
<circle cx="566.79" cy="408.91" r="1.55" fill="#000" fill-opacity="0.68"/>
<circle cx="564.16" cy="410.02" r="1.55" fill="#000" fill-opacity="0.68"/>
<circle cx="571.84" cy="417.88" r="1.55" fill="#000" fill-opacity="0.68"/>
<circle cx="567.77" cy="407.12" r="1.55" fill="#000" fill-opacity="0.68"/>
<circle cx="572.90" cy="412.40" r="1.55" fill="#000" fill-opacity="0.68"/>
<circle cx="554.95" cy="415.41" r="1.55" fill="#000" fill-opacity="0.68"/>
<circle cx="562.03" cy="406.96" r="1.55" fill="#000" fill-opacity="0.68"/>
<circle cx="559.47" cy="414.99" r="1.55" fill="#000" fill-opacity="0.68"/>
<circle cx="568.81" cy="409.30" r="1.55" fill="#000" fill-opacity="0.68"/>
<circle cx="564.12" cy="417.98" r="1.55" fill="#000" fill-opacity="0.68"/>
<circle cx="557.34" cy="410.30" r="1.55" fill="#000" fill-opacity="0.68"/>
<circle cx="559.90" cy="417.46" r="1.55" fill="#000" fill-opacity="0.68"/>
<circle cx="572.73" cy="409.91" r="1.55" fill="#000" fill-opacity="0.68"/>
<circle cx="563.13" cy="411.76" r="1.55" fill="#000" fill-opacity="0.68"/>
<circle cx="567.17" cy="412.74" r="1.55" fill="#000" fill-opacity="0.68"/>
<circle cx="565.30" cy="413.06" r="1.55" fill="#000" fill-opacity="0.68"/>
<circle cx="562.49" cy="414.36" r="1.55" fill="#000" fill-opacity="0.68"/>
<circle cx="565.07" cy="405.15" r="1.55" fill="#000" fill-opacity="0.68"/>
<circle cx="553.44" cy="413.01" r="1.55" fill="#000" fill-opacity="0.68"/>
<circle cx="566.80" cy="411.06" r="1.55" fill="#000" fill-opacity="0.68"/>
<circle cx="568.55" cy="414.59" r="1.55" fill="#000" fill-opacity="0.68"/>
<circle cx="553.49" cy="405.79" r="1.55" fill="#000" fill-opacity="0.68"/>
<circle cx="567.87" cy="417.52" r="1.55" fill="#000" fill-opacity="0.68"/>
<circle cx="561.01" cy="409.06" r="1.55" fill="#000" fill-opacity="0.68"/>
<circle cx="559.61" cy="409.90" r="1.55" fill="#000" fill-opacity="0.68"/>
<circle cx="569.99" cy="405.35" r="1.55" fill="#000" fill-opacity="0.68"/>
<circle cx="570.68" cy="408.10" r="1.55" fill="#000" fill-opacity="0.68"/>
<circle cx="557.95" cy="406.57" r="1.55" fill="#000" fill-opacity="0.68"/>
<circle cx="564.65" cy="407.48" r="1.55" fill="#000" fill-opacity="0.68"/>
<circle cx="570.75" cy="415.90" r="1.55" fill="#000" fill-opacity="0.68"/>
<circle cx="557.04" cy="408.62" r="1.55" fill="#000" fill-opacity="0.68"/>
<circle cx="570.74" cy="409.49" r="1.55" fill="#000" fill-opacity="0.68"/>
<circle cx="562.23" cy="410.32" r="1.55" fill="#000" fill-opacity="0.68"/>
<circle cx="553.10" cy="417.26" r="1.55" fill="#000" fill-opacity="0.68"/>
<circle cx="573.40" cy="407.89" r="1.55" fill="#000" fill-opacity="0.68"/>
<circle cx="572.88" cy="414.02" r="1.55" fill="#000" fill-opacity="0.68"/>
<circle cx="572.44" cy="422.48" r="1.55" fill="#000" fill-opacity="0.68"/>
<circle cx="571.94" cy="420.88" r="1.55" fill="#000" fill-opacity="0.68"/>
<circle cx="553.77" cy="421.73" r="1.55" fill="#000" fill-opacity="0.68"/>
<circle cx="557.02" cy="419.50" r="1.55" fill="#000" fill-opacity="0.68"/>
<circle cx="567.09" cy="420.62" r="1.55" fill="#000" fill-opacity="0.68"/>
<circle cx="561.98" cy="422.70" r="1.55" fill="#000" fill-opacity="0.68"/>
<circle cx="566.05" cy="419.71" r="1.55" fill="#000" fill-opacity="0.68"/>
<circle cx="558.68" cy="422.31" r="1.55" fill="#000" fill-opacity="0.68"/>
<circle cx="563.28" cy="421.91" r="1.55" fill="#000" fill-opacity="0.68"/>
<circle cx="560.71" cy="418.99" r="1.55" fill="#000" fill-opacity="0.68"/>
<circle cx="557.01" cy="421.96" r="1.55" fill="#000" fill-opacity="0.68"/>
<circle cx="570.38" cy="418.04" r="1.55" fill="#000" fill-opacity="0.68"/>
<circle cx="566.39" cy="422.31" r="1.55" fill="#000" fill-opacity="0.68"/>
<circle cx="554.52" cy="419.36" r="1.55" fill="#000" fill-opacity="0.68"/>
<circle cx="559.01" cy="420.64" r="1.55" fill="#000" fill-opacity="0.68"/>
<circle cx="562.17" cy="420.36" r="1.55" fill="#000" fill-opacity="0.68"/>
<circle cx="567.65" cy="423.01" r="1.55" fill="#000" fill-opacity="0.68"/>
<circle cx="556.82" cy="423.63" r="1.55" fill="#000" fill-opacity="0.68"/>
<circle cx="570.62" cy="427.27" r="1.55" fill="#000" fill-opacity="0.68"/>
<circle cx="557.29" cy="425.51" r="1.55" fill="#000" fill-opacity="0.68"/>
<circle cx="560.74" cy="424.57" r="1.55" fill="#000" fill-opacity="0.68"/>
<circle cx="561.27" cy="426.23" r="1.55" fill="#000" fill-opacity="0.68"/>
<circle cx="564.80" cy="424.80" r="1.55" fill="#000" fill-opacity="0.68"/>
<circle cx="558.87" cy="424.64" r="1.55" fill="#000" fill-opacity="0.68"/>
<circle cx="566.74" cy="424.90" r="1.55" fill="#000" fill-opacity="0.68"/>
<circle cx="568.02" cy="426.11" r="1.55" fill="#000" fill-opacity="0.68"/>
<circle cx="562.47" cy="424.86" r="1.55" fill="#000" fill-opacity="0.68"/>
<circle cx="563.44" cy="426.51" r="1.55" fill="#000" fill-opacity="0.68"/>
</svg></body></html>
